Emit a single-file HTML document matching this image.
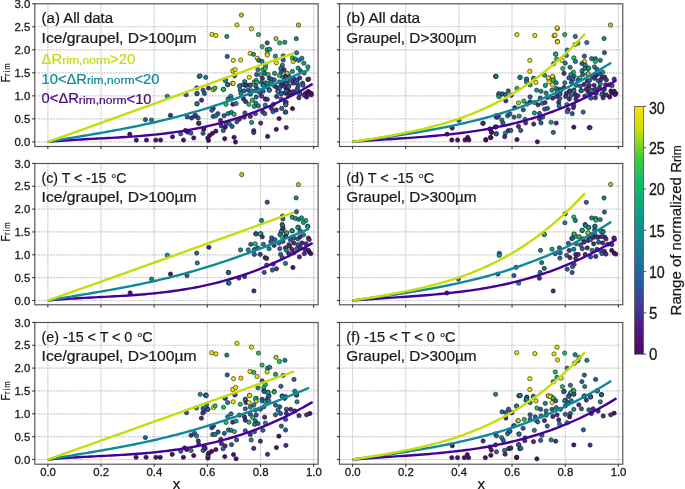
<!DOCTYPE html>
<html><head><meta charset="utf-8"><style>
html,body{margin:0;padding:0;background:#fff;overflow:hidden;width:685px;height:489px;}
svg{display:block;font-family:"Liberation Sans", sans-serif;will-change:transform;}
</style></head><body>
<svg width="685" height="489" viewBox="0 0 685 489">
<rect width="685" height="489" fill="#fff"/>
<line x1="47.85" y1="3.80" x2="47.85" y2="146.50" stroke="#cacaca" stroke-width="1.2" stroke-dasharray="2,1"/>
<line x1="101.01" y1="3.80" x2="101.01" y2="146.50" stroke="#cacaca" stroke-width="1.2" stroke-dasharray="2,1"/>
<line x1="154.17" y1="3.80" x2="154.17" y2="146.50" stroke="#cacaca" stroke-width="1.2" stroke-dasharray="2,1"/>
<line x1="207.33" y1="3.80" x2="207.33" y2="146.50" stroke="#cacaca" stroke-width="1.2" stroke-dasharray="2,1"/>
<line x1="260.49" y1="3.80" x2="260.49" y2="146.50" stroke="#cacaca" stroke-width="1.2" stroke-dasharray="2,1"/>
<line x1="313.65" y1="3.80" x2="313.65" y2="146.50" stroke="#cacaca" stroke-width="1.2" stroke-dasharray="2,1"/>
<line x1="34.80" y1="141.90" x2="318.10" y2="141.90" stroke="#cacaca" stroke-width="1.2" stroke-dasharray="2,1"/>
<line x1="34.80" y1="118.88" x2="318.10" y2="118.88" stroke="#cacaca" stroke-width="1.2" stroke-dasharray="2,1"/>
<line x1="34.80" y1="95.85" x2="318.10" y2="95.85" stroke="#cacaca" stroke-width="1.2" stroke-dasharray="2,1"/>
<line x1="34.80" y1="72.83" x2="318.10" y2="72.83" stroke="#cacaca" stroke-width="1.2" stroke-dasharray="2,1"/>
<line x1="34.80" y1="49.80" x2="318.10" y2="49.80" stroke="#cacaca" stroke-width="1.2" stroke-dasharray="2,1"/>
<line x1="34.80" y1="26.77" x2="318.10" y2="26.77" stroke="#cacaca" stroke-width="1.2" stroke-dasharray="2,1"/>
<circle cx="167.3" cy="96.3" r="2.15" fill="#0ca085" stroke="#151515" stroke-width="0.6"/>
<circle cx="145.4" cy="119.7" r="2.15" fill="#285fa0" stroke="#151515" stroke-width="0.6"/>
<circle cx="151.5" cy="120.1" r="2.15" fill="#168496" stroke="#151515" stroke-width="0.6"/>
<circle cx="170.5" cy="115.4" r="2.15" fill="#4a2a8a" stroke="#151515" stroke-width="0.6"/>
<circle cx="129.8" cy="134.2" r="2.15" fill="#510c6d" stroke="#151515" stroke-width="0.6"/>
<circle cx="136.3" cy="140.1" r="2.15" fill="#510c6d" stroke="#151515" stroke-width="0.6"/>
<circle cx="146.5" cy="140.1" r="2.15" fill="#510c6d" stroke="#151515" stroke-width="0.6"/>
<circle cx="155.8" cy="140.1" r="2.15" fill="#510c6d" stroke="#151515" stroke-width="0.6"/>
<circle cx="160.6" cy="140.1" r="2.15" fill="#510c6d" stroke="#151515" stroke-width="0.6"/>
<circle cx="172.5" cy="136.8" r="2.15" fill="#510c6d" stroke="#151515" stroke-width="0.6"/>
<circle cx="186.1" cy="94.8" r="2.15" fill="#285fa0" stroke="#151515" stroke-width="0.6"/>
<circle cx="197.0" cy="93.7" r="2.15" fill="#285fa0" stroke="#151515" stroke-width="0.6"/>
<circle cx="199.1" cy="76.4" r="2.15" fill="#168496" stroke="#151515" stroke-width="0.6"/>
<circle cx="197.0" cy="103.9" r="2.15" fill="#168496" stroke="#151515" stroke-width="0.6"/>
<circle cx="187.2" cy="116.9" r="2.15" fill="#285fa0" stroke="#151515" stroke-width="0.6"/>
<circle cx="191.6" cy="118.0" r="2.15" fill="#4a2a8a" stroke="#151515" stroke-width="0.6"/>
<circle cx="194.8" cy="115.8" r="2.15" fill="#285fa0" stroke="#151515" stroke-width="0.6"/>
<circle cx="198.1" cy="118.0" r="2.15" fill="#285fa0" stroke="#151515" stroke-width="0.6"/>
<circle cx="180.7" cy="133.8" r="2.15" fill="#285fa0" stroke="#151515" stroke-width="0.6"/>
<circle cx="185.5" cy="130.5" r="2.15" fill="#4a2a8a" stroke="#151515" stroke-width="0.6"/>
<circle cx="187.7" cy="132.1" r="2.15" fill="#510c6d" stroke="#151515" stroke-width="0.6"/>
<circle cx="190.9" cy="133.1" r="2.15" fill="#285fa0" stroke="#151515" stroke-width="0.6"/>
<circle cx="183.5" cy="140.1" r="2.15" fill="#510c6d" stroke="#151515" stroke-width="0.6"/>
<circle cx="193.7" cy="137.9" r="2.15" fill="#510c6d" stroke="#151515" stroke-width="0.6"/>
<circle cx="198.7" cy="123.4" r="2.15" fill="#510c6d" stroke="#151515" stroke-width="0.6"/>
<circle cx="241.4" cy="15.1" r="2.15" fill="#9dd918" stroke="#151515" stroke-width="0.6"/>
<circle cx="237.0" cy="24.9" r="2.15" fill="#f3e102" stroke="#151515" stroke-width="0.6"/>
<circle cx="211.9" cy="34.4" r="2.15" fill="#f3e102" stroke="#151515" stroke-width="0.6"/>
<circle cx="215.8" cy="35.5" r="2.15" fill="#f3e102" stroke="#151515" stroke-width="0.6"/>
<circle cx="226.8" cy="36.5" r="2.15" fill="#0ca085" stroke="#151515" stroke-width="0.6"/>
<circle cx="251.5" cy="28.7" r="2.15" fill="#f3e102" stroke="#151515" stroke-width="0.6"/>
<circle cx="258.5" cy="34.6" r="2.15" fill="#1ec15b" stroke="#151515" stroke-width="0.6"/>
<circle cx="298.5" cy="25.0" r="2.15" fill="#9dd918" stroke="#151515" stroke-width="0.6"/>
<circle cx="276.0" cy="38.7" r="2.15" fill="#9dd918" stroke="#151515" stroke-width="0.6"/>
<circle cx="279.7" cy="42.9" r="2.15" fill="#1ec15b" stroke="#151515" stroke-width="0.6"/>
<circle cx="284.8" cy="42.3" r="2.15" fill="#0ca085" stroke="#151515" stroke-width="0.6"/>
<circle cx="296.3" cy="38.7" r="2.15" fill="#168496" stroke="#151515" stroke-width="0.6"/>
<circle cx="267.2" cy="42.9" r="2.15" fill="#285fa0" stroke="#151515" stroke-width="0.6"/>
<circle cx="262.2" cy="46.6" r="2.15" fill="#1ec15b" stroke="#151515" stroke-width="0.6"/>
<circle cx="267.2" cy="49.7" r="2.15" fill="#0ca085" stroke="#151515" stroke-width="0.6"/>
<circle cx="269.6" cy="49.3" r="2.15" fill="#0ca085" stroke="#151515" stroke-width="0.6"/>
<circle cx="267.3" cy="53.8" r="2.15" fill="#f3e102" stroke="#151515" stroke-width="0.6"/>
<circle cx="250.2" cy="53.4" r="2.15" fill="#f3e102" stroke="#151515" stroke-width="0.6"/>
<circle cx="253.5" cy="54.3" r="2.15" fill="#0ca085" stroke="#151515" stroke-width="0.6"/>
<circle cx="227.2" cy="56.5" r="2.15" fill="#285fa0" stroke="#151515" stroke-width="0.6"/>
<circle cx="233.3" cy="60.4" r="2.15" fill="#f3e102" stroke="#151515" stroke-width="0.6"/>
<circle cx="240.7" cy="60.0" r="2.15" fill="#f3e102" stroke="#151515" stroke-width="0.6"/>
<circle cx="296.6" cy="52.8" r="2.15" fill="#168496" stroke="#151515" stroke-width="0.6"/>
<circle cx="232.7" cy="70.9" r="2.15" fill="#f3e102" stroke="#151515" stroke-width="0.6"/>
<circle cx="235.1" cy="69.6" r="2.15" fill="#f3e102" stroke="#151515" stroke-width="0.6"/>
<circle cx="234.6" cy="75.8" r="2.15" fill="#285fa0" stroke="#151515" stroke-width="0.6"/>
<circle cx="249.3" cy="77.3" r="2.15" fill="#f3e102" stroke="#151515" stroke-width="0.6"/>
<circle cx="200.2" cy="75.8" r="2.15" fill="#168496" stroke="#151515" stroke-width="0.6"/>
<circle cx="205.7" cy="77.3" r="2.15" fill="#168496" stroke="#151515" stroke-width="0.6"/>
<circle cx="225.4" cy="79.5" r="2.15" fill="#285fa0" stroke="#151515" stroke-width="0.6"/>
<circle cx="227.8" cy="84.7" r="2.15" fill="#168496" stroke="#151515" stroke-width="0.6"/>
<circle cx="232.7" cy="83.4" r="2.15" fill="#f3e102" stroke="#151515" stroke-width="0.6"/>
<circle cx="240.1" cy="85.6" r="2.15" fill="#1ec15b" stroke="#151515" stroke-width="0.6"/>
<circle cx="244.7" cy="81.6" r="2.15" fill="#168496" stroke="#151515" stroke-width="0.6"/>
<circle cx="246.5" cy="85.1" r="2.15" fill="#285fa0" stroke="#151515" stroke-width="0.6"/>
<circle cx="250.2" cy="85.1" r="2.15" fill="#4a2a8a" stroke="#151515" stroke-width="0.6"/>
<circle cx="213.4" cy="89.3" r="2.15" fill="#f3e102" stroke="#151515" stroke-width="0.6"/>
<circle cx="223.5" cy="89.3" r="2.15" fill="#9dd918" stroke="#151515" stroke-width="0.6"/>
<circle cx="196.8" cy="87.8" r="2.15" fill="#285fa0" stroke="#151515" stroke-width="0.6"/>
<circle cx="225.3" cy="80.7" r="2.15" fill="#168496" stroke="#151515" stroke-width="0.6"/>
<circle cx="233.2" cy="83.4" r="2.15" fill="#f3e102" stroke="#151515" stroke-width="0.6"/>
<circle cx="227.6" cy="84.7" r="2.15" fill="#168496" stroke="#151515" stroke-width="0.6"/>
<circle cx="223.3" cy="89.4" r="2.15" fill="#1ec15b" stroke="#151515" stroke-width="0.6"/>
<circle cx="213.2" cy="89.7" r="2.15" fill="#9dd918" stroke="#151515" stroke-width="0.6"/>
<circle cx="215.0" cy="88.1" r="2.15" fill="#1ec15b" stroke="#151515" stroke-width="0.6"/>
<circle cx="208.5" cy="88.1" r="2.15" fill="#4a2a8a" stroke="#151515" stroke-width="0.6"/>
<circle cx="203.1" cy="90.1" r="2.15" fill="#285fa0" stroke="#151515" stroke-width="0.6"/>
<circle cx="204.4" cy="93.5" r="2.15" fill="#285fa0" stroke="#151515" stroke-width="0.6"/>
<circle cx="197.0" cy="93.5" r="2.15" fill="#285fa0" stroke="#151515" stroke-width="0.6"/>
<circle cx="239.5" cy="86.1" r="2.15" fill="#168496" stroke="#151515" stroke-width="0.6"/>
<circle cx="243.5" cy="84.7" r="2.15" fill="#168496" stroke="#151515" stroke-width="0.6"/>
<circle cx="245.6" cy="85.4" r="2.15" fill="#4a2a8a" stroke="#151515" stroke-width="0.6"/>
<circle cx="250.3" cy="85.4" r="2.15" fill="#285fa0" stroke="#151515" stroke-width="0.6"/>
<circle cx="254.3" cy="82.0" r="2.15" fill="#1ec15b" stroke="#151515" stroke-width="0.6"/>
<circle cx="240.2" cy="90.1" r="2.15" fill="#168496" stroke="#151515" stroke-width="0.6"/>
<circle cx="244.2" cy="90.8" r="2.15" fill="#285fa0" stroke="#151515" stroke-width="0.6"/>
<circle cx="248.3" cy="90.1" r="2.15" fill="#285fa0" stroke="#151515" stroke-width="0.6"/>
<circle cx="251.6" cy="90.8" r="2.15" fill="#168496" stroke="#151515" stroke-width="0.6"/>
<circle cx="240.9" cy="93.5" r="2.15" fill="#168496" stroke="#151515" stroke-width="0.6"/>
<circle cx="250.3" cy="94.2" r="2.15" fill="#4a2a8a" stroke="#151515" stroke-width="0.6"/>
<circle cx="230.7" cy="96.2" r="2.15" fill="#0ca085" stroke="#151515" stroke-width="0.6"/>
<circle cx="228.0" cy="98.9" r="2.15" fill="#168496" stroke="#151515" stroke-width="0.6"/>
<circle cx="231.4" cy="98.9" r="2.15" fill="#168496" stroke="#151515" stroke-width="0.6"/>
<circle cx="226.0" cy="104.3" r="2.15" fill="#1ec15b" stroke="#151515" stroke-width="0.6"/>
<circle cx="232.8" cy="104.3" r="2.15" fill="#4a2a8a" stroke="#151515" stroke-width="0.6"/>
<circle cx="236.1" cy="103.6" r="2.15" fill="#168496" stroke="#151515" stroke-width="0.6"/>
<circle cx="243.5" cy="98.9" r="2.15" fill="#4a2a8a" stroke="#151515" stroke-width="0.6"/>
<circle cx="245.6" cy="101.6" r="2.15" fill="#4a2a8a" stroke="#151515" stroke-width="0.6"/>
<circle cx="248.9" cy="104.3" r="2.15" fill="#1ec15b" stroke="#151515" stroke-width="0.6"/>
<circle cx="252.3" cy="100.2" r="2.15" fill="#1ec15b" stroke="#151515" stroke-width="0.6"/>
<circle cx="254.3" cy="106.3" r="2.15" fill="#0ca085" stroke="#151515" stroke-width="0.6"/>
<circle cx="201.5" cy="100.2" r="2.15" fill="#4a2a8a" stroke="#151515" stroke-width="0.6"/>
<circle cx="197.0" cy="103.6" r="2.15" fill="#168496" stroke="#151515" stroke-width="0.6"/>
<circle cx="213.2" cy="108.3" r="2.15" fill="#4a2a8a" stroke="#151515" stroke-width="0.6"/>
<circle cx="211.9" cy="110.3" r="2.15" fill="#285fa0" stroke="#151515" stroke-width="0.6"/>
<circle cx="217.9" cy="113.7" r="2.15" fill="#285fa0" stroke="#151515" stroke-width="0.6"/>
<circle cx="213.2" cy="116.4" r="2.15" fill="#285fa0" stroke="#151515" stroke-width="0.6"/>
<circle cx="215.9" cy="115.7" r="2.15" fill="#168496" stroke="#151515" stroke-width="0.6"/>
<circle cx="224.0" cy="115.7" r="2.15" fill="#285fa0" stroke="#151515" stroke-width="0.6"/>
<circle cx="228.0" cy="113.7" r="2.15" fill="#168496" stroke="#151515" stroke-width="0.6"/>
<circle cx="231.4" cy="112.4" r="2.15" fill="#168496" stroke="#151515" stroke-width="0.6"/>
<circle cx="234.1" cy="114.4" r="2.15" fill="#1ec15b" stroke="#151515" stroke-width="0.6"/>
<circle cx="244.9" cy="113.0" r="2.15" fill="#285fa0" stroke="#151515" stroke-width="0.6"/>
<circle cx="250.3" cy="116.4" r="2.15" fill="#4a2a8a" stroke="#151515" stroke-width="0.6"/>
<circle cx="195.7" cy="115.7" r="2.15" fill="#4a2a8a" stroke="#151515" stroke-width="0.6"/>
<circle cx="198.8" cy="123.2" r="2.15" fill="#4a2a8a" stroke="#151515" stroke-width="0.6"/>
<circle cx="203.8" cy="129.2" r="2.15" fill="#510c6d" stroke="#151515" stroke-width="0.6"/>
<circle cx="203.1" cy="133.3" r="2.15" fill="#285fa0" stroke="#151515" stroke-width="0.6"/>
<circle cx="220.6" cy="120.5" r="2.15" fill="#4a2a8a" stroke="#151515" stroke-width="0.6"/>
<circle cx="221.3" cy="125.9" r="2.15" fill="#4a2a8a" stroke="#151515" stroke-width="0.6"/>
<circle cx="225.3" cy="127.2" r="2.15" fill="#510c6d" stroke="#151515" stroke-width="0.6"/>
<circle cx="226.0" cy="123.2" r="2.15" fill="#285fa0" stroke="#151515" stroke-width="0.6"/>
<circle cx="229.4" cy="123.8" r="2.15" fill="#168496" stroke="#151515" stroke-width="0.6"/>
<circle cx="232.1" cy="126.5" r="2.15" fill="#285fa0" stroke="#151515" stroke-width="0.6"/>
<circle cx="236.8" cy="121.8" r="2.15" fill="#285fa0" stroke="#151515" stroke-width="0.6"/>
<circle cx="239.5" cy="119.1" r="2.15" fill="#4a2a8a" stroke="#151515" stroke-width="0.6"/>
<circle cx="244.2" cy="117.1" r="2.15" fill="#4a2a8a" stroke="#151515" stroke-width="0.6"/>
<circle cx="251.6" cy="122.5" r="2.15" fill="#0ca085" stroke="#151515" stroke-width="0.6"/>
<circle cx="223.3" cy="130.6" r="2.15" fill="#285fa0" stroke="#151515" stroke-width="0.6"/>
<circle cx="215.9" cy="131.2" r="2.15" fill="#510c6d" stroke="#151515" stroke-width="0.6"/>
<circle cx="212.5" cy="133.3" r="2.15" fill="#510c6d" stroke="#151515" stroke-width="0.6"/>
<circle cx="209.8" cy="135.3" r="2.15" fill="#510c6d" stroke="#151515" stroke-width="0.6"/>
<circle cx="207.8" cy="138.0" r="2.15" fill="#510c6d" stroke="#151515" stroke-width="0.6"/>
<circle cx="208.5" cy="140.4" r="2.15" fill="#510c6d" stroke="#151515" stroke-width="0.6"/>
<circle cx="224.7" cy="138.7" r="2.15" fill="#510c6d" stroke="#151515" stroke-width="0.6"/>
<circle cx="234.1" cy="137.3" r="2.15" fill="#510c6d" stroke="#151515" stroke-width="0.6"/>
<circle cx="235.5" cy="142.0" r="2.15" fill="#510c6d" stroke="#151515" stroke-width="0.6"/>
<circle cx="253.7" cy="130.6" r="2.15" fill="#4a2a8a" stroke="#151515" stroke-width="0.6"/>
<circle cx="253.7" cy="132.6" r="2.15" fill="#4a2a8a" stroke="#151515" stroke-width="0.6"/>
<circle cx="257.3" cy="58.3" r="2.15" fill="#f3e102" stroke="#151515" stroke-width="0.6"/>
<circle cx="258.7" cy="60.3" r="2.15" fill="#168496" stroke="#151515" stroke-width="0.6"/>
<circle cx="262.0" cy="61.5" r="2.15" fill="#168496" stroke="#151515" stroke-width="0.6"/>
<circle cx="267.3" cy="55.0" r="2.15" fill="#f3e102" stroke="#151515" stroke-width="0.6"/>
<circle cx="275.4" cy="56.2" r="2.15" fill="#0ca085" stroke="#151515" stroke-width="0.6"/>
<circle cx="283.2" cy="55.8" r="2.15" fill="#168496" stroke="#151515" stroke-width="0.6"/>
<circle cx="283.2" cy="59.9" r="2.15" fill="#285fa0" stroke="#151515" stroke-width="0.6"/>
<circle cx="276.3" cy="62.8" r="2.15" fill="#f3e102" stroke="#151515" stroke-width="0.6"/>
<circle cx="265.6" cy="66.0" r="2.15" fill="#1ec15b" stroke="#151515" stroke-width="0.6"/>
<circle cx="263.2" cy="69.7" r="2.15" fill="#1ec15b" stroke="#151515" stroke-width="0.6"/>
<circle cx="265.2" cy="68.5" r="2.15" fill="#1ec15b" stroke="#151515" stroke-width="0.6"/>
<circle cx="257.9" cy="69.7" r="2.15" fill="#168496" stroke="#151515" stroke-width="0.6"/>
<circle cx="282.4" cy="65.2" r="2.15" fill="#168496" stroke="#151515" stroke-width="0.6"/>
<circle cx="280.8" cy="68.5" r="2.15" fill="#168496" stroke="#151515" stroke-width="0.6"/>
<circle cx="284.0" cy="69.7" r="2.15" fill="#4a2a8a" stroke="#151515" stroke-width="0.6"/>
<circle cx="281.2" cy="72.2" r="2.15" fill="#285fa0" stroke="#151515" stroke-width="0.6"/>
<circle cx="286.9" cy="73.4" r="2.15" fill="#9dd918" stroke="#151515" stroke-width="0.6"/>
<circle cx="274.6" cy="73.4" r="2.15" fill="#0ca085" stroke="#151515" stroke-width="0.6"/>
<circle cx="260.7" cy="74.6" r="2.15" fill="#1ec15b" stroke="#151515" stroke-width="0.6"/>
<circle cx="264.8" cy="73.4" r="2.15" fill="#285fa0" stroke="#151515" stroke-width="0.6"/>
<circle cx="268.1" cy="74.6" r="2.15" fill="#1ec15b" stroke="#151515" stroke-width="0.6"/>
<circle cx="256.6" cy="74.6" r="2.15" fill="#285fa0" stroke="#151515" stroke-width="0.6"/>
<circle cx="279.5" cy="75.4" r="2.15" fill="#1ec15b" stroke="#151515" stroke-width="0.6"/>
<circle cx="282.8" cy="77.1" r="2.15" fill="#168496" stroke="#151515" stroke-width="0.6"/>
<circle cx="285.7" cy="76.3" r="2.15" fill="#4a2a8a" stroke="#151515" stroke-width="0.6"/>
<circle cx="288.5" cy="75.4" r="2.15" fill="#285fa0" stroke="#151515" stroke-width="0.6"/>
<circle cx="262.4" cy="78.3" r="2.15" fill="#4a2a8a" stroke="#151515" stroke-width="0.6"/>
<circle cx="269.3" cy="78.3" r="2.15" fill="#285fa0" stroke="#151515" stroke-width="0.6"/>
<circle cx="271.4" cy="79.1" r="2.15" fill="#285fa0" stroke="#151515" stroke-width="0.6"/>
<circle cx="274.2" cy="79.9" r="2.15" fill="#285fa0" stroke="#151515" stroke-width="0.6"/>
<circle cx="256.2" cy="80.4" r="2.15" fill="#1ec15b" stroke="#151515" stroke-width="0.6"/>
<circle cx="256.6" cy="82.4" r="2.15" fill="#1ec15b" stroke="#151515" stroke-width="0.6"/>
<circle cx="261.5" cy="82.4" r="2.15" fill="#285fa0" stroke="#151515" stroke-width="0.6"/>
<circle cx="265.6" cy="82.8" r="2.15" fill="#168496" stroke="#151515" stroke-width="0.6"/>
<circle cx="267.7" cy="83.6" r="2.15" fill="#0ca085" stroke="#151515" stroke-width="0.6"/>
<circle cx="270.9" cy="82.4" r="2.15" fill="#168496" stroke="#151515" stroke-width="0.6"/>
<circle cx="279.5" cy="82.0" r="2.15" fill="#285fa0" stroke="#151515" stroke-width="0.6"/>
<circle cx="282.8" cy="83.6" r="2.15" fill="#4a2a8a" stroke="#151515" stroke-width="0.6"/>
<circle cx="286.1" cy="82.8" r="2.15" fill="#285fa0" stroke="#151515" stroke-width="0.6"/>
<circle cx="255.8" cy="86.1" r="2.15" fill="#285fa0" stroke="#151515" stroke-width="0.6"/>
<circle cx="263.2" cy="85.3" r="2.15" fill="#168496" stroke="#151515" stroke-width="0.6"/>
<circle cx="267.3" cy="86.9" r="2.15" fill="#168496" stroke="#151515" stroke-width="0.6"/>
<circle cx="274.6" cy="86.1" r="2.15" fill="#4a2a8a" stroke="#151515" stroke-width="0.6"/>
<circle cx="276.7" cy="87.3" r="2.15" fill="#4a2a8a" stroke="#151515" stroke-width="0.6"/>
<circle cx="281.2" cy="86.1" r="2.15" fill="#4a2a8a" stroke="#151515" stroke-width="0.6"/>
<circle cx="285.3" cy="86.9" r="2.15" fill="#4a2a8a" stroke="#151515" stroke-width="0.6"/>
<circle cx="288.5" cy="85.7" r="2.15" fill="#4a2a8a" stroke="#151515" stroke-width="0.6"/>
<circle cx="257.5" cy="89.3" r="2.15" fill="#285fa0" stroke="#151515" stroke-width="0.6"/>
<circle cx="269.3" cy="89.8" r="2.15" fill="#168496" stroke="#151515" stroke-width="0.6"/>
<circle cx="277.9" cy="91.0" r="2.15" fill="#168496" stroke="#151515" stroke-width="0.6"/>
<circle cx="279.5" cy="88.5" r="2.15" fill="#285fa0" stroke="#151515" stroke-width="0.6"/>
<circle cx="286.9" cy="89.3" r="2.15" fill="#4a2a8a" stroke="#151515" stroke-width="0.6"/>
<circle cx="288.5" cy="91.0" r="2.15" fill="#4a2a8a" stroke="#151515" stroke-width="0.6"/>
<circle cx="259.9" cy="92.6" r="2.15" fill="#285fa0" stroke="#151515" stroke-width="0.6"/>
<circle cx="281.2" cy="93.4" r="2.15" fill="#285fa0" stroke="#151515" stroke-width="0.6"/>
<circle cx="285.3" cy="93.0" r="2.15" fill="#4a2a8a" stroke="#151515" stroke-width="0.6"/>
<circle cx="292.4" cy="57.9" r="2.15" fill="#1ec15b" stroke="#151515" stroke-width="0.6"/>
<circle cx="293.2" cy="61.5" r="2.15" fill="#f3e102" stroke="#151515" stroke-width="0.6"/>
<circle cx="295.2" cy="59.1" r="2.15" fill="#168496" stroke="#151515" stroke-width="0.6"/>
<circle cx="298.9" cy="60.3" r="2.15" fill="#168496" stroke="#151515" stroke-width="0.6"/>
<circle cx="301.8" cy="58.3" r="2.15" fill="#168496" stroke="#151515" stroke-width="0.6"/>
<circle cx="303.8" cy="63.2" r="2.15" fill="#0ca085" stroke="#151515" stroke-width="0.6"/>
<circle cx="307.9" cy="66.9" r="2.15" fill="#0ca085" stroke="#151515" stroke-width="0.6"/>
<circle cx="298.1" cy="68.1" r="2.15" fill="#0ca085" stroke="#151515" stroke-width="0.6"/>
<circle cx="292.4" cy="71.4" r="2.15" fill="#0ca085" stroke="#151515" stroke-width="0.6"/>
<circle cx="300.5" cy="70.9" r="2.15" fill="#285fa0" stroke="#151515" stroke-width="0.6"/>
<circle cx="304.2" cy="73.0" r="2.15" fill="#168496" stroke="#151515" stroke-width="0.6"/>
<circle cx="287.0" cy="73.4" r="2.15" fill="#9dd918" stroke="#151515" stroke-width="0.6"/>
<circle cx="285.8" cy="76.7" r="2.15" fill="#4a2a8a" stroke="#151515" stroke-width="0.6"/>
<circle cx="289.9" cy="80.4" r="2.15" fill="#285fa0" stroke="#151515" stroke-width="0.6"/>
<circle cx="294.0" cy="79.1" r="2.15" fill="#4a2a8a" stroke="#151515" stroke-width="0.6"/>
<circle cx="297.3" cy="79.9" r="2.15" fill="#285fa0" stroke="#151515" stroke-width="0.6"/>
<circle cx="299.7" cy="77.9" r="2.15" fill="#4a2a8a" stroke="#151515" stroke-width="0.6"/>
<circle cx="307.9" cy="79.5" r="2.15" fill="#4a2a8a" stroke="#151515" stroke-width="0.6"/>
<circle cx="308.7" cy="79.1" r="2.15" fill="#4a2a8a" stroke="#151515" stroke-width="0.6"/>
<circle cx="293.2" cy="83.2" r="2.15" fill="#4a2a8a" stroke="#151515" stroke-width="0.6"/>
<circle cx="297.3" cy="83.6" r="2.15" fill="#285fa0" stroke="#151515" stroke-width="0.6"/>
<circle cx="302.6" cy="83.2" r="2.15" fill="#285fa0" stroke="#151515" stroke-width="0.6"/>
<circle cx="286.2" cy="83.6" r="2.15" fill="#285fa0" stroke="#151515" stroke-width="0.6"/>
<circle cx="288.7" cy="86.5" r="2.15" fill="#285fa0" stroke="#151515" stroke-width="0.6"/>
<circle cx="298.1" cy="86.1" r="2.15" fill="#285fa0" stroke="#151515" stroke-width="0.6"/>
<circle cx="303.0" cy="85.3" r="2.15" fill="#285fa0" stroke="#151515" stroke-width="0.6"/>
<circle cx="286.6" cy="91.0" r="2.15" fill="#168496" stroke="#151515" stroke-width="0.6"/>
<circle cx="297.3" cy="88.9" r="2.15" fill="#285fa0" stroke="#151515" stroke-width="0.6"/>
<circle cx="289.1" cy="92.2" r="2.15" fill="#4a2a8a" stroke="#151515" stroke-width="0.6"/>
<circle cx="292.4" cy="93.4" r="2.15" fill="#4a2a8a" stroke="#151515" stroke-width="0.6"/>
<circle cx="299.7" cy="93.0" r="2.15" fill="#4a2a8a" stroke="#151515" stroke-width="0.6"/>
<circle cx="305.4" cy="93.4" r="2.15" fill="#510c6d" stroke="#151515" stroke-width="0.6"/>
<circle cx="308.7" cy="91.8" r="2.15" fill="#510c6d" stroke="#151515" stroke-width="0.6"/>
<circle cx="311.2" cy="93.4" r="2.15" fill="#510c6d" stroke="#151515" stroke-width="0.6"/>
<circle cx="255.8" cy="90.8" r="2.15" fill="#168496" stroke="#151515" stroke-width="0.6"/>
<circle cx="259.1" cy="91.2" r="2.15" fill="#168496" stroke="#151515" stroke-width="0.6"/>
<circle cx="263.2" cy="91.2" r="2.15" fill="#285fa0" stroke="#151515" stroke-width="0.6"/>
<circle cx="269.3" cy="90.4" r="2.15" fill="#168496" stroke="#151515" stroke-width="0.6"/>
<circle cx="277.9" cy="91.6" r="2.15" fill="#168496" stroke="#151515" stroke-width="0.6"/>
<circle cx="281.2" cy="93.7" r="2.15" fill="#285fa0" stroke="#151515" stroke-width="0.6"/>
<circle cx="286.1" cy="91.2" r="2.15" fill="#285fa0" stroke="#151515" stroke-width="0.6"/>
<circle cx="256.2" cy="97.0" r="2.15" fill="#285fa0" stroke="#151515" stroke-width="0.6"/>
<circle cx="261.5" cy="96.1" r="2.15" fill="#4a2a8a" stroke="#151515" stroke-width="0.6"/>
<circle cx="265.2" cy="99.0" r="2.15" fill="#4a2a8a" stroke="#151515" stroke-width="0.6"/>
<circle cx="267.3" cy="99.4" r="2.15" fill="#4a2a8a" stroke="#151515" stroke-width="0.6"/>
<circle cx="276.7" cy="96.5" r="2.15" fill="#4a2a8a" stroke="#151515" stroke-width="0.6"/>
<circle cx="281.2" cy="99.0" r="2.15" fill="#285fa0" stroke="#151515" stroke-width="0.6"/>
<circle cx="288.5" cy="95.7" r="2.15" fill="#4a2a8a" stroke="#151515" stroke-width="0.6"/>
<circle cx="255.8" cy="103.1" r="2.15" fill="#168496" stroke="#151515" stroke-width="0.6"/>
<circle cx="258.3" cy="105.9" r="2.15" fill="#168496" stroke="#151515" stroke-width="0.6"/>
<circle cx="265.2" cy="105.1" r="2.15" fill="#168496" stroke="#151515" stroke-width="0.6"/>
<circle cx="273.4" cy="104.3" r="2.15" fill="#285fa0" stroke="#151515" stroke-width="0.6"/>
<circle cx="271.4" cy="108.4" r="2.15" fill="#4a2a8a" stroke="#151515" stroke-width="0.6"/>
<circle cx="285.3" cy="102.7" r="2.15" fill="#4a2a8a" stroke="#151515" stroke-width="0.6"/>
<circle cx="285.7" cy="104.7" r="2.15" fill="#168496" stroke="#151515" stroke-width="0.6"/>
<circle cx="262.8" cy="112.1" r="2.15" fill="#4a2a8a" stroke="#151515" stroke-width="0.6"/>
<circle cx="264.8" cy="113.7" r="2.15" fill="#285fa0" stroke="#151515" stroke-width="0.6"/>
<circle cx="273.0" cy="111.7" r="2.15" fill="#285fa0" stroke="#151515" stroke-width="0.6"/>
<circle cx="276.3" cy="110.0" r="2.15" fill="#4a2a8a" stroke="#151515" stroke-width="0.6"/>
<circle cx="281.6" cy="108.4" r="2.15" fill="#285fa0" stroke="#151515" stroke-width="0.6"/>
<circle cx="285.3" cy="112.1" r="2.15" fill="#285fa0" stroke="#151515" stroke-width="0.6"/>
<circle cx="255.4" cy="113.7" r="2.15" fill="#285fa0" stroke="#151515" stroke-width="0.6"/>
<circle cx="279.1" cy="118.6" r="2.15" fill="#510c6d" stroke="#151515" stroke-width="0.6"/>
<circle cx="260.7" cy="123.1" r="2.15" fill="#4a2a8a" stroke="#151515" stroke-width="0.6"/>
<circle cx="276.3" cy="129.3" r="2.15" fill="#510c6d" stroke="#151515" stroke-width="0.6"/>
<circle cx="286.2" cy="91.2" r="2.15" fill="#285fa0" stroke="#151515" stroke-width="0.6"/>
<circle cx="289.9" cy="92.5" r="2.15" fill="#4a2a8a" stroke="#151515" stroke-width="0.6"/>
<circle cx="293.2" cy="91.6" r="2.15" fill="#4a2a8a" stroke="#151515" stroke-width="0.6"/>
<circle cx="297.3" cy="90.8" r="2.15" fill="#285fa0" stroke="#151515" stroke-width="0.6"/>
<circle cx="299.7" cy="94.1" r="2.15" fill="#285fa0" stroke="#151515" stroke-width="0.6"/>
<circle cx="298.9" cy="97.8" r="2.15" fill="#4a2a8a" stroke="#151515" stroke-width="0.6"/>
<circle cx="304.2" cy="95.3" r="2.15" fill="#4a2a8a" stroke="#151515" stroke-width="0.6"/>
<circle cx="306.7" cy="97.0" r="2.15" fill="#510c6d" stroke="#151515" stroke-width="0.6"/>
<circle cx="307.9" cy="91.6" r="2.15" fill="#510c6d" stroke="#151515" stroke-width="0.6"/>
<circle cx="309.5" cy="93.3" r="2.15" fill="#510c6d" stroke="#151515" stroke-width="0.6"/>
<circle cx="311.2" cy="94.9" r="2.15" fill="#510c6d" stroke="#151515" stroke-width="0.6"/>
<circle cx="286.2" cy="102.3" r="2.15" fill="#4a2a8a" stroke="#151515" stroke-width="0.6"/>
<circle cx="285.8" cy="104.7" r="2.15" fill="#168496" stroke="#151515" stroke-width="0.6"/>
<circle cx="292.5" cy="108.6" r="2.15" fill="#510c6d" stroke="#151515" stroke-width="0.6"/>
<circle cx="285.8" cy="112.1" r="2.15" fill="#285fa0" stroke="#151515" stroke-width="0.6"/>
<circle cx="286.2" cy="127.6" r="2.15" fill="#4a2a8a" stroke="#151515" stroke-width="0.6"/>
<circle cx="267.6" cy="136.4" r="2.15" fill="#510c6d" stroke="#151515" stroke-width="0.6"/>
<path d="M47.85,141.90 L51.20,141.58 L54.55,141.29 L57.90,141.01 L61.25,140.75 L64.61,140.50 L67.96,140.27 L71.31,140.05 L74.66,139.84 L78.01,139.63 L81.36,139.44 L84.71,139.26 L88.06,139.07 L91.41,138.90 L94.77,138.72 L98.12,138.55 L101.47,138.38 L104.82,138.20 L108.17,138.02 L111.52,137.84 L114.87,137.65 L118.22,137.46 L121.57,137.26 L124.93,137.05 L128.28,136.83 L131.63,136.60 L134.98,136.36 L138.33,136.10 L141.68,135.83 L145.03,135.55 L148.38,135.25 L151.73,134.93 L155.09,134.59 L158.44,134.24 L161.79,133.86 L165.14,133.46 L168.49,133.04 L171.84,132.60 L175.19,132.13 L178.54,131.64 L181.89,131.12 L185.25,130.58 L188.60,130.00 L191.95,129.40 L195.30,128.77 L198.65,128.12 L202.00,127.43 L205.35,126.71 L208.70,125.95 L212.05,125.17 L215.40,124.35 L218.76,123.50 L222.11,122.62 L225.46,121.69 L228.81,120.74 L232.16,119.74 L235.51,118.72 L238.86,117.65 L242.21,116.54 L245.56,115.40 L248.92,114.22 L252.27,113.00 L255.62,111.74 L258.97,110.44 L262.32,109.09 L265.67,107.71 L269.02,106.29 L272.37,104.82 L275.72,103.32 L279.08,101.77 L282.43,100.18 L285.78,98.54 L289.13,96.86 L292.48,95.14 L295.83,93.38 L299.18,91.57 L302.53,89.72 L305.88,87.82 L309.24,85.88 L312.59,83.90" fill="none" stroke="#47009a" stroke-width="2.4" stroke-linecap="butt" stroke-linejoin="round"/>
<path d="M47.85,141.90 L51.16,141.31 L54.46,140.73 L57.77,140.16 L61.08,139.60 L64.39,139.04 L67.69,138.48 L71.00,137.92 L74.31,137.37 L77.62,136.82 L80.92,136.27 L84.23,135.72 L87.54,135.16 L90.85,134.60 L94.15,134.04 L97.46,133.48 L100.77,132.91 L104.08,132.33 L107.38,131.74 L110.69,131.15 L114.00,130.55 L117.30,129.94 L120.61,129.32 L123.92,128.69 L127.23,128.05 L130.53,127.40 L133.84,126.74 L137.15,126.06 L140.46,125.37 L143.76,124.67 L147.07,123.95 L150.38,123.22 L153.69,122.47 L156.99,121.71 L160.30,120.93 L163.61,120.14 L166.91,119.33 L170.22,118.51 L173.53,117.67 L176.84,116.81 L180.14,115.93 L183.45,115.04 L186.76,114.13 L190.07,113.20 L193.37,112.26 L196.68,111.30 L199.99,110.32 L203.30,109.32 L206.60,108.31 L209.91,107.28 L213.22,106.23 L216.53,105.16 L219.83,104.08 L223.14,102.98 L226.45,101.86 L229.75,100.73 L233.06,99.58 L236.37,98.41 L239.68,97.23 L242.98,96.04 L246.29,94.83 L249.60,93.60 L252.91,92.36 L256.21,91.11 L259.52,89.84 L262.83,88.56 L266.14,87.27 L269.44,85.96 L272.75,84.65 L276.06,83.32 L279.37,81.98 L282.67,80.64 L285.98,79.28 L289.29,77.92 L292.59,76.55 L295.90,75.17 L299.21,73.79 L302.52,72.40 L305.82,71.01 L309.13,69.61" fill="none" stroke="#0e8a98" stroke-width="2.4" stroke-linecap="butt" stroke-linejoin="round"/>
<path d="M47.85,141.90 L50.97,140.79 L54.09,139.68 L57.21,138.56 L60.33,137.45 L63.44,136.34 L66.56,135.22 L69.68,134.11 L72.80,132.99 L75.92,131.88 L79.04,130.76 L82.16,129.64 L85.28,128.53 L88.40,127.41 L91.52,126.29 L94.63,125.17 L97.75,124.05 L100.87,122.93 L103.99,121.81 L107.11,120.69 L110.23,119.57 L113.35,118.45 L116.47,117.33 L119.59,116.21 L122.70,115.09 L125.82,113.97 L128.94,112.84 L132.06,111.72 L135.18,110.60 L138.30,109.47 L141.42,108.35 L144.54,107.22 L147.66,106.10 L150.78,104.97 L153.89,103.85 L157.01,102.72 L160.13,101.60 L163.25,100.47 L166.37,99.35 L169.49,98.22 L172.61,97.09 L175.73,95.97 L178.85,94.84 L181.96,93.71 L185.08,92.58 L188.20,91.46 L191.32,90.33 L194.44,89.20 L197.56,88.07 L200.68,86.94 L203.80,85.81 L206.92,84.69 L210.04,83.56 L213.15,82.43 L216.27,81.30 L219.39,80.17 L222.51,79.04 L225.63,77.91 L228.75,76.78 L231.87,75.65 L234.99,74.52 L238.11,73.39 L241.22,72.26 L244.34,71.13 L247.46,70.00 L250.58,68.87 L253.70,67.74 L256.82,66.61 L259.94,65.48 L263.06,64.35 L266.18,63.22 L269.30,62.09 L272.41,60.96 L275.53,59.83 L278.65,58.70 L281.77,57.58 L284.89,56.45 L288.01,55.32 L291.13,54.19 L294.25,53.06" fill="none" stroke="#c8dc0a" stroke-width="2.4" stroke-linecap="butt" stroke-linejoin="round"/>
<rect x="34.80" y="3.80" width="283.30" height="142.70" fill="none" stroke="#505050" stroke-width="1.15"/>
<line x1="47.85" y1="146.50" x2="47.85" y2="149.10" stroke="#333" stroke-width="1.1"/>
<line x1="101.01" y1="146.50" x2="101.01" y2="149.10" stroke="#333" stroke-width="1.1"/>
<line x1="154.17" y1="146.50" x2="154.17" y2="149.10" stroke="#333" stroke-width="1.1"/>
<line x1="207.33" y1="146.50" x2="207.33" y2="149.10" stroke="#333" stroke-width="1.1"/>
<line x1="260.49" y1="146.50" x2="260.49" y2="149.10" stroke="#333" stroke-width="1.1"/>
<line x1="313.65" y1="146.50" x2="313.65" y2="149.10" stroke="#333" stroke-width="1.1"/>
<line x1="32.20" y1="141.90" x2="34.80" y2="141.90" stroke="#333" stroke-width="1.1"/>
<line x1="32.20" y1="118.88" x2="34.80" y2="118.88" stroke="#333" stroke-width="1.1"/>
<line x1="32.20" y1="95.85" x2="34.80" y2="95.85" stroke="#333" stroke-width="1.1"/>
<line x1="32.20" y1="72.83" x2="34.80" y2="72.83" stroke="#333" stroke-width="1.1"/>
<line x1="32.20" y1="49.80" x2="34.80" y2="49.80" stroke="#333" stroke-width="1.1"/>
<line x1="32.20" y1="26.77" x2="34.80" y2="26.77" stroke="#333" stroke-width="1.1"/>
<line x1="32.20" y1="3.75" x2="34.80" y2="3.75" stroke="#333" stroke-width="1.1"/>
<text x="30.30" y="146.00" text-anchor="end" font-size="11.4" fill="#1a1a1a" stroke="#1a1a1a" stroke-width="0.3">0.0</text>
<text x="30.30" y="122.97" text-anchor="end" font-size="11.4" fill="#1a1a1a" stroke="#1a1a1a" stroke-width="0.3">0.5</text>
<text x="30.30" y="99.95" text-anchor="end" font-size="11.4" fill="#1a1a1a" stroke="#1a1a1a" stroke-width="0.3">1.0</text>
<text x="30.30" y="76.92" text-anchor="end" font-size="11.4" fill="#1a1a1a" stroke="#1a1a1a" stroke-width="0.3">1.5</text>
<text x="30.30" y="53.90" text-anchor="end" font-size="11.4" fill="#1a1a1a" stroke="#1a1a1a" stroke-width="0.3">2.0</text>
<text x="30.30" y="30.87" text-anchor="end" font-size="11.4" fill="#1a1a1a" stroke="#1a1a1a" stroke-width="0.3">2.5</text>
<text x="30.30" y="7.85" text-anchor="end" font-size="11.4" fill="#1a1a1a" stroke="#1a1a1a" stroke-width="0.3">3.0</text>
<line x1="352.55" y1="3.80" x2="352.55" y2="146.50" stroke="#cacaca" stroke-width="1.2" stroke-dasharray="2,1"/>
<line x1="405.71" y1="3.80" x2="405.71" y2="146.50" stroke="#cacaca" stroke-width="1.2" stroke-dasharray="2,1"/>
<line x1="458.87" y1="3.80" x2="458.87" y2="146.50" stroke="#cacaca" stroke-width="1.2" stroke-dasharray="2,1"/>
<line x1="512.03" y1="3.80" x2="512.03" y2="146.50" stroke="#cacaca" stroke-width="1.2" stroke-dasharray="2,1"/>
<line x1="565.19" y1="3.80" x2="565.19" y2="146.50" stroke="#cacaca" stroke-width="1.2" stroke-dasharray="2,1"/>
<line x1="618.35" y1="3.80" x2="618.35" y2="146.50" stroke="#cacaca" stroke-width="1.2" stroke-dasharray="2,1"/>
<line x1="339.50" y1="141.90" x2="622.80" y2="141.90" stroke="#cacaca" stroke-width="1.2" stroke-dasharray="2,1"/>
<line x1="339.50" y1="118.88" x2="622.80" y2="118.88" stroke="#cacaca" stroke-width="1.2" stroke-dasharray="2,1"/>
<line x1="339.50" y1="95.85" x2="622.80" y2="95.85" stroke="#cacaca" stroke-width="1.2" stroke-dasharray="2,1"/>
<line x1="339.50" y1="72.83" x2="622.80" y2="72.83" stroke="#cacaca" stroke-width="1.2" stroke-dasharray="2,1"/>
<line x1="339.50" y1="49.80" x2="622.80" y2="49.80" stroke="#cacaca" stroke-width="1.2" stroke-dasharray="2,1"/>
<line x1="339.50" y1="26.77" x2="622.80" y2="26.77" stroke="#cacaca" stroke-width="1.2" stroke-dasharray="2,1"/>
<circle cx="495.8" cy="76.3" r="2.15" fill="#168496" stroke="#151515" stroke-width="0.6"/>
<circle cx="498.8" cy="94.3" r="2.15" fill="#285fa0" stroke="#151515" stroke-width="0.6"/>
<circle cx="499.3" cy="96.0" r="2.15" fill="#0ca085" stroke="#151515" stroke-width="0.6"/>
<circle cx="458.9" cy="120.3" r="2.15" fill="#285fa0" stroke="#151515" stroke-width="0.6"/>
<circle cx="452.2" cy="128.0" r="2.15" fill="#510c6d" stroke="#151515" stroke-width="0.6"/>
<circle cx="447.1" cy="134.2" r="2.15" fill="#510c6d" stroke="#151515" stroke-width="0.6"/>
<circle cx="451.8" cy="140.0" r="2.15" fill="#510c6d" stroke="#151515" stroke-width="0.6"/>
<circle cx="457.6" cy="140.0" r="2.15" fill="#510c6d" stroke="#151515" stroke-width="0.6"/>
<circle cx="465.0" cy="140.0" r="2.15" fill="#510c6d" stroke="#151515" stroke-width="0.6"/>
<circle cx="467.7" cy="137.3" r="2.15" fill="#510c6d" stroke="#151515" stroke-width="0.6"/>
<circle cx="468.9" cy="140.0" r="2.15" fill="#510c6d" stroke="#151515" stroke-width="0.6"/>
<circle cx="483.1" cy="123.3" r="2.15" fill="#510c6d" stroke="#151515" stroke-width="0.6"/>
<circle cx="485.8" cy="140.0" r="2.15" fill="#510c6d" stroke="#151515" stroke-width="0.6"/>
<circle cx="490.0" cy="128.9" r="2.15" fill="#510c6d" stroke="#151515" stroke-width="0.6"/>
<circle cx="491.4" cy="132.1" r="2.15" fill="#510c6d" stroke="#151515" stroke-width="0.6"/>
<circle cx="490.5" cy="137.3" r="2.15" fill="#510c6d" stroke="#151515" stroke-width="0.6"/>
<circle cx="496.3" cy="133.8" r="2.15" fill="#285fa0" stroke="#151515" stroke-width="0.6"/>
<circle cx="496.3" cy="126.8" r="2.15" fill="#285fa0" stroke="#151515" stroke-width="0.6"/>
<circle cx="496.3" cy="117.1" r="2.15" fill="#285fa0" stroke="#151515" stroke-width="0.6"/>
<circle cx="498.4" cy="115.9" r="2.15" fill="#4a2a8a" stroke="#151515" stroke-width="0.6"/>
<circle cx="516.9" cy="34.6" r="2.15" fill="#f3e102" stroke="#151515" stroke-width="0.6"/>
<circle cx="534.8" cy="35.5" r="2.15" fill="#f3e102" stroke="#151515" stroke-width="0.6"/>
<circle cx="554.1" cy="35.8" r="2.15" fill="#f3e102" stroke="#151515" stroke-width="0.6"/>
<circle cx="557.3" cy="28.6" r="2.15" fill="#f3e102" stroke="#151515" stroke-width="0.6"/>
<circle cx="557.3" cy="41.5" r="2.15" fill="#f3e102" stroke="#151515" stroke-width="0.6"/>
<circle cx="555.6" cy="54.1" r="2.15" fill="#0ca085" stroke="#151515" stroke-width="0.6"/>
<circle cx="553.7" cy="63.7" r="2.15" fill="#168496" stroke="#151515" stroke-width="0.6"/>
<circle cx="529.8" cy="60.4" r="2.15" fill="#f3e102" stroke="#151515" stroke-width="0.6"/>
<circle cx="529.8" cy="71.3" r="2.15" fill="#f3e102" stroke="#151515" stroke-width="0.6"/>
<circle cx="495.7" cy="76.3" r="2.15" fill="#168496" stroke="#151515" stroke-width="0.6"/>
<circle cx="520.1" cy="77.3" r="2.15" fill="#168496" stroke="#151515" stroke-width="0.6"/>
<circle cx="526.5" cy="79.4" r="2.15" fill="#285fa0" stroke="#151515" stroke-width="0.6"/>
<circle cx="533.7" cy="78.7" r="2.15" fill="#168496" stroke="#151515" stroke-width="0.6"/>
<circle cx="544.4" cy="75.1" r="2.15" fill="#0ca085" stroke="#151515" stroke-width="0.6"/>
<circle cx="548.4" cy="78.0" r="2.15" fill="#f3e102" stroke="#151515" stroke-width="0.6"/>
<circle cx="553.0" cy="77.0" r="2.15" fill="#f3e102" stroke="#151515" stroke-width="0.6"/>
<circle cx="553.3" cy="79.8" r="2.15" fill="#1ec15b" stroke="#151515" stroke-width="0.6"/>
<circle cx="610.5" cy="25.0" r="2.15" fill="#9dd918" stroke="#151515" stroke-width="0.6"/>
<circle cx="564.7" cy="34.6" r="2.15" fill="#1ec15b" stroke="#151515" stroke-width="0.6"/>
<circle cx="575.3" cy="36.5" r="2.15" fill="#168496" stroke="#151515" stroke-width="0.6"/>
<circle cx="604.1" cy="38.6" r="2.15" fill="#168496" stroke="#151515" stroke-width="0.6"/>
<circle cx="586.8" cy="42.6" r="2.15" fill="#168496" stroke="#151515" stroke-width="0.6"/>
<circle cx="577.9" cy="43.2" r="2.15" fill="#1ec15b" stroke="#151515" stroke-width="0.6"/>
<circle cx="575.0" cy="44.6" r="2.15" fill="#f3e102" stroke="#151515" stroke-width="0.6"/>
<circle cx="567.2" cy="50.1" r="2.15" fill="#168496" stroke="#151515" stroke-width="0.6"/>
<circle cx="555.7" cy="54.1" r="2.15" fill="#1ec15b" stroke="#151515" stroke-width="0.6"/>
<circle cx="604.4" cy="52.7" r="2.15" fill="#285fa0" stroke="#151515" stroke-width="0.6"/>
<circle cx="557.1" cy="27.9" r="2.15" fill="#f3e102" stroke="#151515" stroke-width="0.6"/>
<circle cx="555.0" cy="35.1" r="2.15" fill="#f3e102" stroke="#151515" stroke-width="0.6"/>
<circle cx="557.6" cy="41.8" r="2.15" fill="#f3e102" stroke="#151515" stroke-width="0.6"/>
<circle cx="496.0" cy="76.5" r="2.15" fill="#168496" stroke="#151515" stroke-width="0.6"/>
<circle cx="519.9" cy="77.6" r="2.15" fill="#168496" stroke="#151515" stroke-width="0.6"/>
<circle cx="526.5" cy="79.1" r="2.15" fill="#168496" stroke="#151515" stroke-width="0.6"/>
<circle cx="526.5" cy="82.0" r="2.15" fill="#168496" stroke="#151515" stroke-width="0.6"/>
<circle cx="530.1" cy="84.9" r="2.15" fill="#0ca085" stroke="#151515" stroke-width="0.6"/>
<circle cx="533.7" cy="78.2" r="2.15" fill="#168496" stroke="#151515" stroke-width="0.6"/>
<circle cx="535.9" cy="82.5" r="2.15" fill="#f3e102" stroke="#151515" stroke-width="0.6"/>
<circle cx="548.2" cy="77.9" r="2.15" fill="#f3e102" stroke="#151515" stroke-width="0.6"/>
<circle cx="552.6" cy="76.5" r="2.15" fill="#f3e102" stroke="#151515" stroke-width="0.6"/>
<circle cx="553.3" cy="80.1" r="2.15" fill="#1ec15b" stroke="#151515" stroke-width="0.6"/>
<circle cx="549.0" cy="82.0" r="2.15" fill="#f3e102" stroke="#151515" stroke-width="0.6"/>
<circle cx="552.6" cy="84.9" r="2.15" fill="#f3e102" stroke="#151515" stroke-width="0.6"/>
<circle cx="545.3" cy="85.5" r="2.15" fill="#0ca085" stroke="#151515" stroke-width="0.6"/>
<circle cx="517.0" cy="88.4" r="2.15" fill="#1ec15b" stroke="#151515" stroke-width="0.6"/>
<circle cx="508.3" cy="91.0" r="2.15" fill="#285fa0" stroke="#151515" stroke-width="0.6"/>
<circle cx="498.9" cy="93.6" r="2.15" fill="#285fa0" stroke="#151515" stroke-width="0.6"/>
<circle cx="502.5" cy="93.9" r="2.15" fill="#285fa0" stroke="#151515" stroke-width="0.6"/>
<circle cx="498.9" cy="96.5" r="2.15" fill="#0ca085" stroke="#151515" stroke-width="0.6"/>
<circle cx="505.4" cy="94.6" r="2.15" fill="#285fa0" stroke="#151515" stroke-width="0.6"/>
<circle cx="511.2" cy="95.3" r="2.15" fill="#285fa0" stroke="#151515" stroke-width="0.6"/>
<circle cx="536.6" cy="90.2" r="2.15" fill="#0ca085" stroke="#151515" stroke-width="0.6"/>
<circle cx="541.0" cy="91.3" r="2.15" fill="#168496" stroke="#151515" stroke-width="0.6"/>
<circle cx="546.1" cy="93.1" r="2.15" fill="#168496" stroke="#151515" stroke-width="0.6"/>
<circle cx="551.9" cy="90.2" r="2.15" fill="#0ca085" stroke="#151515" stroke-width="0.6"/>
<circle cx="505.8" cy="100.8" r="2.15" fill="#4a2a8a" stroke="#151515" stroke-width="0.6"/>
<circle cx="518.5" cy="102.9" r="2.15" fill="#9dd918" stroke="#151515" stroke-width="0.6"/>
<circle cx="523.8" cy="101.1" r="2.15" fill="#1ec15b" stroke="#151515" stroke-width="0.6"/>
<circle cx="527.2" cy="104.0" r="2.15" fill="#168496" stroke="#151515" stroke-width="0.6"/>
<circle cx="530.1" cy="96.8" r="2.15" fill="#285fa0" stroke="#151515" stroke-width="0.6"/>
<circle cx="530.1" cy="101.9" r="2.15" fill="#4a2a8a" stroke="#151515" stroke-width="0.6"/>
<circle cx="534.4" cy="102.6" r="2.15" fill="#1ec15b" stroke="#151515" stroke-width="0.6"/>
<circle cx="538.1" cy="104.8" r="2.15" fill="#4a2a8a" stroke="#151515" stroke-width="0.6"/>
<circle cx="540.3" cy="98.2" r="2.15" fill="#285fa0" stroke="#151515" stroke-width="0.6"/>
<circle cx="542.4" cy="103.3" r="2.15" fill="#168496" stroke="#151515" stroke-width="0.6"/>
<circle cx="545.0" cy="102.6" r="2.15" fill="#4a2a8a" stroke="#151515" stroke-width="0.6"/>
<circle cx="547.5" cy="97.5" r="2.15" fill="#285fa0" stroke="#151515" stroke-width="0.6"/>
<circle cx="552.6" cy="98.2" r="2.15" fill="#4a2a8a" stroke="#151515" stroke-width="0.6"/>
<circle cx="514.8" cy="107.7" r="2.15" fill="#4a2a8a" stroke="#151515" stroke-width="0.6"/>
<circle cx="523.3" cy="109.8" r="2.15" fill="#285fa0" stroke="#151515" stroke-width="0.6"/>
<circle cx="544.6" cy="109.1" r="2.15" fill="#285fa0" stroke="#151515" stroke-width="0.6"/>
<circle cx="547.5" cy="108.4" r="2.15" fill="#285fa0" stroke="#151515" stroke-width="0.6"/>
<circle cx="534.4" cy="113.0" r="2.15" fill="#0ca085" stroke="#151515" stroke-width="0.6"/>
<circle cx="539.5" cy="113.5" r="2.15" fill="#285fa0" stroke="#151515" stroke-width="0.6"/>
<circle cx="542.7" cy="117.1" r="2.15" fill="#285fa0" stroke="#151515" stroke-width="0.6"/>
<circle cx="496.0" cy="115.7" r="2.15" fill="#285fa0" stroke="#151515" stroke-width="0.6"/>
<circle cx="497.4" cy="117.1" r="2.15" fill="#4a2a8a" stroke="#151515" stroke-width="0.6"/>
<circle cx="507.6" cy="115.7" r="2.15" fill="#285fa0" stroke="#151515" stroke-width="0.6"/>
<circle cx="509.8" cy="113.9" r="2.15" fill="#285fa0" stroke="#151515" stroke-width="0.6"/>
<circle cx="514.1" cy="117.1" r="2.15" fill="#285fa0" stroke="#151515" stroke-width="0.6"/>
<circle cx="519.2" cy="116.1" r="2.15" fill="#0ca085" stroke="#151515" stroke-width="0.6"/>
<circle cx="501.8" cy="120.0" r="2.15" fill="#168496" stroke="#151515" stroke-width="0.6"/>
<circle cx="502.9" cy="122.9" r="2.15" fill="#285fa0" stroke="#151515" stroke-width="0.6"/>
<circle cx="525.0" cy="119.3" r="2.15" fill="#168496" stroke="#151515" stroke-width="0.6"/>
<circle cx="525.7" cy="122.9" r="2.15" fill="#4a2a8a" stroke="#151515" stroke-width="0.6"/>
<circle cx="533.7" cy="124.1" r="2.15" fill="#4a2a8a" stroke="#151515" stroke-width="0.6"/>
<circle cx="541.0" cy="122.9" r="2.15" fill="#285fa0" stroke="#151515" stroke-width="0.6"/>
<circle cx="539.5" cy="118.8" r="2.15" fill="#4a2a8a" stroke="#151515" stroke-width="0.6"/>
<circle cx="551.1" cy="122.3" r="2.15" fill="#0ca085" stroke="#151515" stroke-width="0.6"/>
<circle cx="482.9" cy="123.3" r="2.15" fill="#4a2a8a" stroke="#151515" stroke-width="0.6"/>
<circle cx="495.2" cy="127.0" r="2.15" fill="#4a2a8a" stroke="#151515" stroke-width="0.6"/>
<circle cx="490.2" cy="129.4" r="2.15" fill="#510c6d" stroke="#151515" stroke-width="0.6"/>
<circle cx="491.6" cy="132.4" r="2.15" fill="#510c6d" stroke="#151515" stroke-width="0.6"/>
<circle cx="496.3" cy="133.8" r="2.15" fill="#285fa0" stroke="#151515" stroke-width="0.6"/>
<circle cx="508.3" cy="130.6" r="2.15" fill="#4a2a8a" stroke="#151515" stroke-width="0.6"/>
<circle cx="510.8" cy="130.5" r="2.15" fill="#285fa0" stroke="#151515" stroke-width="0.6"/>
<circle cx="505.4" cy="133.1" r="2.15" fill="#168496" stroke="#151515" stroke-width="0.6"/>
<circle cx="504.7" cy="136.7" r="2.15" fill="#4a2a8a" stroke="#151515" stroke-width="0.6"/>
<circle cx="518.5" cy="126.5" r="2.15" fill="#4a2a8a" stroke="#151515" stroke-width="0.6"/>
<circle cx="520.7" cy="130.5" r="2.15" fill="#285fa0" stroke="#151515" stroke-width="0.6"/>
<circle cx="490.9" cy="137.7" r="2.15" fill="#510c6d" stroke="#151515" stroke-width="0.6"/>
<circle cx="485.8" cy="139.6" r="2.15" fill="#510c6d" stroke="#151515" stroke-width="0.6"/>
<circle cx="517.0" cy="139.6" r="2.15" fill="#510c6d" stroke="#151515" stroke-width="0.6"/>
<circle cx="537.4" cy="141.8" r="2.15" fill="#510c6d" stroke="#151515" stroke-width="0.6"/>
<circle cx="553.3" cy="132.4" r="2.15" fill="#285fa0" stroke="#151515" stroke-width="0.6"/>
<circle cx="556.6" cy="59.1" r="2.15" fill="#1ec15b" stroke="#151515" stroke-width="0.6"/>
<circle cx="562.0" cy="60.3" r="2.15" fill="#f3e102" stroke="#151515" stroke-width="0.6"/>
<circle cx="566.4" cy="55.4" r="2.15" fill="#168496" stroke="#151515" stroke-width="0.6"/>
<circle cx="573.8" cy="57.9" r="2.15" fill="#1ec15b" stroke="#151515" stroke-width="0.6"/>
<circle cx="575.4" cy="61.5" r="2.15" fill="#168496" stroke="#151515" stroke-width="0.6"/>
<circle cx="584.4" cy="56.2" r="2.15" fill="#285fa0" stroke="#151515" stroke-width="0.6"/>
<circle cx="584.4" cy="61.5" r="2.15" fill="#f3e102" stroke="#151515" stroke-width="0.6"/>
<circle cx="582.0" cy="63.6" r="2.15" fill="#285fa0" stroke="#151515" stroke-width="0.6"/>
<circle cx="585.3" cy="65.2" r="2.15" fill="#168496" stroke="#151515" stroke-width="0.6"/>
<circle cx="565.2" cy="63.2" r="2.15" fill="#168496" stroke="#151515" stroke-width="0.6"/>
<circle cx="562.8" cy="68.5" r="2.15" fill="#1ec15b" stroke="#151515" stroke-width="0.6"/>
<circle cx="570.1" cy="67.3" r="2.15" fill="#168496" stroke="#151515" stroke-width="0.6"/>
<circle cx="564.0" cy="73.4" r="2.15" fill="#4a2a8a" stroke="#151515" stroke-width="0.6"/>
<circle cx="573.4" cy="72.2" r="2.15" fill="#1ec15b" stroke="#151515" stroke-width="0.6"/>
<circle cx="570.9" cy="74.6" r="2.15" fill="#0ca085" stroke="#151515" stroke-width="0.6"/>
<circle cx="574.2" cy="76.3" r="2.15" fill="#285fa0" stroke="#151515" stroke-width="0.6"/>
<circle cx="582.0" cy="70.9" r="2.15" fill="#168496" stroke="#151515" stroke-width="0.6"/>
<circle cx="582.8" cy="74.6" r="2.15" fill="#285fa0" stroke="#151515" stroke-width="0.6"/>
<circle cx="584.8" cy="68.5" r="2.15" fill="#168496" stroke="#151515" stroke-width="0.6"/>
<circle cx="588.1" cy="68.5" r="2.15" fill="#0ca085" stroke="#151515" stroke-width="0.6"/>
<circle cx="587.7" cy="73.8" r="2.15" fill="#9dd918" stroke="#151515" stroke-width="0.6"/>
<circle cx="579.5" cy="77.9" r="2.15" fill="#1ec15b" stroke="#151515" stroke-width="0.6"/>
<circle cx="568.9" cy="77.9" r="2.15" fill="#285fa0" stroke="#151515" stroke-width="0.6"/>
<circle cx="572.6" cy="79.5" r="2.15" fill="#285fa0" stroke="#151515" stroke-width="0.6"/>
<circle cx="556.2" cy="82.8" r="2.15" fill="#168496" stroke="#151515" stroke-width="0.6"/>
<circle cx="564.8" cy="82.8" r="2.15" fill="#168496" stroke="#151515" stroke-width="0.6"/>
<circle cx="571.4" cy="82.4" r="2.15" fill="#285fa0" stroke="#151515" stroke-width="0.6"/>
<circle cx="576.3" cy="85.3" r="2.15" fill="#168496" stroke="#151515" stroke-width="0.6"/>
<circle cx="580.4" cy="86.1" r="2.15" fill="#285fa0" stroke="#151515" stroke-width="0.6"/>
<circle cx="584.0" cy="84.4" r="2.15" fill="#4a2a8a" stroke="#151515" stroke-width="0.6"/>
<circle cx="587.3" cy="81.2" r="2.15" fill="#4a2a8a" stroke="#151515" stroke-width="0.6"/>
<circle cx="588.5" cy="86.5" r="2.15" fill="#4a2a8a" stroke="#151515" stroke-width="0.6"/>
<circle cx="577.9" cy="80.4" r="2.15" fill="#285fa0" stroke="#151515" stroke-width="0.6"/>
<circle cx="556.2" cy="88.5" r="2.15" fill="#168496" stroke="#151515" stroke-width="0.6"/>
<circle cx="559.9" cy="89.3" r="2.15" fill="#285fa0" stroke="#151515" stroke-width="0.6"/>
<circle cx="564.0" cy="87.7" r="2.15" fill="#4a2a8a" stroke="#151515" stroke-width="0.6"/>
<circle cx="569.7" cy="91.0" r="2.15" fill="#4a2a8a" stroke="#151515" stroke-width="0.6"/>
<circle cx="573.8" cy="89.8" r="2.15" fill="#168496" stroke="#151515" stroke-width="0.6"/>
<circle cx="581.2" cy="90.6" r="2.15" fill="#285fa0" stroke="#151515" stroke-width="0.6"/>
<circle cx="586.1" cy="89.3" r="2.15" fill="#4a2a8a" stroke="#151515" stroke-width="0.6"/>
<circle cx="589.3" cy="91.8" r="2.15" fill="#4a2a8a" stroke="#151515" stroke-width="0.6"/>
<circle cx="566.4" cy="93.4" r="2.15" fill="#4a2a8a" stroke="#151515" stroke-width="0.6"/>
<circle cx="559.9" cy="93.4" r="2.15" fill="#285fa0" stroke="#151515" stroke-width="0.6"/>
<circle cx="591.7" cy="58.7" r="2.15" fill="#168496" stroke="#151515" stroke-width="0.6"/>
<circle cx="595.4" cy="58.7" r="2.15" fill="#168496" stroke="#151515" stroke-width="0.6"/>
<circle cx="595.4" cy="61.5" r="2.15" fill="#1ec15b" stroke="#151515" stroke-width="0.6"/>
<circle cx="600.3" cy="60.3" r="2.15" fill="#168496" stroke="#151515" stroke-width="0.6"/>
<circle cx="588.8" cy="68.1" r="2.15" fill="#0ca085" stroke="#151515" stroke-width="0.6"/>
<circle cx="594.5" cy="66.9" r="2.15" fill="#168496" stroke="#151515" stroke-width="0.6"/>
<circle cx="588.4" cy="73.8" r="2.15" fill="#9dd918" stroke="#151515" stroke-width="0.6"/>
<circle cx="597.0" cy="69.3" r="2.15" fill="#285fa0" stroke="#151515" stroke-width="0.6"/>
<circle cx="602.7" cy="72.2" r="2.15" fill="#0ca085" stroke="#151515" stroke-width="0.6"/>
<circle cx="592.1" cy="76.3" r="2.15" fill="#285fa0" stroke="#151515" stroke-width="0.6"/>
<circle cx="596.2" cy="75.4" r="2.15" fill="#4a2a8a" stroke="#151515" stroke-width="0.6"/>
<circle cx="599.4" cy="73.8" r="2.15" fill="#285fa0" stroke="#151515" stroke-width="0.6"/>
<circle cx="602.3" cy="77.1" r="2.15" fill="#4a2a8a" stroke="#151515" stroke-width="0.6"/>
<circle cx="604.8" cy="77.1" r="2.15" fill="#4a2a8a" stroke="#151515" stroke-width="0.6"/>
<circle cx="606.4" cy="79.9" r="2.15" fill="#4a2a8a" stroke="#151515" stroke-width="0.6"/>
<circle cx="614.2" cy="79.1" r="2.15" fill="#4a2a8a" stroke="#151515" stroke-width="0.6"/>
<circle cx="589.6" cy="80.4" r="2.15" fill="#285fa0" stroke="#151515" stroke-width="0.6"/>
<circle cx="594.5" cy="78.3" r="2.15" fill="#4a2a8a" stroke="#151515" stroke-width="0.6"/>
<circle cx="598.2" cy="80.8" r="2.15" fill="#285fa0" stroke="#151515" stroke-width="0.6"/>
<circle cx="601.1" cy="79.5" r="2.15" fill="#4a2a8a" stroke="#151515" stroke-width="0.6"/>
<circle cx="589.2" cy="85.3" r="2.15" fill="#4a2a8a" stroke="#151515" stroke-width="0.6"/>
<circle cx="594.1" cy="85.3" r="2.15" fill="#4a2a8a" stroke="#151515" stroke-width="0.6"/>
<circle cx="600.3" cy="84.0" r="2.15" fill="#168496" stroke="#151515" stroke-width="0.6"/>
<circle cx="605.6" cy="84.8" r="2.15" fill="#4a2a8a" stroke="#151515" stroke-width="0.6"/>
<circle cx="609.3" cy="84.8" r="2.15" fill="#4a2a8a" stroke="#151515" stroke-width="0.6"/>
<circle cx="612.1" cy="85.7" r="2.15" fill="#285fa0" stroke="#151515" stroke-width="0.6"/>
<circle cx="591.3" cy="90.2" r="2.15" fill="#168496" stroke="#151515" stroke-width="0.6"/>
<circle cx="595.4" cy="89.3" r="2.15" fill="#4a2a8a" stroke="#151515" stroke-width="0.6"/>
<circle cx="599.4" cy="87.7" r="2.15" fill="#4a2a8a" stroke="#151515" stroke-width="0.6"/>
<circle cx="604.4" cy="89.3" r="2.15" fill="#4a2a8a" stroke="#151515" stroke-width="0.6"/>
<circle cx="610.9" cy="91.0" r="2.15" fill="#510c6d" stroke="#151515" stroke-width="0.6"/>
<circle cx="613.4" cy="92.6" r="2.15" fill="#510c6d" stroke="#151515" stroke-width="0.6"/>
<circle cx="615.8" cy="93.4" r="2.15" fill="#510c6d" stroke="#151515" stroke-width="0.6"/>
<circle cx="602.7" cy="93.4" r="2.15" fill="#4a2a8a" stroke="#151515" stroke-width="0.6"/>
<circle cx="596.2" cy="93.4" r="2.15" fill="#4a2a8a" stroke="#151515" stroke-width="0.6"/>
<circle cx="557.5" cy="90.8" r="2.15" fill="#168496" stroke="#151515" stroke-width="0.6"/>
<circle cx="560.7" cy="90.4" r="2.15" fill="#168496" stroke="#151515" stroke-width="0.6"/>
<circle cx="569.7" cy="91.2" r="2.15" fill="#4a2a8a" stroke="#151515" stroke-width="0.6"/>
<circle cx="573.8" cy="90.8" r="2.15" fill="#168496" stroke="#151515" stroke-width="0.6"/>
<circle cx="581.2" cy="90.8" r="2.15" fill="#285fa0" stroke="#151515" stroke-width="0.6"/>
<circle cx="556.6" cy="96.5" r="2.15" fill="#4a2a8a" stroke="#151515" stroke-width="0.6"/>
<circle cx="559.9" cy="94.1" r="2.15" fill="#285fa0" stroke="#151515" stroke-width="0.6"/>
<circle cx="559.9" cy="98.6" r="2.15" fill="#285fa0" stroke="#151515" stroke-width="0.6"/>
<circle cx="565.6" cy="96.5" r="2.15" fill="#4a2a8a" stroke="#151515" stroke-width="0.6"/>
<circle cx="569.3" cy="99.0" r="2.15" fill="#4a2a8a" stroke="#151515" stroke-width="0.6"/>
<circle cx="570.9" cy="95.7" r="2.15" fill="#285fa0" stroke="#151515" stroke-width="0.6"/>
<circle cx="575.0" cy="94.5" r="2.15" fill="#4a2a8a" stroke="#151515" stroke-width="0.6"/>
<circle cx="575.9" cy="99.0" r="2.15" fill="#4a2a8a" stroke="#151515" stroke-width="0.6"/>
<circle cx="577.9" cy="95.7" r="2.15" fill="#4a2a8a" stroke="#151515" stroke-width="0.6"/>
<circle cx="584.8" cy="96.1" r="2.15" fill="#4a2a8a" stroke="#151515" stroke-width="0.6"/>
<circle cx="588.5" cy="92.5" r="2.15" fill="#4a2a8a" stroke="#151515" stroke-width="0.6"/>
<circle cx="558.7" cy="102.3" r="2.15" fill="#4a2a8a" stroke="#151515" stroke-width="0.6"/>
<circle cx="559.1" cy="105.9" r="2.15" fill="#168496" stroke="#151515" stroke-width="0.6"/>
<circle cx="566.9" cy="104.7" r="2.15" fill="#168496" stroke="#151515" stroke-width="0.6"/>
<circle cx="573.8" cy="105.1" r="2.15" fill="#285fa0" stroke="#151515" stroke-width="0.6"/>
<circle cx="573.4" cy="107.6" r="2.15" fill="#4a2a8a" stroke="#151515" stroke-width="0.6"/>
<circle cx="568.1" cy="109.6" r="2.15" fill="#4a2a8a" stroke="#151515" stroke-width="0.6"/>
<circle cx="567.3" cy="111.7" r="2.15" fill="#285fa0" stroke="#151515" stroke-width="0.6"/>
<circle cx="572.2" cy="113.7" r="2.15" fill="#285fa0" stroke="#151515" stroke-width="0.6"/>
<circle cx="583.2" cy="112.1" r="2.15" fill="#285fa0" stroke="#151515" stroke-width="0.6"/>
<circle cx="556.2" cy="123.1" r="2.15" fill="#4a2a8a" stroke="#151515" stroke-width="0.6"/>
<circle cx="573.8" cy="127.2" r="2.15" fill="#510c6d" stroke="#151515" stroke-width="0.6"/>
<circle cx="589.3" cy="127.6" r="2.15" fill="#4a2a8a" stroke="#151515" stroke-width="0.6"/>
<circle cx="591.3" cy="90.8" r="2.15" fill="#168496" stroke="#151515" stroke-width="0.6"/>
<circle cx="590.9" cy="98.2" r="2.15" fill="#285fa0" stroke="#151515" stroke-width="0.6"/>
<circle cx="595.4" cy="97.8" r="2.15" fill="#4a2a8a" stroke="#151515" stroke-width="0.6"/>
<circle cx="601.9" cy="94.5" r="2.15" fill="#285fa0" stroke="#151515" stroke-width="0.6"/>
<circle cx="603.1" cy="97.8" r="2.15" fill="#4a2a8a" stroke="#151515" stroke-width="0.6"/>
<circle cx="606.4" cy="94.9" r="2.15" fill="#4a2a8a" stroke="#151515" stroke-width="0.6"/>
<circle cx="609.7" cy="97.0" r="2.15" fill="#510c6d" stroke="#151515" stroke-width="0.6"/>
<circle cx="611.7" cy="92.9" r="2.15" fill="#510c6d" stroke="#151515" stroke-width="0.6"/>
<circle cx="614.2" cy="91.2" r="2.15" fill="#510c6d" stroke="#151515" stroke-width="0.6"/>
<circle cx="615.0" cy="94.5" r="2.15" fill="#510c6d" stroke="#151515" stroke-width="0.6"/>
<circle cx="590.0" cy="127.6" r="2.15" fill="#4a2a8a" stroke="#151515" stroke-width="0.6"/>
<path d="M352.55,141.90 L355.89,141.62 L359.23,141.34 L362.57,141.08 L365.91,140.83 L369.26,140.58 L372.60,140.34 L375.94,140.10 L379.28,139.87 L382.62,139.65 L385.96,139.42 L389.30,139.20 L392.64,138.98 L395.98,138.76 L399.32,138.54 L402.67,138.31 L406.01,138.08 L409.35,137.85 L412.69,137.61 L416.03,137.37 L419.37,137.12 L422.71,136.86 L426.05,136.59 L429.39,136.31 L432.73,136.02 L436.08,135.73 L439.42,135.41 L442.76,135.09 L446.10,134.75 L449.44,134.39 L452.78,134.02 L456.12,133.63 L459.46,133.23 L462.80,132.81 L466.14,132.36 L469.49,131.90 L472.83,131.42 L476.17,130.91 L479.51,130.38 L482.85,129.83 L486.19,129.25 L489.53,128.65 L492.87,128.03 L496.21,127.37 L499.55,126.69 L502.90,125.98 L506.24,125.25 L509.58,124.48 L512.92,123.68 L516.26,122.86 L519.60,122.00 L522.94,121.10 L526.28,120.18 L529.62,119.22 L532.96,118.23 L536.31,117.20 L539.65,116.13 L542.99,115.03 L546.33,113.89 L549.67,112.72 L553.01,111.50 L556.35,110.25 L559.69,108.95 L563.03,107.62 L566.37,106.24 L569.72,104.83 L573.06,103.37 L576.40,101.86 L579.74,100.32 L583.08,98.73 L586.42,97.09 L589.76,95.41 L593.10,93.69 L596.44,91.92 L599.78,90.10 L603.13,88.23 L606.47,86.31 L609.81,84.35 L613.15,82.34 L616.49,80.28" fill="none" stroke="#47009a" stroke-width="2.4" stroke-linecap="butt" stroke-linejoin="round"/>
<path d="M352.55,141.90 L355.82,141.44 L359.10,140.99 L362.37,140.53 L365.64,140.08 L368.92,139.62 L372.19,139.16 L375.47,138.70 L378.74,138.23 L382.01,137.76 L385.29,137.29 L388.56,136.81 L391.83,136.32 L395.11,135.84 L398.38,135.34 L401.66,134.84 L404.93,134.33 L408.20,133.81 L411.48,133.28 L414.75,132.74 L418.02,132.20 L421.30,131.64 L424.57,131.07 L427.85,130.49 L431.12,129.90 L434.39,129.30 L437.67,128.68 L440.94,128.05 L444.21,127.41 L447.49,126.75 L450.76,126.07 L454.04,125.38 L457.31,124.67 L460.58,123.95 L463.86,123.21 L467.13,122.45 L470.40,121.67 L473.68,120.87 L476.95,120.06 L480.22,119.22 L483.50,118.36 L486.77,117.48 L490.05,116.58 L493.32,115.65 L496.59,114.70 L499.87,113.73 L503.14,112.74 L506.41,111.72 L509.69,110.67 L512.96,109.60 L516.24,108.50 L519.51,107.38 L522.78,106.23 L526.06,105.05 L529.33,103.84 L532.60,102.60 L535.88,101.33 L539.15,100.03 L542.43,98.70 L545.70,97.34 L548.97,95.95 L552.25,94.52 L555.52,93.07 L558.79,91.57 L562.07,90.05 L565.34,88.49 L568.62,86.89 L571.89,85.26 L575.16,83.59 L578.44,81.88 L581.71,80.14 L584.98,78.36 L588.26,76.54 L591.53,74.68 L594.80,72.78 L598.08,70.84 L601.35,68.87 L604.63,66.84 L607.90,64.78 L611.17,62.68" fill="none" stroke="#0e8a98" stroke-width="2.4" stroke-linecap="butt" stroke-linejoin="round"/>
<path d="M352.55,141.90 L355.49,141.43 L358.43,140.95 L361.38,140.48 L364.32,140.01 L367.26,139.53 L370.20,139.06 L373.15,138.57 L376.09,138.09 L379.03,137.60 L381.97,137.10 L384.92,136.59 L387.86,136.08 L390.80,135.56 L393.74,135.02 L396.68,134.48 L399.63,133.92 L402.57,133.35 L405.51,132.77 L408.45,132.17 L411.40,131.55 L414.34,130.92 L417.28,130.27 L420.22,129.61 L423.17,128.92 L426.11,128.21 L429.05,127.48 L431.99,126.73 L434.93,125.96 L437.88,125.16 L440.82,124.33 L443.76,123.48 L446.70,122.61 L449.65,121.70 L452.59,120.77 L455.53,119.80 L458.47,118.81 L461.42,117.78 L464.36,116.72 L467.30,115.63 L470.24,114.50 L473.18,113.34 L476.13,112.14 L479.07,110.91 L482.01,109.63 L484.95,108.32 L487.90,106.96 L490.84,105.57 L493.78,104.13 L496.72,102.65 L499.67,101.13 L502.61,99.56 L505.55,97.95 L508.49,96.29 L511.43,94.58 L514.38,92.82 L517.32,91.02 L520.26,89.16 L523.20,87.25 L526.15,85.29 L529.09,83.28 L532.03,81.22 L534.97,79.09 L537.92,76.92 L540.86,74.68 L543.80,72.39 L546.74,70.04 L549.68,67.63 L552.63,65.15 L555.57,62.62 L558.51,60.03 L561.45,57.37 L564.40,54.64 L567.34,51.85 L570.28,49.00 L573.22,46.08 L576.17,43.09 L579.11,40.03 L582.05,36.90 L584.99,33.70" fill="none" stroke="#c8dc0a" stroke-width="2.4" stroke-linecap="butt" stroke-linejoin="round"/>
<rect x="339.50" y="3.80" width="283.30" height="142.70" fill="none" stroke="#505050" stroke-width="1.15"/>
<line x1="352.55" y1="146.50" x2="352.55" y2="149.10" stroke="#333" stroke-width="1.1"/>
<line x1="405.71" y1="146.50" x2="405.71" y2="149.10" stroke="#333" stroke-width="1.1"/>
<line x1="458.87" y1="146.50" x2="458.87" y2="149.10" stroke="#333" stroke-width="1.1"/>
<line x1="512.03" y1="146.50" x2="512.03" y2="149.10" stroke="#333" stroke-width="1.1"/>
<line x1="565.19" y1="146.50" x2="565.19" y2="149.10" stroke="#333" stroke-width="1.1"/>
<line x1="618.35" y1="146.50" x2="618.35" y2="149.10" stroke="#333" stroke-width="1.1"/>
<line x1="336.90" y1="141.90" x2="339.50" y2="141.90" stroke="#333" stroke-width="1.1"/>
<line x1="336.90" y1="118.88" x2="339.50" y2="118.88" stroke="#333" stroke-width="1.1"/>
<line x1="336.90" y1="95.85" x2="339.50" y2="95.85" stroke="#333" stroke-width="1.1"/>
<line x1="336.90" y1="72.83" x2="339.50" y2="72.83" stroke="#333" stroke-width="1.1"/>
<line x1="336.90" y1="49.80" x2="339.50" y2="49.80" stroke="#333" stroke-width="1.1"/>
<line x1="336.90" y1="26.77" x2="339.50" y2="26.77" stroke="#333" stroke-width="1.1"/>
<line x1="336.90" y1="3.75" x2="339.50" y2="3.75" stroke="#333" stroke-width="1.1"/>
<line x1="47.85" y1="163.50" x2="47.85" y2="304.80" stroke="#cacaca" stroke-width="1.2" stroke-dasharray="2,1"/>
<line x1="101.01" y1="163.50" x2="101.01" y2="304.80" stroke="#cacaca" stroke-width="1.2" stroke-dasharray="2,1"/>
<line x1="154.17" y1="163.50" x2="154.17" y2="304.80" stroke="#cacaca" stroke-width="1.2" stroke-dasharray="2,1"/>
<line x1="207.33" y1="163.50" x2="207.33" y2="304.80" stroke="#cacaca" stroke-width="1.2" stroke-dasharray="2,1"/>
<line x1="260.49" y1="163.50" x2="260.49" y2="304.80" stroke="#cacaca" stroke-width="1.2" stroke-dasharray="2,1"/>
<line x1="313.65" y1="163.50" x2="313.65" y2="304.80" stroke="#cacaca" stroke-width="1.2" stroke-dasharray="2,1"/>
<line x1="34.80" y1="300.50" x2="318.10" y2="300.50" stroke="#cacaca" stroke-width="1.2" stroke-dasharray="2,1"/>
<line x1="34.80" y1="277.65" x2="318.10" y2="277.65" stroke="#cacaca" stroke-width="1.2" stroke-dasharray="2,1"/>
<line x1="34.80" y1="254.80" x2="318.10" y2="254.80" stroke="#cacaca" stroke-width="1.2" stroke-dasharray="2,1"/>
<line x1="34.80" y1="231.95" x2="318.10" y2="231.95" stroke="#cacaca" stroke-width="1.2" stroke-dasharray="2,1"/>
<line x1="34.80" y1="209.10" x2="318.10" y2="209.10" stroke="#cacaca" stroke-width="1.2" stroke-dasharray="2,1"/>
<line x1="34.80" y1="186.25" x2="318.10" y2="186.25" stroke="#cacaca" stroke-width="1.2" stroke-dasharray="2,1"/>
<circle cx="167.3" cy="255.2" r="2.15" fill="#0ca085" stroke="#151515" stroke-width="0.6"/>
<circle cx="196.7" cy="253.1" r="2.15" fill="#285fa0" stroke="#151515" stroke-width="0.6"/>
<circle cx="208.9" cy="247.3" r="2.15" fill="#4a2a8a" stroke="#151515" stroke-width="0.6"/>
<circle cx="197.3" cy="263.0" r="2.15" fill="#168496" stroke="#151515" stroke-width="0.6"/>
<circle cx="170.5" cy="274.1" r="2.15" fill="#510c6d" stroke="#151515" stroke-width="0.6"/>
<circle cx="151.6" cy="279.1" r="2.15" fill="#168496" stroke="#151515" stroke-width="0.6"/>
<circle cx="187.0" cy="275.6" r="2.15" fill="#285fa0" stroke="#151515" stroke-width="0.6"/>
<circle cx="130.1" cy="293.0" r="2.15" fill="#510c6d" stroke="#151515" stroke-width="0.6"/>
<circle cx="228.3" cy="272.6" r="2.15" fill="#168496" stroke="#151515" stroke-width="0.6"/>
<circle cx="228.5" cy="283.2" r="2.15" fill="#168496" stroke="#151515" stroke-width="0.6"/>
<circle cx="241.7" cy="174.6" r="2.15" fill="#9dd918" stroke="#151515" stroke-width="0.6"/>
<circle cx="298.4" cy="184.6" r="2.15" fill="#9dd918" stroke="#151515" stroke-width="0.6"/>
<circle cx="296.1" cy="197.9" r="2.15" fill="#168496" stroke="#151515" stroke-width="0.6"/>
<circle cx="267.2" cy="202.2" r="2.15" fill="#285fa0" stroke="#151515" stroke-width="0.6"/>
<circle cx="296.5" cy="211.8" r="2.15" fill="#285fa0" stroke="#151515" stroke-width="0.6"/>
<circle cx="282.5" cy="216.1" r="2.15" fill="#168496" stroke="#151515" stroke-width="0.6"/>
<circle cx="282.9" cy="218.9" r="2.15" fill="#285fa0" stroke="#151515" stroke-width="0.6"/>
<circle cx="261.5" cy="220.5" r="2.15" fill="#168496" stroke="#151515" stroke-width="0.6"/>
<circle cx="292.2" cy="217.2" r="2.15" fill="#0ca085" stroke="#151515" stroke-width="0.6"/>
<circle cx="295.4" cy="218.4" r="2.15" fill="#0ca085" stroke="#151515" stroke-width="0.6"/>
<circle cx="298.7" cy="219.4" r="2.15" fill="#168496" stroke="#151515" stroke-width="0.6"/>
<circle cx="301.5" cy="217.9" r="2.15" fill="#0ca085" stroke="#151515" stroke-width="0.6"/>
<circle cx="305.8" cy="220.5" r="2.15" fill="#1ec15b" stroke="#151515" stroke-width="0.6"/>
<circle cx="303.4" cy="222.5" r="2.15" fill="#0ca085" stroke="#151515" stroke-width="0.6"/>
<circle cx="307.7" cy="226.2" r="2.15" fill="#0ca085" stroke="#151515" stroke-width="0.6"/>
<circle cx="298.3" cy="227.2" r="2.15" fill="#0ca085" stroke="#151515" stroke-width="0.6"/>
<circle cx="282.2" cy="224.4" r="2.15" fill="#168496" stroke="#151515" stroke-width="0.6"/>
<circle cx="282.9" cy="228.7" r="2.15" fill="#4a2a8a" stroke="#151515" stroke-width="0.6"/>
<circle cx="281.9" cy="231.1" r="2.15" fill="#285fa0" stroke="#151515" stroke-width="0.6"/>
<circle cx="292.2" cy="230.8" r="2.15" fill="#168496" stroke="#151515" stroke-width="0.6"/>
<circle cx="300.1" cy="230.8" r="2.15" fill="#285fa0" stroke="#151515" stroke-width="0.6"/>
<circle cx="255.8" cy="233.7" r="2.15" fill="#285fa0" stroke="#151515" stroke-width="0.6"/>
<circle cx="260.8" cy="233.7" r="2.15" fill="#1ec15b" stroke="#151515" stroke-width="0.6"/>
<circle cx="286.5" cy="233.0" r="2.15" fill="#9dd918" stroke="#151515" stroke-width="0.6"/>
<circle cx="280.1" cy="234.4" r="2.15" fill="#1ec15b" stroke="#151515" stroke-width="0.6"/>
<circle cx="282.6" cy="225.8" r="2.15" fill="#168496" stroke="#151515" stroke-width="0.6"/>
<circle cx="281.4" cy="231.5" r="2.15" fill="#168496" stroke="#151515" stroke-width="0.6"/>
<circle cx="283.0" cy="228.3" r="2.15" fill="#4a2a8a" stroke="#151515" stroke-width="0.6"/>
<circle cx="292.0" cy="230.7" r="2.15" fill="#0ca085" stroke="#151515" stroke-width="0.6"/>
<circle cx="297.8" cy="227.5" r="2.15" fill="#0ca085" stroke="#151515" stroke-width="0.6"/>
<circle cx="307.6" cy="226.6" r="2.15" fill="#0ca085" stroke="#151515" stroke-width="0.6"/>
<circle cx="256.1" cy="234.0" r="2.15" fill="#285fa0" stroke="#151515" stroke-width="0.6"/>
<circle cx="260.2" cy="234.0" r="2.15" fill="#1ec15b" stroke="#151515" stroke-width="0.6"/>
<circle cx="262.3" cy="236.8" r="2.15" fill="#4a2a8a" stroke="#151515" stroke-width="0.6"/>
<circle cx="271.6" cy="237.8" r="2.15" fill="#285fa0" stroke="#151515" stroke-width="0.6"/>
<circle cx="274.9" cy="239.7" r="2.15" fill="#285fa0" stroke="#151515" stroke-width="0.6"/>
<circle cx="280.3" cy="234.8" r="2.15" fill="#0ca085" stroke="#151515" stroke-width="0.6"/>
<circle cx="282.2" cy="236.8" r="2.15" fill="#1ec15b" stroke="#151515" stroke-width="0.6"/>
<circle cx="286.8" cy="232.8" r="2.15" fill="#1ec15b" stroke="#151515" stroke-width="0.6"/>
<circle cx="285.8" cy="236.4" r="2.15" fill="#4a2a8a" stroke="#151515" stroke-width="0.6"/>
<circle cx="290.4" cy="239.7" r="2.15" fill="#285fa0" stroke="#151515" stroke-width="0.6"/>
<circle cx="293.7" cy="238.1" r="2.15" fill="#285fa0" stroke="#151515" stroke-width="0.6"/>
<circle cx="297.8" cy="238.9" r="2.15" fill="#285fa0" stroke="#151515" stroke-width="0.6"/>
<circle cx="300.2" cy="236.8" r="2.15" fill="#4a2a8a" stroke="#151515" stroke-width="0.6"/>
<circle cx="303.5" cy="234.8" r="2.15" fill="#168496" stroke="#151515" stroke-width="0.6"/>
<circle cx="308.4" cy="238.1" r="2.15" fill="#4a2a8a" stroke="#151515" stroke-width="0.6"/>
<circle cx="309.2" cy="239.7" r="2.15" fill="#4a2a8a" stroke="#151515" stroke-width="0.6"/>
<circle cx="250.8" cy="244.3" r="2.15" fill="#285fa0" stroke="#151515" stroke-width="0.6"/>
<circle cx="255.2" cy="243.8" r="2.15" fill="#1ec15b" stroke="#151515" stroke-width="0.6"/>
<circle cx="263.4" cy="244.3" r="2.15" fill="#168496" stroke="#151515" stroke-width="0.6"/>
<circle cx="270.8" cy="241.7" r="2.15" fill="#285fa0" stroke="#151515" stroke-width="0.6"/>
<circle cx="274.1" cy="245.4" r="2.15" fill="#4a2a8a" stroke="#151515" stroke-width="0.6"/>
<circle cx="279.0" cy="243.0" r="2.15" fill="#285fa0" stroke="#151515" stroke-width="0.6"/>
<circle cx="283.0" cy="241.4" r="2.15" fill="#285fa0" stroke="#151515" stroke-width="0.6"/>
<circle cx="288.8" cy="244.6" r="2.15" fill="#285fa0" stroke="#151515" stroke-width="0.6"/>
<circle cx="293.7" cy="243.0" r="2.15" fill="#4a2a8a" stroke="#151515" stroke-width="0.6"/>
<circle cx="297.8" cy="244.6" r="2.15" fill="#285fa0" stroke="#151515" stroke-width="0.6"/>
<circle cx="301.9" cy="243.0" r="2.15" fill="#4a2a8a" stroke="#151515" stroke-width="0.6"/>
<circle cx="305.9" cy="243.8" r="2.15" fill="#4a2a8a" stroke="#151515" stroke-width="0.6"/>
<circle cx="240.5" cy="249.9" r="2.15" fill="#168496" stroke="#151515" stroke-width="0.6"/>
<circle cx="248.2" cy="249.9" r="2.15" fill="#168496" stroke="#151515" stroke-width="0.6"/>
<circle cx="254.4" cy="249.5" r="2.15" fill="#285fa0" stroke="#151515" stroke-width="0.6"/>
<circle cx="257.7" cy="247.9" r="2.15" fill="#285fa0" stroke="#151515" stroke-width="0.6"/>
<circle cx="269.1" cy="248.7" r="2.15" fill="#168496" stroke="#151515" stroke-width="0.6"/>
<circle cx="279.8" cy="248.7" r="2.15" fill="#285fa0" stroke="#151515" stroke-width="0.6"/>
<circle cx="285.5" cy="247.9" r="2.15" fill="#4a2a8a" stroke="#151515" stroke-width="0.6"/>
<circle cx="286.3" cy="250.3" r="2.15" fill="#168496" stroke="#151515" stroke-width="0.6"/>
<circle cx="289.6" cy="246.3" r="2.15" fill="#4a2a8a" stroke="#151515" stroke-width="0.6"/>
<circle cx="292.0" cy="249.5" r="2.15" fill="#4a2a8a" stroke="#151515" stroke-width="0.6"/>
<circle cx="296.9" cy="248.7" r="2.15" fill="#285fa0" stroke="#151515" stroke-width="0.6"/>
<circle cx="300.2" cy="247.1" r="2.15" fill="#4a2a8a" stroke="#151515" stroke-width="0.6"/>
<circle cx="305.1" cy="249.5" r="2.15" fill="#4a2a8a" stroke="#151515" stroke-width="0.6"/>
<circle cx="308.4" cy="250.3" r="2.15" fill="#510c6d" stroke="#151515" stroke-width="0.6"/>
<circle cx="309.2" cy="252.0" r="2.15" fill="#510c6d" stroke="#151515" stroke-width="0.6"/>
<circle cx="310.8" cy="253.6" r="2.15" fill="#510c6d" stroke="#151515" stroke-width="0.6"/>
<circle cx="254.4" cy="254.4" r="2.15" fill="#285fa0" stroke="#151515" stroke-width="0.6"/>
<circle cx="260.2" cy="254.4" r="2.15" fill="#4a2a8a" stroke="#151515" stroke-width="0.6"/>
<circle cx="265.1" cy="257.7" r="2.15" fill="#4a2a8a" stroke="#151515" stroke-width="0.6"/>
<circle cx="266.7" cy="258.5" r="2.15" fill="#4a2a8a" stroke="#151515" stroke-width="0.6"/>
<circle cx="280.6" cy="254.4" r="2.15" fill="#285fa0" stroke="#151515" stroke-width="0.6"/>
<circle cx="282.2" cy="257.7" r="2.15" fill="#285fa0" stroke="#151515" stroke-width="0.6"/>
<circle cx="288.8" cy="253.6" r="2.15" fill="#4a2a8a" stroke="#151515" stroke-width="0.6"/>
<circle cx="293.7" cy="252.8" r="2.15" fill="#4a2a8a" stroke="#151515" stroke-width="0.6"/>
<circle cx="299.4" cy="256.9" r="2.15" fill="#4a2a8a" stroke="#151515" stroke-width="0.6"/>
<circle cx="304.3" cy="253.6" r="2.15" fill="#4a2a8a" stroke="#151515" stroke-width="0.6"/>
<circle cx="285.5" cy="263.4" r="2.15" fill="#168496" stroke="#151515" stroke-width="0.6"/>
<circle cx="266.7" cy="265.1" r="2.15" fill="#285fa0" stroke="#151515" stroke-width="0.6"/>
<circle cx="273.2" cy="264.2" r="2.15" fill="#285fa0" stroke="#151515" stroke-width="0.6"/>
<circle cx="272.4" cy="270.0" r="2.15" fill="#285fa0" stroke="#151515" stroke-width="0.6"/>
<circle cx="276.5" cy="268.8" r="2.15" fill="#4a2a8a" stroke="#151515" stroke-width="0.6"/>
<circle cx="264.2" cy="272.4" r="2.15" fill="#285fa0" stroke="#151515" stroke-width="0.6"/>
<circle cx="292.9" cy="267.5" r="2.15" fill="#510c6d" stroke="#151515" stroke-width="0.6"/>
<circle cx="228.6" cy="272.4" r="2.15" fill="#285fa0" stroke="#151515" stroke-width="0.6"/>
<circle cx="244.6" cy="276.5" r="2.15" fill="#4a2a8a" stroke="#151515" stroke-width="0.6"/>
<circle cx="238.9" cy="278.1" r="2.15" fill="#4a2a8a" stroke="#151515" stroke-width="0.6"/>
<circle cx="229.1" cy="283.0" r="2.15" fill="#168496" stroke="#151515" stroke-width="0.6"/>
<circle cx="253.9" cy="290.9" r="2.15" fill="#4a2a8a" stroke="#151515" stroke-width="0.6"/>
<path d="M47.85,300.50 L51.20,300.19 L54.55,299.89 L57.90,299.61 L61.25,299.35 L64.61,299.11 L67.96,298.88 L71.31,298.66 L74.66,298.45 L78.01,298.25 L81.36,298.06 L84.71,297.88 L88.06,297.70 L91.41,297.52 L94.77,297.35 L98.12,297.17 L101.47,297.00 L104.82,296.83 L108.17,296.65 L111.52,296.47 L114.87,296.29 L118.22,296.10 L121.57,295.90 L124.93,295.69 L128.28,295.47 L131.63,295.24 L134.98,295.00 L138.33,294.75 L141.68,294.48 L145.03,294.20 L148.38,293.90 L151.73,293.58 L155.09,293.25 L158.44,292.89 L161.79,292.52 L165.14,292.13 L168.49,291.71 L171.84,291.27 L175.19,290.80 L178.54,290.32 L181.89,289.80 L185.25,289.26 L188.60,288.69 L191.95,288.10 L195.30,287.47 L198.65,286.82 L202.00,286.14 L205.35,285.42 L208.70,284.68 L212.05,283.90 L215.40,283.09 L218.76,282.24 L222.11,281.36 L225.46,280.45 L228.81,279.50 L232.16,278.51 L235.51,277.49 L238.86,276.43 L242.21,275.34 L245.56,274.20 L248.92,273.03 L252.27,271.82 L255.62,270.57 L258.97,269.28 L262.32,267.94 L265.67,266.57 L269.02,265.16 L272.37,263.71 L275.72,262.21 L279.08,260.67 L282.43,259.09 L285.78,257.47 L289.13,255.81 L292.48,254.10 L295.83,252.35 L299.18,250.55 L302.53,248.72 L305.88,246.84 L309.24,244.91 L312.59,242.94" fill="none" stroke="#47009a" stroke-width="2.4" stroke-linecap="butt" stroke-linejoin="round"/>
<path d="M47.85,300.50 L51.16,299.92 L54.46,299.34 L57.77,298.78 L61.08,298.21 L64.39,297.66 L67.69,297.10 L71.00,296.56 L74.31,296.01 L77.62,295.46 L80.92,294.91 L84.23,294.36 L87.54,293.81 L90.85,293.26 L94.15,292.70 L97.46,292.14 L100.77,291.57 L104.08,291.00 L107.38,290.42 L110.69,289.83 L114.00,289.24 L117.30,288.63 L120.61,288.02 L123.92,287.39 L127.23,286.76 L130.53,286.11 L133.84,285.45 L137.15,284.78 L140.46,284.10 L143.76,283.40 L147.07,282.69 L150.38,281.96 L153.69,281.22 L156.99,280.46 L160.30,279.69 L163.61,278.91 L166.91,278.10 L170.22,277.29 L173.53,276.45 L176.84,275.60 L180.14,274.73 L183.45,273.84 L186.76,272.94 L190.07,272.02 L193.37,271.08 L196.68,270.13 L199.99,269.16 L203.30,268.17 L206.60,267.16 L209.91,266.14 L213.22,265.10 L216.53,264.04 L219.83,262.97 L223.14,261.87 L226.45,260.77 L229.75,259.64 L233.06,258.50 L236.37,257.35 L239.68,256.17 L242.98,254.99 L246.29,253.78 L249.60,252.57 L252.91,251.34 L256.21,250.09 L259.52,248.84 L262.83,247.57 L266.14,246.28 L269.44,244.99 L272.75,243.68 L276.06,242.37 L279.37,241.04 L282.67,239.70 L285.98,238.36 L289.29,237.01 L292.59,235.65 L295.90,234.28 L299.21,232.91 L302.52,231.53 L305.82,230.15 L309.13,228.76" fill="none" stroke="#0e8a98" stroke-width="2.4" stroke-linecap="butt" stroke-linejoin="round"/>
<path d="M47.85,300.50 L50.97,299.40 L54.09,298.29 L57.21,297.19 L60.33,296.08 L63.44,294.98 L66.56,293.87 L69.68,292.77 L72.80,291.66 L75.92,290.55 L79.04,289.44 L82.16,288.34 L85.28,287.23 L88.40,286.12 L91.52,285.01 L94.63,283.90 L97.75,282.79 L100.87,281.68 L103.99,280.57 L107.11,279.46 L110.23,278.34 L113.35,277.23 L116.47,276.12 L119.59,275.00 L122.70,273.89 L125.82,272.78 L128.94,271.66 L132.06,270.55 L135.18,269.43 L138.30,268.32 L141.42,267.20 L144.54,266.09 L147.66,264.97 L150.78,263.85 L153.89,262.74 L157.01,261.62 L160.13,260.50 L163.25,259.39 L166.37,258.27 L169.49,257.15 L172.61,256.03 L175.73,254.91 L178.85,253.80 L181.96,252.68 L185.08,251.56 L188.20,250.44 L191.32,249.32 L194.44,248.20 L197.56,247.08 L200.68,245.96 L203.80,244.84 L206.92,243.72 L210.04,242.60 L213.15,241.48 L216.27,240.36 L219.39,239.24 L222.51,238.12 L225.63,237.00 L228.75,235.88 L231.87,234.76 L234.99,233.63 L238.11,232.51 L241.22,231.39 L244.34,230.27 L247.46,229.15 L250.58,228.03 L253.70,226.91 L256.82,225.79 L259.94,224.66 L263.06,223.54 L266.18,222.42 L269.30,221.30 L272.41,220.18 L275.53,219.06 L278.65,217.94 L281.77,216.82 L284.89,215.69 L288.01,214.57 L291.13,213.45 L294.25,212.33" fill="none" stroke="#c8dc0a" stroke-width="2.4" stroke-linecap="butt" stroke-linejoin="round"/>
<rect x="34.80" y="163.50" width="283.30" height="141.30" fill="none" stroke="#505050" stroke-width="1.15"/>
<line x1="47.85" y1="304.80" x2="47.85" y2="307.40" stroke="#333" stroke-width="1.1"/>
<line x1="101.01" y1="304.80" x2="101.01" y2="307.40" stroke="#333" stroke-width="1.1"/>
<line x1="154.17" y1="304.80" x2="154.17" y2="307.40" stroke="#333" stroke-width="1.1"/>
<line x1="207.33" y1="304.80" x2="207.33" y2="307.40" stroke="#333" stroke-width="1.1"/>
<line x1="260.49" y1="304.80" x2="260.49" y2="307.40" stroke="#333" stroke-width="1.1"/>
<line x1="313.65" y1="304.80" x2="313.65" y2="307.40" stroke="#333" stroke-width="1.1"/>
<line x1="32.20" y1="300.50" x2="34.80" y2="300.50" stroke="#333" stroke-width="1.1"/>
<line x1="32.20" y1="277.65" x2="34.80" y2="277.65" stroke="#333" stroke-width="1.1"/>
<line x1="32.20" y1="254.80" x2="34.80" y2="254.80" stroke="#333" stroke-width="1.1"/>
<line x1="32.20" y1="231.95" x2="34.80" y2="231.95" stroke="#333" stroke-width="1.1"/>
<line x1="32.20" y1="209.10" x2="34.80" y2="209.10" stroke="#333" stroke-width="1.1"/>
<line x1="32.20" y1="186.25" x2="34.80" y2="186.25" stroke="#333" stroke-width="1.1"/>
<line x1="32.20" y1="163.40" x2="34.80" y2="163.40" stroke="#333" stroke-width="1.1"/>
<text x="30.30" y="304.60" text-anchor="end" font-size="11.4" fill="#1a1a1a" stroke="#1a1a1a" stroke-width="0.3">0.0</text>
<text x="30.30" y="281.75" text-anchor="end" font-size="11.4" fill="#1a1a1a" stroke="#1a1a1a" stroke-width="0.3">0.5</text>
<text x="30.30" y="258.90" text-anchor="end" font-size="11.4" fill="#1a1a1a" stroke="#1a1a1a" stroke-width="0.3">1.0</text>
<text x="30.30" y="236.05" text-anchor="end" font-size="11.4" fill="#1a1a1a" stroke="#1a1a1a" stroke-width="0.3">1.5</text>
<text x="30.30" y="213.20" text-anchor="end" font-size="11.4" fill="#1a1a1a" stroke="#1a1a1a" stroke-width="0.3">2.0</text>
<text x="30.30" y="190.35" text-anchor="end" font-size="11.4" fill="#1a1a1a" stroke="#1a1a1a" stroke-width="0.3">2.5</text>
<text x="30.30" y="167.50" text-anchor="end" font-size="11.4" fill="#1a1a1a" stroke="#1a1a1a" stroke-width="0.3">3.0</text>
<line x1="352.55" y1="163.50" x2="352.55" y2="304.80" stroke="#cacaca" stroke-width="1.2" stroke-dasharray="2,1"/>
<line x1="405.71" y1="163.50" x2="405.71" y2="304.80" stroke="#cacaca" stroke-width="1.2" stroke-dasharray="2,1"/>
<line x1="458.87" y1="163.50" x2="458.87" y2="304.80" stroke="#cacaca" stroke-width="1.2" stroke-dasharray="2,1"/>
<line x1="512.03" y1="163.50" x2="512.03" y2="304.80" stroke="#cacaca" stroke-width="1.2" stroke-dasharray="2,1"/>
<line x1="565.19" y1="163.50" x2="565.19" y2="304.80" stroke="#cacaca" stroke-width="1.2" stroke-dasharray="2,1"/>
<line x1="618.35" y1="163.50" x2="618.35" y2="304.80" stroke="#cacaca" stroke-width="1.2" stroke-dasharray="2,1"/>
<line x1="339.50" y1="300.50" x2="622.80" y2="300.50" stroke="#cacaca" stroke-width="1.2" stroke-dasharray="2,1"/>
<line x1="339.50" y1="277.65" x2="622.80" y2="277.65" stroke="#cacaca" stroke-width="1.2" stroke-dasharray="2,1"/>
<line x1="339.50" y1="254.80" x2="622.80" y2="254.80" stroke="#cacaca" stroke-width="1.2" stroke-dasharray="2,1"/>
<line x1="339.50" y1="231.95" x2="622.80" y2="231.95" stroke="#cacaca" stroke-width="1.2" stroke-dasharray="2,1"/>
<line x1="339.50" y1="209.10" x2="622.80" y2="209.10" stroke="#cacaca" stroke-width="1.2" stroke-dasharray="2,1"/>
<line x1="339.50" y1="186.25" x2="622.80" y2="186.25" stroke="#cacaca" stroke-width="1.2" stroke-dasharray="2,1"/>
<circle cx="499.3" cy="253.3" r="2.15" fill="#285fa0" stroke="#151515" stroke-width="0.6"/>
<circle cx="499.3" cy="255.4" r="2.15" fill="#0ca085" stroke="#151515" stroke-width="0.6"/>
<circle cx="458.4" cy="279.1" r="2.15" fill="#285fa0" stroke="#151515" stroke-width="0.6"/>
<circle cx="497.8" cy="274.1" r="2.15" fill="#4a2a8a" stroke="#151515" stroke-width="0.6"/>
<circle cx="516.0" cy="267.3" r="2.15" fill="#285fa0" stroke="#151515" stroke-width="0.6"/>
<circle cx="513.9" cy="275.6" r="2.15" fill="#285fa0" stroke="#151515" stroke-width="0.6"/>
<circle cx="518.6" cy="283.2" r="2.15" fill="#168496" stroke="#151515" stroke-width="0.6"/>
<circle cx="446.8" cy="293.0" r="2.15" fill="#4a2a8a" stroke="#151515" stroke-width="0.6"/>
<circle cx="610.6" cy="184.5" r="2.15" fill="#9dd918" stroke="#151515" stroke-width="0.6"/>
<circle cx="604.0" cy="198.0" r="2.15" fill="#168496" stroke="#151515" stroke-width="0.6"/>
<circle cx="586.3" cy="202.3" r="2.15" fill="#285fa0" stroke="#151515" stroke-width="0.6"/>
<circle cx="604.4" cy="212.1" r="2.15" fill="#285fa0" stroke="#151515" stroke-width="0.6"/>
<circle cx="565.2" cy="213.8" r="2.15" fill="#168496" stroke="#151515" stroke-width="0.6"/>
<circle cx="573.8" cy="217.1" r="2.15" fill="#1ec15b" stroke="#151515" stroke-width="0.6"/>
<circle cx="575.3" cy="220.5" r="2.15" fill="#168496" stroke="#151515" stroke-width="0.6"/>
<circle cx="564.9" cy="222.8" r="2.15" fill="#168496" stroke="#151515" stroke-width="0.6"/>
<circle cx="591.7" cy="217.9" r="2.15" fill="#168496" stroke="#151515" stroke-width="0.6"/>
<circle cx="595.6" cy="218.4" r="2.15" fill="#0ca085" stroke="#151515" stroke-width="0.6"/>
<circle cx="595.9" cy="220.2" r="2.15" fill="#1ec15b" stroke="#151515" stroke-width="0.6"/>
<circle cx="600.2" cy="219.6" r="2.15" fill="#168496" stroke="#151515" stroke-width="0.6"/>
<circle cx="585.1" cy="224.5" r="2.15" fill="#285fa0" stroke="#151515" stroke-width="0.6"/>
<circle cx="588.7" cy="227.4" r="2.15" fill="#168496" stroke="#151515" stroke-width="0.6"/>
<circle cx="594.8" cy="226.3" r="2.15" fill="#168496" stroke="#151515" stroke-width="0.6"/>
<circle cx="582.1" cy="230.6" r="2.15" fill="#168496" stroke="#151515" stroke-width="0.6"/>
<circle cx="587.9" cy="232.8" r="2.15" fill="#9dd918" stroke="#151515" stroke-width="0.6"/>
<circle cx="602.5" cy="231.3" r="2.15" fill="#168496" stroke="#151515" stroke-width="0.6"/>
<circle cx="594.8" cy="234.0" r="2.15" fill="#285fa0" stroke="#151515" stroke-width="0.6"/>
<circle cx="544.2" cy="234.5" r="2.15" fill="#1ec15b" stroke="#151515" stroke-width="0.6"/>
<circle cx="574.1" cy="234.3" r="2.15" fill="#285fa0" stroke="#151515" stroke-width="0.6"/>
<circle cx="579.4" cy="237.1" r="2.15" fill="#1ec15b" stroke="#151515" stroke-width="0.6"/>
<circle cx="575.6" cy="236.3" r="2.15" fill="#1ec15b" stroke="#151515" stroke-width="0.6"/>
<circle cx="571.8" cy="238.6" r="2.15" fill="#285fa0" stroke="#151515" stroke-width="0.6"/>
<circle cx="589.4" cy="238.6" r="2.15" fill="#4a2a8a" stroke="#151515" stroke-width="0.6"/>
<circle cx="593.3" cy="237.4" r="2.15" fill="#4a2a8a" stroke="#151515" stroke-width="0.6"/>
<circle cx="598.6" cy="237.1" r="2.15" fill="#4a2a8a" stroke="#151515" stroke-width="0.6"/>
<circle cx="604.8" cy="237.1" r="2.15" fill="#4a2a8a" stroke="#151515" stroke-width="0.6"/>
<circle cx="614.0" cy="238.3" r="2.15" fill="#4a2a8a" stroke="#151515" stroke-width="0.6"/>
<circle cx="544.3" cy="234.3" r="2.15" fill="#1ec15b" stroke="#151515" stroke-width="0.6"/>
<circle cx="585.6" cy="225.8" r="2.15" fill="#168496" stroke="#151515" stroke-width="0.6"/>
<circle cx="588.5" cy="227.5" r="2.15" fill="#0ca085" stroke="#151515" stroke-width="0.6"/>
<circle cx="595.0" cy="226.3" r="2.15" fill="#168496" stroke="#151515" stroke-width="0.6"/>
<circle cx="582.3" cy="230.2" r="2.15" fill="#0ca085" stroke="#151515" stroke-width="0.6"/>
<circle cx="588.0" cy="232.9" r="2.15" fill="#9dd918" stroke="#151515" stroke-width="0.6"/>
<circle cx="574.1" cy="234.0" r="2.15" fill="#1ec15b" stroke="#151515" stroke-width="0.6"/>
<circle cx="579.0" cy="236.8" r="2.15" fill="#1ec15b" stroke="#151515" stroke-width="0.6"/>
<circle cx="572.5" cy="238.1" r="2.15" fill="#285fa0" stroke="#151515" stroke-width="0.6"/>
<circle cx="583.1" cy="238.9" r="2.15" fill="#168496" stroke="#151515" stroke-width="0.6"/>
<circle cx="594.6" cy="229.9" r="2.15" fill="#285fa0" stroke="#151515" stroke-width="0.6"/>
<circle cx="601.1" cy="231.5" r="2.15" fill="#0ca085" stroke="#151515" stroke-width="0.6"/>
<circle cx="603.2" cy="231.9" r="2.15" fill="#168496" stroke="#151515" stroke-width="0.6"/>
<circle cx="591.3" cy="234.8" r="2.15" fill="#285fa0" stroke="#151515" stroke-width="0.6"/>
<circle cx="597.0" cy="237.3" r="2.15" fill="#4a2a8a" stroke="#151515" stroke-width="0.6"/>
<circle cx="601.9" cy="236.5" r="2.15" fill="#4a2a8a" stroke="#151515" stroke-width="0.6"/>
<circle cx="606.0" cy="238.9" r="2.15" fill="#4a2a8a" stroke="#151515" stroke-width="0.6"/>
<circle cx="614.2" cy="238.1" r="2.15" fill="#4a2a8a" stroke="#151515" stroke-width="0.6"/>
<circle cx="568.4" cy="243.3" r="2.15" fill="#285fa0" stroke="#151515" stroke-width="0.6"/>
<circle cx="576.1" cy="243.8" r="2.15" fill="#168496" stroke="#151515" stroke-width="0.6"/>
<circle cx="580.6" cy="245.0" r="2.15" fill="#285fa0" stroke="#151515" stroke-width="0.6"/>
<circle cx="583.9" cy="242.2" r="2.15" fill="#4a2a8a" stroke="#151515" stroke-width="0.6"/>
<circle cx="588.0" cy="240.5" r="2.15" fill="#4a2a8a" stroke="#151515" stroke-width="0.6"/>
<circle cx="590.5" cy="239.7" r="2.15" fill="#285fa0" stroke="#151515" stroke-width="0.6"/>
<circle cx="593.7" cy="243.8" r="2.15" fill="#4a2a8a" stroke="#151515" stroke-width="0.6"/>
<circle cx="598.6" cy="242.2" r="2.15" fill="#285fa0" stroke="#151515" stroke-width="0.6"/>
<circle cx="602.7" cy="243.0" r="2.15" fill="#4a2a8a" stroke="#151515" stroke-width="0.6"/>
<circle cx="607.7" cy="244.3" r="2.15" fill="#4a2a8a" stroke="#151515" stroke-width="0.6"/>
<circle cx="611.7" cy="244.6" r="2.15" fill="#4a2a8a" stroke="#151515" stroke-width="0.6"/>
<circle cx="552.0" cy="249.2" r="2.15" fill="#0ca085" stroke="#151515" stroke-width="0.6"/>
<circle cx="559.4" cy="247.9" r="2.15" fill="#285fa0" stroke="#151515" stroke-width="0.6"/>
<circle cx="540.5" cy="250.4" r="2.15" fill="#168496" stroke="#151515" stroke-width="0.6"/>
<circle cx="555.3" cy="253.6" r="2.15" fill="#285fa0" stroke="#151515" stroke-width="0.6"/>
<circle cx="560.2" cy="252.8" r="2.15" fill="#285fa0" stroke="#151515" stroke-width="0.6"/>
<circle cx="569.2" cy="250.4" r="2.15" fill="#4a2a8a" stroke="#151515" stroke-width="0.6"/>
<circle cx="573.8" cy="249.2" r="2.15" fill="#168496" stroke="#151515" stroke-width="0.6"/>
<circle cx="582.3" cy="248.7" r="2.15" fill="#285fa0" stroke="#151515" stroke-width="0.6"/>
<circle cx="587.2" cy="247.9" r="2.15" fill="#4a2a8a" stroke="#151515" stroke-width="0.6"/>
<circle cx="592.1" cy="250.4" r="2.15" fill="#168496" stroke="#151515" stroke-width="0.6"/>
<circle cx="597.0" cy="249.5" r="2.15" fill="#4a2a8a" stroke="#151515" stroke-width="0.6"/>
<circle cx="600.3" cy="250.4" r="2.15" fill="#285fa0" stroke="#151515" stroke-width="0.6"/>
<circle cx="604.4" cy="251.2" r="2.15" fill="#4a2a8a" stroke="#151515" stroke-width="0.6"/>
<circle cx="566.7" cy="255.3" r="2.15" fill="#285fa0" stroke="#151515" stroke-width="0.6"/>
<circle cx="570.0" cy="257.7" r="2.15" fill="#4a2a8a" stroke="#151515" stroke-width="0.6"/>
<circle cx="575.7" cy="254.5" r="2.15" fill="#4a2a8a" stroke="#151515" stroke-width="0.6"/>
<circle cx="578.2" cy="254.5" r="2.15" fill="#4a2a8a" stroke="#151515" stroke-width="0.6"/>
<circle cx="585.2" cy="254.5" r="2.15" fill="#4a2a8a" stroke="#151515" stroke-width="0.6"/>
<circle cx="590.5" cy="256.9" r="2.15" fill="#285fa0" stroke="#151515" stroke-width="0.6"/>
<circle cx="595.7" cy="256.4" r="2.15" fill="#4a2a8a" stroke="#151515" stroke-width="0.6"/>
<circle cx="601.9" cy="253.6" r="2.15" fill="#285fa0" stroke="#151515" stroke-width="0.6"/>
<circle cx="606.0" cy="254.1" r="2.15" fill="#4a2a8a" stroke="#151515" stroke-width="0.6"/>
<circle cx="611.7" cy="250.4" r="2.15" fill="#510c6d" stroke="#151515" stroke-width="0.6"/>
<circle cx="614.2" cy="253.2" r="2.15" fill="#510c6d" stroke="#151515" stroke-width="0.6"/>
<circle cx="615.8" cy="254.1" r="2.15" fill="#510c6d" stroke="#151515" stroke-width="0.6"/>
<circle cx="559.9" cy="258.1" r="2.15" fill="#285fa0" stroke="#151515" stroke-width="0.6"/>
<circle cx="575.7" cy="258.6" r="2.15" fill="#4a2a8a" stroke="#151515" stroke-width="0.6"/>
<circle cx="574.1" cy="264.3" r="2.15" fill="#285fa0" stroke="#151515" stroke-width="0.6"/>
<circle cx="541.7" cy="262.6" r="2.15" fill="#168496" stroke="#151515" stroke-width="0.6"/>
<circle cx="544.3" cy="268.4" r="2.15" fill="#285fa0" stroke="#151515" stroke-width="0.6"/>
<circle cx="540.1" cy="272.5" r="2.15" fill="#168496" stroke="#151515" stroke-width="0.6"/>
<circle cx="539.4" cy="278.2" r="2.15" fill="#4a2a8a" stroke="#151515" stroke-width="0.6"/>
<circle cx="567.2" cy="269.2" r="2.15" fill="#285fa0" stroke="#151515" stroke-width="0.6"/>
<circle cx="572.5" cy="266.7" r="2.15" fill="#285fa0" stroke="#151515" stroke-width="0.6"/>
<circle cx="572.1" cy="272.5" r="2.15" fill="#285fa0" stroke="#151515" stroke-width="0.6"/>
<circle cx="553.2" cy="291.0" r="2.15" fill="#4a2a8a" stroke="#151515" stroke-width="0.6"/>
<path d="M352.55,300.50 L355.89,300.22 L359.23,299.95 L362.57,299.69 L365.91,299.43 L369.26,299.19 L372.60,298.95 L375.94,298.72 L379.28,298.49 L382.62,298.26 L385.96,298.04 L389.30,297.82 L392.64,297.60 L395.98,297.38 L399.32,297.16 L402.67,296.94 L406.01,296.71 L409.35,296.48 L412.69,296.24 L416.03,296.00 L419.37,295.75 L422.71,295.50 L426.05,295.23 L429.39,294.96 L432.73,294.67 L436.08,294.37 L439.42,294.06 L442.76,293.74 L446.10,293.40 L449.44,293.05 L452.78,292.68 L456.12,292.30 L459.46,291.90 L462.80,291.48 L466.14,291.04 L469.49,290.58 L472.83,290.10 L476.17,289.59 L479.51,289.07 L482.85,288.52 L486.19,287.95 L489.53,287.35 L492.87,286.73 L496.21,286.08 L499.55,285.41 L502.90,284.71 L506.24,283.97 L509.58,283.21 L512.92,282.42 L516.26,281.60 L519.60,280.75 L522.94,279.86 L526.28,278.94 L529.62,277.99 L532.96,277.01 L536.31,275.98 L539.65,274.93 L542.99,273.84 L546.33,272.71 L549.67,271.54 L553.01,270.33 L556.35,269.09 L559.69,267.80 L563.03,266.48 L566.37,265.11 L569.72,263.71 L573.06,262.26 L576.40,260.77 L579.74,259.23 L583.08,257.66 L586.42,256.03 L589.76,254.37 L593.10,252.65 L596.44,250.90 L599.78,249.09 L603.13,247.24 L606.47,245.34 L609.81,243.39 L613.15,241.39 L616.49,239.35" fill="none" stroke="#47009a" stroke-width="2.4" stroke-linecap="butt" stroke-linejoin="round"/>
<path d="M352.55,300.50 L355.82,300.05 L359.10,299.60 L362.37,299.14 L365.64,298.69 L368.92,298.24 L372.19,297.78 L375.47,297.32 L378.74,296.86 L382.01,296.39 L385.29,295.92 L388.56,295.45 L391.83,294.97 L395.11,294.48 L398.38,293.99 L401.66,293.49 L404.93,292.98 L408.20,292.47 L411.48,291.94 L414.75,291.41 L418.02,290.87 L421.30,290.32 L424.57,289.75 L427.85,289.18 L431.12,288.59 L434.39,287.99 L437.67,287.38 L440.94,286.76 L444.21,286.12 L447.49,285.46 L450.76,284.79 L454.04,284.11 L457.31,283.40 L460.58,282.69 L463.86,281.95 L467.13,281.20 L470.40,280.42 L473.68,279.63 L476.95,278.82 L480.22,277.99 L483.50,277.14 L486.77,276.26 L490.05,275.37 L493.32,274.45 L496.59,273.51 L499.87,272.55 L503.14,271.56 L506.41,270.55 L509.69,269.51 L512.96,268.45 L516.24,267.36 L519.51,266.24 L522.78,265.10 L526.06,263.93 L529.33,262.73 L532.60,261.50 L535.88,260.24 L539.15,258.95 L542.43,257.63 L545.70,256.28 L548.97,254.90 L552.25,253.48 L555.52,252.04 L558.79,250.56 L562.07,249.04 L565.34,247.49 L568.62,245.91 L571.89,244.29 L575.16,242.63 L578.44,240.94 L581.71,239.21 L584.98,237.44 L588.26,235.64 L591.53,233.79 L594.80,231.91 L598.08,229.98 L601.35,228.02 L604.63,226.01 L607.90,223.97 L611.17,221.88" fill="none" stroke="#0e8a98" stroke-width="2.4" stroke-linecap="butt" stroke-linejoin="round"/>
<path d="M352.55,300.50 L355.49,300.03 L358.43,299.56 L361.38,299.09 L364.32,298.62 L367.26,298.15 L370.20,297.68 L373.15,297.20 L376.09,296.72 L379.03,296.23 L381.97,295.73 L384.92,295.23 L387.86,294.72 L390.80,294.20 L393.74,293.67 L396.68,293.13 L399.63,292.58 L402.57,292.02 L405.51,291.44 L408.45,290.84 L411.40,290.23 L414.34,289.61 L417.28,288.96 L420.22,288.30 L423.17,287.62 L426.11,286.91 L429.05,286.19 L431.99,285.45 L434.93,284.68 L437.88,283.88 L440.82,283.07 L443.76,282.22 L446.70,281.35 L449.65,280.45 L452.59,279.53 L455.53,278.57 L458.47,277.58 L461.42,276.56 L464.36,275.51 L467.30,274.43 L470.24,273.31 L473.18,272.16 L476.13,270.97 L479.07,269.74 L482.01,268.48 L484.95,267.17 L487.90,265.83 L490.84,264.45 L493.78,263.02 L496.72,261.55 L499.67,260.04 L502.61,258.48 L505.55,256.88 L508.49,255.23 L511.43,253.54 L514.38,251.80 L517.32,250.00 L520.26,248.16 L523.20,246.27 L526.15,244.33 L529.09,242.33 L532.03,240.28 L534.97,238.17 L537.92,236.01 L540.86,233.79 L543.80,231.52 L546.74,229.18 L549.68,226.79 L552.63,224.34 L555.57,221.82 L558.51,219.25 L561.45,216.61 L564.40,213.91 L567.34,211.14 L570.28,208.31 L573.22,205.41 L576.17,202.44 L579.11,199.40 L582.05,196.30 L584.99,193.12" fill="none" stroke="#c8dc0a" stroke-width="2.4" stroke-linecap="butt" stroke-linejoin="round"/>
<rect x="339.50" y="163.50" width="283.30" height="141.30" fill="none" stroke="#505050" stroke-width="1.15"/>
<line x1="352.55" y1="304.80" x2="352.55" y2="307.40" stroke="#333" stroke-width="1.1"/>
<line x1="405.71" y1="304.80" x2="405.71" y2="307.40" stroke="#333" stroke-width="1.1"/>
<line x1="458.87" y1="304.80" x2="458.87" y2="307.40" stroke="#333" stroke-width="1.1"/>
<line x1="512.03" y1="304.80" x2="512.03" y2="307.40" stroke="#333" stroke-width="1.1"/>
<line x1="565.19" y1="304.80" x2="565.19" y2="307.40" stroke="#333" stroke-width="1.1"/>
<line x1="618.35" y1="304.80" x2="618.35" y2="307.40" stroke="#333" stroke-width="1.1"/>
<line x1="336.90" y1="300.50" x2="339.50" y2="300.50" stroke="#333" stroke-width="1.1"/>
<line x1="336.90" y1="277.65" x2="339.50" y2="277.65" stroke="#333" stroke-width="1.1"/>
<line x1="336.90" y1="254.80" x2="339.50" y2="254.80" stroke="#333" stroke-width="1.1"/>
<line x1="336.90" y1="231.95" x2="339.50" y2="231.95" stroke="#333" stroke-width="1.1"/>
<line x1="336.90" y1="209.10" x2="339.50" y2="209.10" stroke="#333" stroke-width="1.1"/>
<line x1="336.90" y1="186.25" x2="339.50" y2="186.25" stroke="#333" stroke-width="1.1"/>
<line x1="336.90" y1="163.40" x2="339.50" y2="163.40" stroke="#333" stroke-width="1.1"/>
<line x1="47.85" y1="322.50" x2="47.85" y2="464.20" stroke="#cacaca" stroke-width="1.2" stroke-dasharray="2,1"/>
<line x1="101.01" y1="322.50" x2="101.01" y2="464.20" stroke="#cacaca" stroke-width="1.2" stroke-dasharray="2,1"/>
<line x1="154.17" y1="322.50" x2="154.17" y2="464.20" stroke="#cacaca" stroke-width="1.2" stroke-dasharray="2,1"/>
<line x1="207.33" y1="322.50" x2="207.33" y2="464.20" stroke="#cacaca" stroke-width="1.2" stroke-dasharray="2,1"/>
<line x1="260.49" y1="322.50" x2="260.49" y2="464.20" stroke="#cacaca" stroke-width="1.2" stroke-dasharray="2,1"/>
<line x1="313.65" y1="322.50" x2="313.65" y2="464.20" stroke="#cacaca" stroke-width="1.2" stroke-dasharray="2,1"/>
<line x1="34.80" y1="459.50" x2="318.10" y2="459.50" stroke="#cacaca" stroke-width="1.2" stroke-dasharray="2,1"/>
<line x1="34.80" y1="436.65" x2="318.10" y2="436.65" stroke="#cacaca" stroke-width="1.2" stroke-dasharray="2,1"/>
<line x1="34.80" y1="413.80" x2="318.10" y2="413.80" stroke="#cacaca" stroke-width="1.2" stroke-dasharray="2,1"/>
<line x1="34.80" y1="390.95" x2="318.10" y2="390.95" stroke="#cacaca" stroke-width="1.2" stroke-dasharray="2,1"/>
<line x1="34.80" y1="368.10" x2="318.10" y2="368.10" stroke="#cacaca" stroke-width="1.2" stroke-dasharray="2,1"/>
<line x1="34.80" y1="345.25" x2="318.10" y2="345.25" stroke="#cacaca" stroke-width="1.2" stroke-dasharray="2,1"/>
<circle cx="200.2" cy="394.3" r="2.15" fill="#168496" stroke="#151515" stroke-width="0.6"/>
<circle cx="205.7" cy="395.5" r="2.15" fill="#168496" stroke="#151515" stroke-width="0.6"/>
<circle cx="206.6" cy="404.9" r="2.15" fill="#168496" stroke="#151515" stroke-width="0.6"/>
<circle cx="196.6" cy="408.0" r="2.15" fill="#0ca085" stroke="#151515" stroke-width="0.6"/>
<circle cx="203.1" cy="408.4" r="2.15" fill="#285fa0" stroke="#151515" stroke-width="0.6"/>
<circle cx="204.0" cy="411.8" r="2.15" fill="#168496" stroke="#151515" stroke-width="0.6"/>
<circle cx="207.4" cy="409.2" r="2.15" fill="#285fa0" stroke="#151515" stroke-width="0.6"/>
<circle cx="186.5" cy="412.7" r="2.15" fill="#285fa0" stroke="#151515" stroke-width="0.6"/>
<circle cx="202.8" cy="413.0" r="2.15" fill="#4a2a8a" stroke="#151515" stroke-width="0.6"/>
<circle cx="201.4" cy="418.2" r="2.15" fill="#4a2a8a" stroke="#151515" stroke-width="0.6"/>
<circle cx="145.4" cy="437.6" r="2.15" fill="#285fa0" stroke="#151515" stroke-width="0.6"/>
<circle cx="191.1" cy="435.3" r="2.15" fill="#4a2a8a" stroke="#151515" stroke-width="0.6"/>
<circle cx="194.5" cy="433.3" r="2.15" fill="#285fa0" stroke="#151515" stroke-width="0.6"/>
<circle cx="196.6" cy="435.9" r="2.15" fill="#168496" stroke="#151515" stroke-width="0.6"/>
<circle cx="198.3" cy="441.0" r="2.15" fill="#4a2a8a" stroke="#151515" stroke-width="0.6"/>
<circle cx="198.8" cy="444.5" r="2.15" fill="#4a2a8a" stroke="#151515" stroke-width="0.6"/>
<circle cx="204.0" cy="446.2" r="2.15" fill="#4a2a8a" stroke="#151515" stroke-width="0.6"/>
<circle cx="204.8" cy="448.8" r="2.15" fill="#510c6d" stroke="#151515" stroke-width="0.6"/>
<circle cx="203.1" cy="450.5" r="2.15" fill="#285fa0" stroke="#151515" stroke-width="0.6"/>
<circle cx="184.6" cy="447.9" r="2.15" fill="#4a2a8a" stroke="#151515" stroke-width="0.6"/>
<circle cx="186.8" cy="449.6" r="2.15" fill="#510c6d" stroke="#151515" stroke-width="0.6"/>
<circle cx="191.1" cy="450.5" r="2.15" fill="#168496" stroke="#151515" stroke-width="0.6"/>
<circle cx="180.8" cy="451.3" r="2.15" fill="#285fa0" stroke="#151515" stroke-width="0.6"/>
<circle cx="193.7" cy="455.6" r="2.15" fill="#510c6d" stroke="#151515" stroke-width="0.6"/>
<circle cx="172.2" cy="454.4" r="2.15" fill="#510c6d" stroke="#151515" stroke-width="0.6"/>
<circle cx="183.4" cy="457.3" r="2.15" fill="#510c6d" stroke="#151515" stroke-width="0.6"/>
<circle cx="136.1" cy="457.3" r="2.15" fill="#510c6d" stroke="#151515" stroke-width="0.6"/>
<circle cx="146.1" cy="457.3" r="2.15" fill="#510c6d" stroke="#151515" stroke-width="0.6"/>
<circle cx="155.9" cy="457.3" r="2.15" fill="#510c6d" stroke="#151515" stroke-width="0.6"/>
<circle cx="160.2" cy="457.3" r="2.15" fill="#510c6d" stroke="#151515" stroke-width="0.6"/>
<circle cx="208.3" cy="453.9" r="2.15" fill="#510c6d" stroke="#151515" stroke-width="0.6"/>
<circle cx="207.9" cy="458.2" r="2.15" fill="#510c6d" stroke="#151515" stroke-width="0.6"/>
<circle cx="236.9" cy="343.3" r="2.15" fill="#f3e102" stroke="#151515" stroke-width="0.6"/>
<circle cx="251.5" cy="347.2" r="2.15" fill="#f3e102" stroke="#151515" stroke-width="0.6"/>
<circle cx="211.7" cy="352.7" r="2.15" fill="#f3e102" stroke="#151515" stroke-width="0.6"/>
<circle cx="215.9" cy="353.9" r="2.15" fill="#f3e102" stroke="#151515" stroke-width="0.6"/>
<circle cx="226.8" cy="355.1" r="2.15" fill="#168496" stroke="#151515" stroke-width="0.6"/>
<circle cx="258.4" cy="353.1" r="2.15" fill="#1ec15b" stroke="#151515" stroke-width="0.6"/>
<circle cx="276.0" cy="357.3" r="2.15" fill="#9dd918" stroke="#151515" stroke-width="0.6"/>
<circle cx="279.4" cy="361.5" r="2.15" fill="#1ec15b" stroke="#151515" stroke-width="0.6"/>
<circle cx="284.9" cy="360.3" r="2.15" fill="#168496" stroke="#151515" stroke-width="0.6"/>
<circle cx="262.1" cy="365.1" r="2.15" fill="#1ec15b" stroke="#151515" stroke-width="0.6"/>
<circle cx="267.5" cy="368.2" r="2.15" fill="#0ca085" stroke="#151515" stroke-width="0.6"/>
<circle cx="269.6" cy="367.3" r="2.15" fill="#168496" stroke="#151515" stroke-width="0.6"/>
<circle cx="267.1" cy="372.0" r="2.15" fill="#f3e102" stroke="#151515" stroke-width="0.6"/>
<circle cx="250.0" cy="371.5" r="2.15" fill="#f3e102" stroke="#151515" stroke-width="0.6"/>
<circle cx="253.7" cy="372.4" r="2.15" fill="#1ec15b" stroke="#151515" stroke-width="0.6"/>
<circle cx="257.0" cy="376.6" r="2.15" fill="#f3e102" stroke="#151515" stroke-width="0.6"/>
<circle cx="227.2" cy="374.9" r="2.15" fill="#285fa0" stroke="#151515" stroke-width="0.6"/>
<circle cx="233.5" cy="378.7" r="2.15" fill="#f3e102" stroke="#151515" stroke-width="0.6"/>
<circle cx="240.8" cy="378.2" r="2.15" fill="#f3e102" stroke="#151515" stroke-width="0.6"/>
<circle cx="275.5" cy="374.4" r="2.15" fill="#0ca085" stroke="#151515" stroke-width="0.6"/>
<circle cx="283.1" cy="375.4" r="2.15" fill="#168496" stroke="#151515" stroke-width="0.6"/>
<circle cx="294.0" cy="379.4" r="2.15" fill="#285fa0" stroke="#151515" stroke-width="0.6"/>
<circle cx="262.1" cy="380.8" r="2.15" fill="#285fa0" stroke="#151515" stroke-width="0.6"/>
<circle cx="265.4" cy="384.5" r="2.15" fill="#1ec15b" stroke="#151515" stroke-width="0.6"/>
<circle cx="263.8" cy="387.5" r="2.15" fill="#1ec15b" stroke="#151515" stroke-width="0.6"/>
<circle cx="257.9" cy="387.8" r="2.15" fill="#168496" stroke="#151515" stroke-width="0.6"/>
<circle cx="280.9" cy="386.3" r="2.15" fill="#285fa0" stroke="#151515" stroke-width="0.6"/>
<circle cx="232.7" cy="389.5" r="2.15" fill="#f3e102" stroke="#151515" stroke-width="0.6"/>
<circle cx="235.6" cy="387.5" r="2.15" fill="#f3e102" stroke="#151515" stroke-width="0.6"/>
<circle cx="263.8" cy="390.8" r="2.15" fill="#4a2a8a" stroke="#151515" stroke-width="0.6"/>
<circle cx="268.0" cy="392.2" r="2.15" fill="#0ca085" stroke="#151515" stroke-width="0.6"/>
<circle cx="274.2" cy="391.5" r="2.15" fill="#0ca085" stroke="#151515" stroke-width="0.6"/>
<circle cx="294.8" cy="391.2" r="2.15" fill="#168496" stroke="#151515" stroke-width="0.6"/>
<circle cx="296.5" cy="395.0" r="2.15" fill="#285fa0" stroke="#151515" stroke-width="0.6"/>
<circle cx="282.2" cy="395.9" r="2.15" fill="#168496" stroke="#151515" stroke-width="0.6"/>
<circle cx="268.8" cy="395.9" r="2.15" fill="#285fa0" stroke="#151515" stroke-width="0.6"/>
<circle cx="249.5" cy="395.4" r="2.15" fill="#f3e102" stroke="#151515" stroke-width="0.6"/>
<circle cx="234.9" cy="394.7" r="2.15" fill="#285fa0" stroke="#151515" stroke-width="0.6"/>
<circle cx="205.8" cy="395.0" r="2.15" fill="#168496" stroke="#151515" stroke-width="0.6"/>
<circle cx="225.1" cy="398.4" r="2.15" fill="#285fa0" stroke="#151515" stroke-width="0.6"/>
<circle cx="245.3" cy="399.2" r="2.15" fill="#168496" stroke="#151515" stroke-width="0.6"/>
<circle cx="256.2" cy="398.4" r="2.15" fill="#1ec15b" stroke="#151515" stroke-width="0.6"/>
<circle cx="262.1" cy="399.2" r="2.15" fill="#168496" stroke="#151515" stroke-width="0.6"/>
<circle cx="267.1" cy="399.2" r="2.15" fill="#285fa0" stroke="#151515" stroke-width="0.6"/>
<circle cx="284.7" cy="398.4" r="2.15" fill="#4a2a8a" stroke="#151515" stroke-width="0.6"/>
<circle cx="206.3" cy="395.5" r="2.15" fill="#168496" stroke="#151515" stroke-width="0.6"/>
<circle cx="225.1" cy="397.6" r="2.15" fill="#285fa0" stroke="#151515" stroke-width="0.6"/>
<circle cx="234.9" cy="394.7" r="2.15" fill="#285fa0" stroke="#151515" stroke-width="0.6"/>
<circle cx="249.5" cy="395.5" r="2.15" fill="#f3e102" stroke="#151515" stroke-width="0.6"/>
<circle cx="233.2" cy="401.8" r="2.15" fill="#f3e102" stroke="#151515" stroke-width="0.6"/>
<circle cx="227.7" cy="402.6" r="2.15" fill="#168496" stroke="#151515" stroke-width="0.6"/>
<circle cx="240.3" cy="404.3" r="2.15" fill="#1ec15b" stroke="#151515" stroke-width="0.6"/>
<circle cx="245.3" cy="400.4" r="2.15" fill="#0ca085" stroke="#151515" stroke-width="0.6"/>
<circle cx="246.1" cy="402.6" r="2.15" fill="#4a2a8a" stroke="#151515" stroke-width="0.6"/>
<circle cx="249.0" cy="402.6" r="2.15" fill="#f3e102" stroke="#151515" stroke-width="0.6"/>
<circle cx="255.4" cy="398.7" r="2.15" fill="#1ec15b" stroke="#151515" stroke-width="0.6"/>
<circle cx="256.2" cy="401.4" r="2.15" fill="#9dd918" stroke="#151515" stroke-width="0.6"/>
<circle cx="253.7" cy="405.1" r="2.15" fill="#168496" stroke="#151515" stroke-width="0.6"/>
<circle cx="262.1" cy="400.9" r="2.15" fill="#285fa0" stroke="#151515" stroke-width="0.6"/>
<circle cx="265.4" cy="401.8" r="2.15" fill="#0ca085" stroke="#151515" stroke-width="0.6"/>
<circle cx="268.8" cy="400.9" r="2.15" fill="#168496" stroke="#151515" stroke-width="0.6"/>
<circle cx="268.8" cy="395.9" r="2.15" fill="#285fa0" stroke="#151515" stroke-width="0.6"/>
<circle cx="264.6" cy="391.7" r="2.15" fill="#285fa0" stroke="#151515" stroke-width="0.6"/>
<circle cx="268.0" cy="392.5" r="2.15" fill="#0ca085" stroke="#151515" stroke-width="0.6"/>
<circle cx="274.2" cy="392.0" r="2.15" fill="#1ec15b" stroke="#151515" stroke-width="0.6"/>
<circle cx="282.2" cy="396.4" r="2.15" fill="#168496" stroke="#151515" stroke-width="0.6"/>
<circle cx="285.6" cy="396.7" r="2.15" fill="#285fa0" stroke="#151515" stroke-width="0.6"/>
<circle cx="296.5" cy="395.0" r="2.15" fill="#285fa0" stroke="#151515" stroke-width="0.6"/>
<circle cx="297.0" cy="401.8" r="2.15" fill="#168496" stroke="#151515" stroke-width="0.6"/>
<circle cx="213.4" cy="407.6" r="2.15" fill="#f3e102" stroke="#151515" stroke-width="0.6"/>
<circle cx="215.1" cy="405.9" r="2.15" fill="#1ec15b" stroke="#151515" stroke-width="0.6"/>
<circle cx="223.5" cy="407.3" r="2.15" fill="#1ec15b" stroke="#151515" stroke-width="0.6"/>
<circle cx="208.0" cy="409.3" r="2.15" fill="#285fa0" stroke="#151515" stroke-width="0.6"/>
<circle cx="245.3" cy="408.8" r="2.15" fill="#285fa0" stroke="#151515" stroke-width="0.6"/>
<circle cx="250.3" cy="407.1" r="2.15" fill="#168496" stroke="#151515" stroke-width="0.6"/>
<circle cx="255.4" cy="410.1" r="2.15" fill="#285fa0" stroke="#151515" stroke-width="0.6"/>
<circle cx="260.4" cy="409.3" r="2.15" fill="#285fa0" stroke="#151515" stroke-width="0.6"/>
<circle cx="263.8" cy="406.8" r="2.15" fill="#285fa0" stroke="#151515" stroke-width="0.6"/>
<circle cx="275.5" cy="405.1" r="2.15" fill="#285fa0" stroke="#151515" stroke-width="0.6"/>
<circle cx="279.7" cy="406.8" r="2.15" fill="#285fa0" stroke="#151515" stroke-width="0.6"/>
<circle cx="278.0" cy="410.1" r="2.15" fill="#168496" stroke="#151515" stroke-width="0.6"/>
<circle cx="286.4" cy="409.3" r="2.15" fill="#285fa0" stroke="#151515" stroke-width="0.6"/>
<circle cx="290.6" cy="409.3" r="2.15" fill="#4a2a8a" stroke="#151515" stroke-width="0.6"/>
<circle cx="294.8" cy="411.0" r="2.15" fill="#4a2a8a" stroke="#151515" stroke-width="0.6"/>
<circle cx="231.0" cy="413.8" r="2.15" fill="#168496" stroke="#151515" stroke-width="0.6"/>
<circle cx="227.7" cy="416.9" r="2.15" fill="#168496" stroke="#151515" stroke-width="0.6"/>
<circle cx="239.4" cy="415.2" r="2.15" fill="#285fa0" stroke="#151515" stroke-width="0.6"/>
<circle cx="244.5" cy="416.9" r="2.15" fill="#4a2a8a" stroke="#151515" stroke-width="0.6"/>
<circle cx="250.3" cy="414.3" r="2.15" fill="#285fa0" stroke="#151515" stroke-width="0.6"/>
<circle cx="256.2" cy="415.2" r="2.15" fill="#285fa0" stroke="#151515" stroke-width="0.6"/>
<circle cx="264.6" cy="417.2" r="2.15" fill="#4a2a8a" stroke="#151515" stroke-width="0.6"/>
<circle cx="275.5" cy="414.8" r="2.15" fill="#285fa0" stroke="#151515" stroke-width="0.6"/>
<circle cx="280.5" cy="413.5" r="2.15" fill="#285fa0" stroke="#151515" stroke-width="0.6"/>
<circle cx="286.4" cy="413.5" r="2.15" fill="#4a2a8a" stroke="#151515" stroke-width="0.6"/>
<circle cx="299.0" cy="415.7" r="2.15" fill="#4a2a8a" stroke="#151515" stroke-width="0.6"/>
<circle cx="306.6" cy="414.8" r="2.15" fill="#4a2a8a" stroke="#151515" stroke-width="0.6"/>
<circle cx="309.9" cy="413.5" r="2.15" fill="#510c6d" stroke="#151515" stroke-width="0.6"/>
<circle cx="226.0" cy="422.4" r="2.15" fill="#1ec15b" stroke="#151515" stroke-width="0.6"/>
<circle cx="232.7" cy="422.2" r="2.15" fill="#4a2a8a" stroke="#151515" stroke-width="0.6"/>
<circle cx="236.1" cy="421.1" r="2.15" fill="#0ca085" stroke="#151515" stroke-width="0.6"/>
<circle cx="245.3" cy="420.2" r="2.15" fill="#4a2a8a" stroke="#151515" stroke-width="0.6"/>
<circle cx="249.0" cy="422.2" r="2.15" fill="#1ec15b" stroke="#151515" stroke-width="0.6"/>
<circle cx="252.8" cy="417.7" r="2.15" fill="#1ec15b" stroke="#151515" stroke-width="0.6"/>
<circle cx="255.4" cy="421.1" r="2.15" fill="#285fa0" stroke="#151515" stroke-width="0.6"/>
<circle cx="254.5" cy="424.4" r="2.15" fill="#168496" stroke="#151515" stroke-width="0.6"/>
<circle cx="257.9" cy="423.6" r="2.15" fill="#285fa0" stroke="#151515" stroke-width="0.6"/>
<circle cx="265.4" cy="423.1" r="2.15" fill="#168496" stroke="#151515" stroke-width="0.6"/>
<circle cx="285.6" cy="419.4" r="2.15" fill="#285fa0" stroke="#151515" stroke-width="0.6"/>
<circle cx="211.7" cy="427.8" r="2.15" fill="#285fa0" stroke="#151515" stroke-width="0.6"/>
<circle cx="213.4" cy="426.1" r="2.15" fill="#4a2a8a" stroke="#151515" stroke-width="0.6"/>
<circle cx="228.5" cy="430.0" r="2.15" fill="#168496" stroke="#151515" stroke-width="0.6"/>
<circle cx="231.0" cy="430.3" r="2.15" fill="#168496" stroke="#151515" stroke-width="0.6"/>
<circle cx="234.4" cy="431.6" r="2.15" fill="#1ec15b" stroke="#151515" stroke-width="0.6"/>
<circle cx="245.3" cy="430.8" r="2.15" fill="#285fa0" stroke="#151515" stroke-width="0.6"/>
<circle cx="254.5" cy="431.6" r="2.15" fill="#285fa0" stroke="#151515" stroke-width="0.6"/>
<circle cx="262.9" cy="430.3" r="2.15" fill="#285fa0" stroke="#151515" stroke-width="0.6"/>
<circle cx="281.4" cy="426.1" r="2.15" fill="#285fa0" stroke="#151515" stroke-width="0.6"/>
<circle cx="285.6" cy="430.0" r="2.15" fill="#285fa0" stroke="#151515" stroke-width="0.6"/>
<circle cx="212.6" cy="434.5" r="2.15" fill="#168496" stroke="#151515" stroke-width="0.6"/>
<circle cx="215.1" cy="434.5" r="2.15" fill="#168496" stroke="#151515" stroke-width="0.6"/>
<circle cx="218.1" cy="432.0" r="2.15" fill="#285fa0" stroke="#151515" stroke-width="0.6"/>
<circle cx="224.3" cy="433.3" r="2.15" fill="#285fa0" stroke="#151515" stroke-width="0.6"/>
<circle cx="250.3" cy="434.5" r="2.15" fill="#4a2a8a" stroke="#151515" stroke-width="0.6"/>
<circle cx="278.9" cy="436.2" r="2.15" fill="#510c6d" stroke="#151515" stroke-width="0.6"/>
<circle cx="220.9" cy="439.5" r="2.15" fill="#4a2a8a" stroke="#151515" stroke-width="0.6"/>
<circle cx="236.6" cy="439.9" r="2.15" fill="#285fa0" stroke="#151515" stroke-width="0.6"/>
<circle cx="251.2" cy="440.0" r="2.15" fill="#168496" stroke="#151515" stroke-width="0.6"/>
<circle cx="260.4" cy="441.2" r="2.15" fill="#4a2a8a" stroke="#151515" stroke-width="0.6"/>
<circle cx="221.5" cy="443.7" r="2.15" fill="#4a2a8a" stroke="#151515" stroke-width="0.6"/>
<circle cx="225.1" cy="445.9" r="2.15" fill="#4a2a8a" stroke="#151515" stroke-width="0.6"/>
<circle cx="231.5" cy="444.6" r="2.15" fill="#285fa0" stroke="#151515" stroke-width="0.6"/>
<circle cx="285.9" cy="445.4" r="2.15" fill="#4a2a8a" stroke="#151515" stroke-width="0.6"/>
<circle cx="205.0" cy="447.9" r="2.15" fill="#4a2a8a" stroke="#151515" stroke-width="0.6"/>
<circle cx="215.9" cy="449.6" r="2.15" fill="#510c6d" stroke="#151515" stroke-width="0.6"/>
<circle cx="211.7" cy="451.3" r="2.15" fill="#510c6d" stroke="#151515" stroke-width="0.6"/>
<circle cx="209.2" cy="453.0" r="2.15" fill="#510c6d" stroke="#151515" stroke-width="0.6"/>
<circle cx="223.1" cy="448.8" r="2.15" fill="#285fa0" stroke="#151515" stroke-width="0.6"/>
<circle cx="253.7" cy="448.4" r="2.15" fill="#4a2a8a" stroke="#151515" stroke-width="0.6"/>
<circle cx="276.4" cy="447.6" r="2.15" fill="#510c6d" stroke="#151515" stroke-width="0.6"/>
<circle cx="208.0" cy="456.3" r="2.15" fill="#4a2a8a" stroke="#151515" stroke-width="0.6"/>
<circle cx="224.8" cy="456.6" r="2.15" fill="#510c6d" stroke="#151515" stroke-width="0.6"/>
<circle cx="233.5" cy="454.6" r="2.15" fill="#510c6d" stroke="#151515" stroke-width="0.6"/>
<circle cx="236.1" cy="458.8" r="2.15" fill="#510c6d" stroke="#151515" stroke-width="0.6"/>
<circle cx="267.5" cy="454.3" r="2.15" fill="#4a2a8a" stroke="#151515" stroke-width="0.6"/>
<path d="M47.85,459.50 L51.20,459.19 L54.55,458.89 L57.90,458.61 L61.25,458.35 L64.61,458.11 L67.96,457.88 L71.31,457.66 L74.66,457.45 L78.01,457.25 L81.36,457.06 L84.71,456.88 L88.06,456.70 L91.41,456.52 L94.77,456.35 L98.12,456.17 L101.47,456.00 L104.82,455.83 L108.17,455.65 L111.52,455.47 L114.87,455.29 L118.22,455.10 L121.57,454.90 L124.93,454.69 L128.28,454.47 L131.63,454.24 L134.98,454.00 L138.33,453.75 L141.68,453.48 L145.03,453.20 L148.38,452.90 L151.73,452.58 L155.09,452.25 L158.44,451.89 L161.79,451.52 L165.14,451.13 L168.49,450.71 L171.84,450.27 L175.19,449.80 L178.54,449.32 L181.89,448.80 L185.25,448.26 L188.60,447.69 L191.95,447.10 L195.30,446.47 L198.65,445.82 L202.00,445.14 L205.35,444.42 L208.70,443.68 L212.05,442.90 L215.40,442.09 L218.76,441.24 L222.11,440.36 L225.46,439.45 L228.81,438.50 L232.16,437.51 L235.51,436.49 L238.86,435.43 L242.21,434.34 L245.56,433.20 L248.92,432.03 L252.27,430.82 L255.62,429.57 L258.97,428.28 L262.32,426.94 L265.67,425.57 L269.02,424.16 L272.37,422.71 L275.72,421.21 L279.08,419.67 L282.43,418.09 L285.78,416.47 L289.13,414.81 L292.48,413.10 L295.83,411.35 L299.18,409.55 L302.53,407.72 L305.88,405.84 L309.24,403.91 L312.59,401.94" fill="none" stroke="#47009a" stroke-width="2.4" stroke-linecap="butt" stroke-linejoin="round"/>
<path d="M47.85,459.50 L51.16,458.92 L54.46,458.34 L57.77,457.78 L61.08,457.21 L64.39,456.66 L67.69,456.10 L71.00,455.56 L74.31,455.01 L77.62,454.46 L80.92,453.91 L84.23,453.36 L87.54,452.81 L90.85,452.26 L94.15,451.70 L97.46,451.14 L100.77,450.57 L104.08,450.00 L107.38,449.42 L110.69,448.83 L114.00,448.24 L117.30,447.63 L120.61,447.02 L123.92,446.39 L127.23,445.76 L130.53,445.11 L133.84,444.45 L137.15,443.78 L140.46,443.10 L143.76,442.40 L147.07,441.69 L150.38,440.96 L153.69,440.22 L156.99,439.46 L160.30,438.69 L163.61,437.91 L166.91,437.10 L170.22,436.29 L173.53,435.45 L176.84,434.60 L180.14,433.73 L183.45,432.84 L186.76,431.94 L190.07,431.02 L193.37,430.08 L196.68,429.13 L199.99,428.16 L203.30,427.17 L206.60,426.16 L209.91,425.14 L213.22,424.10 L216.53,423.04 L219.83,421.97 L223.14,420.87 L226.45,419.77 L229.75,418.64 L233.06,417.50 L236.37,416.35 L239.68,415.17 L242.98,413.99 L246.29,412.78 L249.60,411.57 L252.91,410.34 L256.21,409.09 L259.52,407.84 L262.83,406.57 L266.14,405.28 L269.44,403.99 L272.75,402.68 L276.06,401.37 L279.37,400.04 L282.67,398.70 L285.98,397.36 L289.29,396.01 L292.59,394.65 L295.90,393.28 L299.21,391.91 L302.52,390.53 L305.82,389.15 L309.13,387.76" fill="none" stroke="#0e8a98" stroke-width="2.4" stroke-linecap="butt" stroke-linejoin="round"/>
<path d="M47.85,459.50 L50.97,458.40 L54.09,457.29 L57.21,456.19 L60.33,455.08 L63.44,453.98 L66.56,452.87 L69.68,451.77 L72.80,450.66 L75.92,449.55 L79.04,448.44 L82.16,447.34 L85.28,446.23 L88.40,445.12 L91.52,444.01 L94.63,442.90 L97.75,441.79 L100.87,440.68 L103.99,439.57 L107.11,438.46 L110.23,437.34 L113.35,436.23 L116.47,435.12 L119.59,434.00 L122.70,432.89 L125.82,431.78 L128.94,430.66 L132.06,429.55 L135.18,428.43 L138.30,427.32 L141.42,426.20 L144.54,425.09 L147.66,423.97 L150.78,422.85 L153.89,421.74 L157.01,420.62 L160.13,419.50 L163.25,418.39 L166.37,417.27 L169.49,416.15 L172.61,415.03 L175.73,413.91 L178.85,412.80 L181.96,411.68 L185.08,410.56 L188.20,409.44 L191.32,408.32 L194.44,407.20 L197.56,406.08 L200.68,404.96 L203.80,403.84 L206.92,402.72 L210.04,401.60 L213.15,400.48 L216.27,399.36 L219.39,398.24 L222.51,397.12 L225.63,396.00 L228.75,394.88 L231.87,393.76 L234.99,392.63 L238.11,391.51 L241.22,390.39 L244.34,389.27 L247.46,388.15 L250.58,387.03 L253.70,385.91 L256.82,384.79 L259.94,383.66 L263.06,382.54 L266.18,381.42 L269.30,380.30 L272.41,379.18 L275.53,378.06 L278.65,376.94 L281.77,375.82 L284.89,374.69 L288.01,373.57 L291.13,372.45 L294.25,371.33" fill="none" stroke="#c8dc0a" stroke-width="2.4" stroke-linecap="butt" stroke-linejoin="round"/>
<rect x="34.80" y="322.50" width="283.30" height="141.70" fill="none" stroke="#505050" stroke-width="1.15"/>
<line x1="47.85" y1="464.20" x2="47.85" y2="466.80" stroke="#333" stroke-width="1.1"/>
<line x1="101.01" y1="464.20" x2="101.01" y2="466.80" stroke="#333" stroke-width="1.1"/>
<line x1="154.17" y1="464.20" x2="154.17" y2="466.80" stroke="#333" stroke-width="1.1"/>
<line x1="207.33" y1="464.20" x2="207.33" y2="466.80" stroke="#333" stroke-width="1.1"/>
<line x1="260.49" y1="464.20" x2="260.49" y2="466.80" stroke="#333" stroke-width="1.1"/>
<line x1="313.65" y1="464.20" x2="313.65" y2="466.80" stroke="#333" stroke-width="1.1"/>
<line x1="32.20" y1="459.50" x2="34.80" y2="459.50" stroke="#333" stroke-width="1.1"/>
<line x1="32.20" y1="436.65" x2="34.80" y2="436.65" stroke="#333" stroke-width="1.1"/>
<line x1="32.20" y1="413.80" x2="34.80" y2="413.80" stroke="#333" stroke-width="1.1"/>
<line x1="32.20" y1="390.95" x2="34.80" y2="390.95" stroke="#333" stroke-width="1.1"/>
<line x1="32.20" y1="368.10" x2="34.80" y2="368.10" stroke="#333" stroke-width="1.1"/>
<line x1="32.20" y1="345.25" x2="34.80" y2="345.25" stroke="#333" stroke-width="1.1"/>
<line x1="32.20" y1="322.40" x2="34.80" y2="322.40" stroke="#333" stroke-width="1.1"/>
<text x="30.30" y="463.60" text-anchor="end" font-size="11.4" fill="#1a1a1a" stroke="#1a1a1a" stroke-width="0.3">0.0</text>
<text x="30.30" y="440.75" text-anchor="end" font-size="11.4" fill="#1a1a1a" stroke="#1a1a1a" stroke-width="0.3">0.5</text>
<text x="30.30" y="417.90" text-anchor="end" font-size="11.4" fill="#1a1a1a" stroke="#1a1a1a" stroke-width="0.3">1.0</text>
<text x="30.30" y="395.05" text-anchor="end" font-size="11.4" fill="#1a1a1a" stroke="#1a1a1a" stroke-width="0.3">1.5</text>
<text x="30.30" y="372.20" text-anchor="end" font-size="11.4" fill="#1a1a1a" stroke="#1a1a1a" stroke-width="0.3">2.0</text>
<text x="30.30" y="349.35" text-anchor="end" font-size="11.4" fill="#1a1a1a" stroke="#1a1a1a" stroke-width="0.3">2.5</text>
<text x="30.30" y="326.50" text-anchor="end" font-size="11.4" fill="#1a1a1a" stroke="#1a1a1a" stroke-width="0.3">3.0</text>
<text x="48.05" y="476.30" text-anchor="middle" font-size="11.4" fill="#1a1a1a" stroke="#1a1a1a" stroke-width="0.3">0.0</text>
<text x="101.21" y="476.30" text-anchor="middle" font-size="11.4" fill="#1a1a1a" stroke="#1a1a1a" stroke-width="0.3">0.2</text>
<text x="154.37" y="476.30" text-anchor="middle" font-size="11.4" fill="#1a1a1a" stroke="#1a1a1a" stroke-width="0.3">0.4</text>
<text x="207.53" y="476.30" text-anchor="middle" font-size="11.4" fill="#1a1a1a" stroke="#1a1a1a" stroke-width="0.3">0.6</text>
<text x="260.69" y="476.30" text-anchor="middle" font-size="11.4" fill="#1a1a1a" stroke="#1a1a1a" stroke-width="0.3">0.8</text>
<text x="313.85" y="476.30" text-anchor="middle" font-size="11.4" fill="#1a1a1a" stroke="#1a1a1a" stroke-width="0.3">1.0</text>
<text x="176.45" y="488.70" text-anchor="middle" font-size="15" fill="#1a1a1a" stroke="#1a1a1a" stroke-width="0.25">x</text>
<line x1="352.55" y1="322.50" x2="352.55" y2="464.20" stroke="#cacaca" stroke-width="1.2" stroke-dasharray="2,1"/>
<line x1="405.71" y1="322.50" x2="405.71" y2="464.20" stroke="#cacaca" stroke-width="1.2" stroke-dasharray="2,1"/>
<line x1="458.87" y1="322.50" x2="458.87" y2="464.20" stroke="#cacaca" stroke-width="1.2" stroke-dasharray="2,1"/>
<line x1="512.03" y1="322.50" x2="512.03" y2="464.20" stroke="#cacaca" stroke-width="1.2" stroke-dasharray="2,1"/>
<line x1="565.19" y1="322.50" x2="565.19" y2="464.20" stroke="#cacaca" stroke-width="1.2" stroke-dasharray="2,1"/>
<line x1="618.35" y1="322.50" x2="618.35" y2="464.20" stroke="#cacaca" stroke-width="1.2" stroke-dasharray="2,1"/>
<line x1="339.50" y1="459.50" x2="622.80" y2="459.50" stroke="#cacaca" stroke-width="1.2" stroke-dasharray="2,1"/>
<line x1="339.50" y1="436.65" x2="622.80" y2="436.65" stroke="#cacaca" stroke-width="1.2" stroke-dasharray="2,1"/>
<line x1="339.50" y1="413.80" x2="622.80" y2="413.80" stroke="#cacaca" stroke-width="1.2" stroke-dasharray="2,1"/>
<line x1="339.50" y1="390.95" x2="622.80" y2="390.95" stroke="#cacaca" stroke-width="1.2" stroke-dasharray="2,1"/>
<line x1="339.50" y1="368.10" x2="622.80" y2="368.10" stroke="#cacaca" stroke-width="1.2" stroke-dasharray="2,1"/>
<line x1="339.50" y1="345.25" x2="622.80" y2="345.25" stroke="#cacaca" stroke-width="1.2" stroke-dasharray="2,1"/>
<circle cx="495.6" cy="394.3" r="2.15" fill="#168496" stroke="#151515" stroke-width="0.6"/>
<circle cx="518.8" cy="395.8" r="2.15" fill="#168496" stroke="#151515" stroke-width="0.6"/>
<circle cx="502.1" cy="411.8" r="2.15" fill="#285fa0" stroke="#151515" stroke-width="0.6"/>
<circle cx="505.9" cy="412.6" r="2.15" fill="#285fa0" stroke="#151515" stroke-width="0.6"/>
<circle cx="508.5" cy="409.2" r="2.15" fill="#285fa0" stroke="#151515" stroke-width="0.6"/>
<circle cx="511.9" cy="412.6" r="2.15" fill="#285fa0" stroke="#151515" stroke-width="0.6"/>
<circle cx="505.9" cy="418.1" r="2.15" fill="#4a2a8a" stroke="#151515" stroke-width="0.6"/>
<circle cx="516.6" cy="406.1" r="2.15" fill="#1ec15b" stroke="#151515" stroke-width="0.6"/>
<circle cx="517.9" cy="420.9" r="2.15" fill="#9dd918" stroke="#151515" stroke-width="0.6"/>
<circle cx="513.6" cy="426.0" r="2.15" fill="#285fa0" stroke="#151515" stroke-width="0.6"/>
<circle cx="509.3" cy="431.5" r="2.15" fill="#285fa0" stroke="#151515" stroke-width="0.6"/>
<circle cx="507.6" cy="433.6" r="2.15" fill="#285fa0" stroke="#151515" stroke-width="0.6"/>
<circle cx="495.6" cy="434.1" r="2.15" fill="#285fa0" stroke="#151515" stroke-width="0.6"/>
<circle cx="496.5" cy="435.8" r="2.15" fill="#285fa0" stroke="#151515" stroke-width="0.6"/>
<circle cx="501.6" cy="437.6" r="2.15" fill="#168496" stroke="#151515" stroke-width="0.6"/>
<circle cx="503.3" cy="440.5" r="2.15" fill="#285fa0" stroke="#151515" stroke-width="0.6"/>
<circle cx="518.8" cy="434.1" r="2.15" fill="#168496" stroke="#151515" stroke-width="0.6"/>
<circle cx="483.1" cy="441.0" r="2.15" fill="#4a2a8a" stroke="#151515" stroke-width="0.6"/>
<circle cx="452.3" cy="445.8" r="2.15" fill="#510c6d" stroke="#151515" stroke-width="0.6"/>
<circle cx="490.1" cy="447.0" r="2.15" fill="#510c6d" stroke="#151515" stroke-width="0.6"/>
<circle cx="495.6" cy="444.9" r="2.15" fill="#4a2a8a" stroke="#151515" stroke-width="0.6"/>
<circle cx="491.3" cy="450.1" r="2.15" fill="#510c6d" stroke="#151515" stroke-width="0.6"/>
<circle cx="496.5" cy="451.8" r="2.15" fill="#285fa0" stroke="#151515" stroke-width="0.6"/>
<circle cx="504.5" cy="450.4" r="2.15" fill="#168496" stroke="#151515" stroke-width="0.6"/>
<circle cx="508.5" cy="448.7" r="2.15" fill="#285fa0" stroke="#151515" stroke-width="0.6"/>
<circle cx="510.2" cy="448.4" r="2.15" fill="#285fa0" stroke="#151515" stroke-width="0.6"/>
<circle cx="505.1" cy="454.2" r="2.15" fill="#4a2a8a" stroke="#151515" stroke-width="0.6"/>
<circle cx="518.8" cy="444.9" r="2.15" fill="#285fa0" stroke="#151515" stroke-width="0.6"/>
<circle cx="519.7" cy="448.7" r="2.15" fill="#285fa0" stroke="#151515" stroke-width="0.6"/>
<circle cx="490.8" cy="455.3" r="2.15" fill="#510c6d" stroke="#151515" stroke-width="0.6"/>
<circle cx="451.8" cy="457.7" r="2.15" fill="#510c6d" stroke="#151515" stroke-width="0.6"/>
<circle cx="457.5" cy="457.7" r="2.15" fill="#510c6d" stroke="#151515" stroke-width="0.6"/>
<circle cx="464.3" cy="457.7" r="2.15" fill="#510c6d" stroke="#151515" stroke-width="0.6"/>
<circle cx="467.3" cy="454.7" r="2.15" fill="#510c6d" stroke="#151515" stroke-width="0.6"/>
<circle cx="468.6" cy="457.7" r="2.15" fill="#510c6d" stroke="#151515" stroke-width="0.6"/>
<circle cx="485.3" cy="457.7" r="2.15" fill="#510c6d" stroke="#151515" stroke-width="0.6"/>
<circle cx="516.6" cy="457.7" r="2.15" fill="#510c6d" stroke="#151515" stroke-width="0.6"/>
<circle cx="557.0" cy="347.2" r="2.15" fill="#f3e102" stroke="#151515" stroke-width="0.6"/>
<circle cx="516.7" cy="352.7" r="2.15" fill="#f3e102" stroke="#151515" stroke-width="0.6"/>
<circle cx="534.8" cy="353.6" r="2.15" fill="#f3e102" stroke="#151515" stroke-width="0.6"/>
<circle cx="554.0" cy="353.9" r="2.15" fill="#f3e102" stroke="#151515" stroke-width="0.6"/>
<circle cx="564.6" cy="353.1" r="2.15" fill="#1ec15b" stroke="#151515" stroke-width="0.6"/>
<circle cx="575.1" cy="354.7" r="2.15" fill="#168496" stroke="#151515" stroke-width="0.6"/>
<circle cx="579.2" cy="357.3" r="2.15" fill="#1ec15b" stroke="#151515" stroke-width="0.6"/>
<circle cx="578.0" cy="360.6" r="2.15" fill="#0ca085" stroke="#151515" stroke-width="0.6"/>
<circle cx="574.6" cy="363.1" r="2.15" fill="#f3e102" stroke="#151515" stroke-width="0.6"/>
<circle cx="557.5" cy="359.9" r="2.15" fill="#f3e102" stroke="#151515" stroke-width="0.6"/>
<circle cx="586.9" cy="360.3" r="2.15" fill="#168496" stroke="#151515" stroke-width="0.6"/>
<circle cx="567.1" cy="368.2" r="2.15" fill="#168496" stroke="#151515" stroke-width="0.6"/>
<circle cx="555.3" cy="372.0" r="2.15" fill="#1ec15b" stroke="#151515" stroke-width="0.6"/>
<circle cx="557.0" cy="377.4" r="2.15" fill="#0ca085" stroke="#151515" stroke-width="0.6"/>
<circle cx="561.2" cy="378.2" r="2.15" fill="#f3e102" stroke="#151515" stroke-width="0.6"/>
<circle cx="553.3" cy="381.6" r="2.15" fill="#0ca085" stroke="#151515" stroke-width="0.6"/>
<circle cx="529.8" cy="378.7" r="2.15" fill="#f3e102" stroke="#151515" stroke-width="0.6"/>
<circle cx="584.4" cy="375.1" r="2.15" fill="#285fa0" stroke="#151515" stroke-width="0.6"/>
<circle cx="581.9" cy="381.6" r="2.15" fill="#285fa0" stroke="#151515" stroke-width="0.6"/>
<circle cx="595.6" cy="379.4" r="2.15" fill="#285fa0" stroke="#151515" stroke-width="0.6"/>
<circle cx="584.7" cy="386.6" r="2.15" fill="#168496" stroke="#151515" stroke-width="0.6"/>
<circle cx="570.4" cy="385.3" r="2.15" fill="#168496" stroke="#151515" stroke-width="0.6"/>
<circle cx="562.4" cy="386.6" r="2.15" fill="#1ec15b" stroke="#151515" stroke-width="0.6"/>
<circle cx="529.8" cy="389.5" r="2.15" fill="#f3e102" stroke="#151515" stroke-width="0.6"/>
<circle cx="573.0" cy="390.3" r="2.15" fill="#1ec15b" stroke="#151515" stroke-width="0.6"/>
<circle cx="573.8" cy="394.2" r="2.15" fill="#285fa0" stroke="#151515" stroke-width="0.6"/>
<circle cx="564.1" cy="391.3" r="2.15" fill="#4a2a8a" stroke="#151515" stroke-width="0.6"/>
<circle cx="568.8" cy="395.9" r="2.15" fill="#285fa0" stroke="#151515" stroke-width="0.6"/>
<circle cx="570.4" cy="393.4" r="2.15" fill="#168496" stroke="#151515" stroke-width="0.6"/>
<circle cx="520.1" cy="395.5" r="2.15" fill="#168496" stroke="#151515" stroke-width="0.6"/>
<circle cx="526.8" cy="397.2" r="2.15" fill="#285fa0" stroke="#151515" stroke-width="0.6"/>
<circle cx="533.5" cy="396.4" r="2.15" fill="#168496" stroke="#151515" stroke-width="0.6"/>
<circle cx="548.3" cy="395.9" r="2.15" fill="#f3e102" stroke="#151515" stroke-width="0.6"/>
<circle cx="551.1" cy="396.4" r="2.15" fill="#f3e102" stroke="#151515" stroke-width="0.6"/>
<circle cx="553.3" cy="398.4" r="2.15" fill="#1ec15b" stroke="#151515" stroke-width="0.6"/>
<circle cx="584.7" cy="395.9" r="2.15" fill="#168496" stroke="#151515" stroke-width="0.6"/>
<circle cx="590.6" cy="396.7" r="2.15" fill="#4a2a8a" stroke="#151515" stroke-width="0.6"/>
<circle cx="597.3" cy="390.8" r="2.15" fill="#168496" stroke="#151515" stroke-width="0.6"/>
<circle cx="601.5" cy="394.7" r="2.15" fill="#4a2a8a" stroke="#151515" stroke-width="0.6"/>
<circle cx="525.9" cy="400.1" r="2.15" fill="#168496" stroke="#151515" stroke-width="0.6"/>
<circle cx="565.4" cy="400.1" r="2.15" fill="#285fa0" stroke="#151515" stroke-width="0.6"/>
<circle cx="520.1" cy="395.5" r="2.15" fill="#168496" stroke="#151515" stroke-width="0.6"/>
<circle cx="526.8" cy="397.6" r="2.15" fill="#285fa0" stroke="#151515" stroke-width="0.6"/>
<circle cx="526.5" cy="399.7" r="2.15" fill="#168496" stroke="#151515" stroke-width="0.6"/>
<circle cx="533.5" cy="396.7" r="2.15" fill="#168496" stroke="#151515" stroke-width="0.6"/>
<circle cx="536.0" cy="400.9" r="2.15" fill="#f3e102" stroke="#151515" stroke-width="0.6"/>
<circle cx="548.3" cy="395.9" r="2.15" fill="#f3e102" stroke="#151515" stroke-width="0.6"/>
<circle cx="550.3" cy="396.7" r="2.15" fill="#f3e102" stroke="#151515" stroke-width="0.6"/>
<circle cx="553.3" cy="398.1" r="2.15" fill="#1ec15b" stroke="#151515" stroke-width="0.6"/>
<circle cx="552.0" cy="402.6" r="2.15" fill="#f3e102" stroke="#151515" stroke-width="0.6"/>
<circle cx="555.7" cy="400.9" r="2.15" fill="#285fa0" stroke="#151515" stroke-width="0.6"/>
<circle cx="545.3" cy="403.4" r="2.15" fill="#168496" stroke="#151515" stroke-width="0.6"/>
<circle cx="563.7" cy="391.7" r="2.15" fill="#285fa0" stroke="#151515" stroke-width="0.6"/>
<circle cx="571.3" cy="392.5" r="2.15" fill="#1ec15b" stroke="#151515" stroke-width="0.6"/>
<circle cx="573.8" cy="390.8" r="2.15" fill="#1ec15b" stroke="#151515" stroke-width="0.6"/>
<circle cx="573.8" cy="394.2" r="2.15" fill="#285fa0" stroke="#151515" stroke-width="0.6"/>
<circle cx="568.8" cy="396.4" r="2.15" fill="#285fa0" stroke="#151515" stroke-width="0.6"/>
<circle cx="564.6" cy="400.9" r="2.15" fill="#168496" stroke="#151515" stroke-width="0.6"/>
<circle cx="567.9" cy="402.6" r="2.15" fill="#285fa0" stroke="#151515" stroke-width="0.6"/>
<circle cx="571.3" cy="400.9" r="2.15" fill="#168496" stroke="#151515" stroke-width="0.6"/>
<circle cx="583.9" cy="396.4" r="2.15" fill="#168496" stroke="#151515" stroke-width="0.6"/>
<circle cx="590.6" cy="397.1" r="2.15" fill="#285fa0" stroke="#151515" stroke-width="0.6"/>
<circle cx="597.3" cy="390.8" r="2.15" fill="#168496" stroke="#151515" stroke-width="0.6"/>
<circle cx="601.5" cy="394.7" r="2.15" fill="#285fa0" stroke="#151515" stroke-width="0.6"/>
<circle cx="600.3" cy="401.8" r="2.15" fill="#168496" stroke="#151515" stroke-width="0.6"/>
<circle cx="586.4" cy="400.1" r="2.15" fill="#4a2a8a" stroke="#151515" stroke-width="0.6"/>
<circle cx="516.7" cy="406.3" r="2.15" fill="#168496" stroke="#151515" stroke-width="0.6"/>
<circle cx="511.3" cy="412.7" r="2.15" fill="#4a2a8a" stroke="#151515" stroke-width="0.6"/>
<circle cx="530.1" cy="402.6" r="2.15" fill="#168496" stroke="#151515" stroke-width="0.6"/>
<circle cx="536.9" cy="408.1" r="2.15" fill="#1ec15b" stroke="#151515" stroke-width="0.6"/>
<circle cx="540.6" cy="409.3" r="2.15" fill="#285fa0" stroke="#151515" stroke-width="0.6"/>
<circle cx="546.1" cy="411.0" r="2.15" fill="#168496" stroke="#151515" stroke-width="0.6"/>
<circle cx="552.0" cy="409.3" r="2.15" fill="#285fa0" stroke="#151515" stroke-width="0.6"/>
<circle cx="556.2" cy="407.6" r="2.15" fill="#168496" stroke="#151515" stroke-width="0.6"/>
<circle cx="560.4" cy="409.3" r="2.15" fill="#285fa0" stroke="#151515" stroke-width="0.6"/>
<circle cx="565.4" cy="405.9" r="2.15" fill="#285fa0" stroke="#151515" stroke-width="0.6"/>
<circle cx="573.8" cy="409.3" r="2.15" fill="#168496" stroke="#151515" stroke-width="0.6"/>
<circle cx="578.8" cy="404.8" r="2.15" fill="#4a2a8a" stroke="#151515" stroke-width="0.6"/>
<circle cx="581.4" cy="408.8" r="2.15" fill="#285fa0" stroke="#151515" stroke-width="0.6"/>
<circle cx="588.9" cy="409.8" r="2.15" fill="#285fa0" stroke="#151515" stroke-width="0.6"/>
<circle cx="593.1" cy="408.8" r="2.15" fill="#4a2a8a" stroke="#151515" stroke-width="0.6"/>
<circle cx="598.1" cy="411.0" r="2.15" fill="#4a2a8a" stroke="#151515" stroke-width="0.6"/>
<circle cx="591.4" cy="413.5" r="2.15" fill="#4a2a8a" stroke="#151515" stroke-width="0.6"/>
<circle cx="530.1" cy="414.8" r="2.15" fill="#285fa0" stroke="#151515" stroke-width="0.6"/>
<circle cx="535.2" cy="416.9" r="2.15" fill="#285fa0" stroke="#151515" stroke-width="0.6"/>
<circle cx="541.1" cy="416.0" r="2.15" fill="#168496" stroke="#151515" stroke-width="0.6"/>
<circle cx="546.1" cy="415.2" r="2.15" fill="#285fa0" stroke="#151515" stroke-width="0.6"/>
<circle cx="552.8" cy="416.5" r="2.15" fill="#4a2a8a" stroke="#151515" stroke-width="0.6"/>
<circle cx="557.0" cy="414.8" r="2.15" fill="#4a2a8a" stroke="#151515" stroke-width="0.6"/>
<circle cx="565.4" cy="414.3" r="2.15" fill="#285fa0" stroke="#151515" stroke-width="0.6"/>
<circle cx="570.4" cy="413.5" r="2.15" fill="#285fa0" stroke="#151515" stroke-width="0.6"/>
<circle cx="569.6" cy="416.9" r="2.15" fill="#510c6d" stroke="#151515" stroke-width="0.6"/>
<circle cx="603.2" cy="416.0" r="2.15" fill="#4a2a8a" stroke="#151515" stroke-width="0.6"/>
<circle cx="610.7" cy="414.8" r="2.15" fill="#4a2a8a" stroke="#151515" stroke-width="0.6"/>
<circle cx="614.1" cy="413.2" r="2.15" fill="#510c6d" stroke="#151515" stroke-width="0.6"/>
<circle cx="518.4" cy="420.7" r="2.15" fill="#9dd918" stroke="#151515" stroke-width="0.6"/>
<circle cx="524.3" cy="419.4" r="2.15" fill="#1ec15b" stroke="#151515" stroke-width="0.6"/>
<circle cx="530.1" cy="419.4" r="2.15" fill="#285fa0" stroke="#151515" stroke-width="0.6"/>
<circle cx="536.0" cy="420.2" r="2.15" fill="#1ec15b" stroke="#151515" stroke-width="0.6"/>
<circle cx="537.7" cy="421.9" r="2.15" fill="#285fa0" stroke="#151515" stroke-width="0.6"/>
<circle cx="544.4" cy="420.6" r="2.15" fill="#4a2a8a" stroke="#151515" stroke-width="0.6"/>
<circle cx="558.7" cy="419.9" r="2.15" fill="#4a2a8a" stroke="#151515" stroke-width="0.6"/>
<circle cx="559.5" cy="424.1" r="2.15" fill="#168496" stroke="#151515" stroke-width="0.6"/>
<circle cx="567.1" cy="422.7" r="2.15" fill="#168496" stroke="#151515" stroke-width="0.6"/>
<circle cx="514.2" cy="425.6" r="2.15" fill="#285fa0" stroke="#151515" stroke-width="0.6"/>
<circle cx="523.1" cy="428.3" r="2.15" fill="#285fa0" stroke="#151515" stroke-width="0.6"/>
<circle cx="547.3" cy="426.1" r="2.15" fill="#285fa0" stroke="#151515" stroke-width="0.6"/>
<circle cx="534.3" cy="430.3" r="2.15" fill="#168496" stroke="#151515" stroke-width="0.6"/>
<circle cx="519.2" cy="434.0" r="2.15" fill="#168496" stroke="#151515" stroke-width="0.6"/>
<circle cx="525.1" cy="437.8" r="2.15" fill="#285fa0" stroke="#151515" stroke-width="0.6"/>
<circle cx="541.9" cy="435.3" r="2.15" fill="#285fa0" stroke="#151515" stroke-width="0.6"/>
<circle cx="583.4" cy="429.8" r="2.15" fill="#285fa0" stroke="#151515" stroke-width="0.6"/>
<circle cx="510.0" cy="431.1" r="2.15" fill="#285fa0" stroke="#151515" stroke-width="0.6"/>
<circle cx="524.8" cy="440.7" r="2.15" fill="#4a2a8a" stroke="#151515" stroke-width="0.6"/>
<circle cx="533.5" cy="441.7" r="2.15" fill="#4a2a8a" stroke="#151515" stroke-width="0.6"/>
<circle cx="540.6" cy="440.4" r="2.15" fill="#285fa0" stroke="#151515" stroke-width="0.6"/>
<circle cx="551.1" cy="439.9" r="2.15" fill="#168496" stroke="#151515" stroke-width="0.6"/>
<circle cx="555.7" cy="441.2" r="2.15" fill="#4a2a8a" stroke="#151515" stroke-width="0.6"/>
<circle cx="518.4" cy="444.6" r="2.15" fill="#285fa0" stroke="#151515" stroke-width="0.6"/>
<circle cx="520.9" cy="448.4" r="2.15" fill="#285fa0" stroke="#151515" stroke-width="0.6"/>
<circle cx="510.8" cy="447.9" r="2.15" fill="#4a2a8a" stroke="#151515" stroke-width="0.6"/>
<circle cx="573.8" cy="444.9" r="2.15" fill="#510c6d" stroke="#151515" stroke-width="0.6"/>
<circle cx="590.1" cy="445.1" r="2.15" fill="#4a2a8a" stroke="#151515" stroke-width="0.6"/>
<circle cx="516.7" cy="457.2" r="2.15" fill="#510c6d" stroke="#151515" stroke-width="0.6"/>
<circle cx="536.9" cy="458.8" r="2.15" fill="#510c6d" stroke="#151515" stroke-width="0.6"/>
<path d="M352.55,459.50 L355.89,459.22 L359.23,458.95 L362.57,458.69 L365.91,458.43 L369.26,458.19 L372.60,457.95 L375.94,457.72 L379.28,457.49 L382.62,457.26 L385.96,457.04 L389.30,456.82 L392.64,456.60 L395.98,456.38 L399.32,456.16 L402.67,455.94 L406.01,455.71 L409.35,455.48 L412.69,455.24 L416.03,455.00 L419.37,454.75 L422.71,454.50 L426.05,454.23 L429.39,453.96 L432.73,453.67 L436.08,453.37 L439.42,453.06 L442.76,452.74 L446.10,452.40 L449.44,452.05 L452.78,451.68 L456.12,451.30 L459.46,450.90 L462.80,450.48 L466.14,450.04 L469.49,449.58 L472.83,449.10 L476.17,448.59 L479.51,448.07 L482.85,447.52 L486.19,446.95 L489.53,446.35 L492.87,445.73 L496.21,445.08 L499.55,444.41 L502.90,443.71 L506.24,442.97 L509.58,442.21 L512.92,441.42 L516.26,440.60 L519.60,439.75 L522.94,438.86 L526.28,437.94 L529.62,436.99 L532.96,436.01 L536.31,434.98 L539.65,433.93 L542.99,432.84 L546.33,431.71 L549.67,430.54 L553.01,429.33 L556.35,428.09 L559.69,426.80 L563.03,425.48 L566.37,424.11 L569.72,422.71 L573.06,421.26 L576.40,419.77 L579.74,418.23 L583.08,416.66 L586.42,415.03 L589.76,413.37 L593.10,411.65 L596.44,409.90 L599.78,408.09 L603.13,406.24 L606.47,404.34 L609.81,402.39 L613.15,400.39 L616.49,398.35" fill="none" stroke="#47009a" stroke-width="2.4" stroke-linecap="butt" stroke-linejoin="round"/>
<path d="M352.55,459.50 L355.82,459.05 L359.10,458.60 L362.37,458.14 L365.64,457.69 L368.92,457.24 L372.19,456.78 L375.47,456.32 L378.74,455.86 L382.01,455.39 L385.29,454.92 L388.56,454.45 L391.83,453.97 L395.11,453.48 L398.38,452.99 L401.66,452.49 L404.93,451.98 L408.20,451.47 L411.48,450.94 L414.75,450.41 L418.02,449.87 L421.30,449.32 L424.57,448.75 L427.85,448.18 L431.12,447.59 L434.39,446.99 L437.67,446.38 L440.94,445.76 L444.21,445.12 L447.49,444.46 L450.76,443.79 L454.04,443.11 L457.31,442.40 L460.58,441.69 L463.86,440.95 L467.13,440.20 L470.40,439.42 L473.68,438.63 L476.95,437.82 L480.22,436.99 L483.50,436.14 L486.77,435.26 L490.05,434.37 L493.32,433.45 L496.59,432.51 L499.87,431.55 L503.14,430.56 L506.41,429.55 L509.69,428.51 L512.96,427.45 L516.24,426.36 L519.51,425.24 L522.78,424.10 L526.06,422.93 L529.33,421.73 L532.60,420.50 L535.88,419.24 L539.15,417.95 L542.43,416.63 L545.70,415.28 L548.97,413.90 L552.25,412.48 L555.52,411.04 L558.79,409.56 L562.07,408.04 L565.34,406.49 L568.62,404.91 L571.89,403.29 L575.16,401.63 L578.44,399.94 L581.71,398.21 L584.98,396.44 L588.26,394.64 L591.53,392.79 L594.80,390.91 L598.08,388.98 L601.35,387.02 L604.63,385.01 L607.90,382.97 L611.17,380.88" fill="none" stroke="#0e8a98" stroke-width="2.4" stroke-linecap="butt" stroke-linejoin="round"/>
<path d="M352.55,459.50 L355.49,459.03 L358.43,458.56 L361.38,458.09 L364.32,457.62 L367.26,457.15 L370.20,456.68 L373.15,456.20 L376.09,455.72 L379.03,455.23 L381.97,454.73 L384.92,454.23 L387.86,453.72 L390.80,453.20 L393.74,452.67 L396.68,452.13 L399.63,451.58 L402.57,451.02 L405.51,450.44 L408.45,449.84 L411.40,449.23 L414.34,448.61 L417.28,447.96 L420.22,447.30 L423.17,446.62 L426.11,445.91 L429.05,445.19 L431.99,444.45 L434.93,443.68 L437.88,442.88 L440.82,442.07 L443.76,441.22 L446.70,440.35 L449.65,439.45 L452.59,438.53 L455.53,437.57 L458.47,436.58 L461.42,435.56 L464.36,434.51 L467.30,433.43 L470.24,432.31 L473.18,431.16 L476.13,429.97 L479.07,428.74 L482.01,427.48 L484.95,426.17 L487.90,424.83 L490.84,423.45 L493.78,422.02 L496.72,420.55 L499.67,419.04 L502.61,417.48 L505.55,415.88 L508.49,414.23 L511.43,412.54 L514.38,410.80 L517.32,409.00 L520.26,407.16 L523.20,405.27 L526.15,403.33 L529.09,401.33 L532.03,399.28 L534.97,397.17 L537.92,395.01 L540.86,392.79 L543.80,390.52 L546.74,388.18 L549.68,385.79 L552.63,383.34 L555.57,380.82 L558.51,378.25 L561.45,375.61 L564.40,372.91 L567.34,370.14 L570.28,367.31 L573.22,364.41 L576.17,361.44 L579.11,358.40 L582.05,355.30 L584.99,352.12" fill="none" stroke="#c8dc0a" stroke-width="2.4" stroke-linecap="butt" stroke-linejoin="round"/>
<rect x="339.50" y="322.50" width="283.30" height="141.70" fill="none" stroke="#505050" stroke-width="1.15"/>
<line x1="352.55" y1="464.20" x2="352.55" y2="466.80" stroke="#333" stroke-width="1.1"/>
<line x1="405.71" y1="464.20" x2="405.71" y2="466.80" stroke="#333" stroke-width="1.1"/>
<line x1="458.87" y1="464.20" x2="458.87" y2="466.80" stroke="#333" stroke-width="1.1"/>
<line x1="512.03" y1="464.20" x2="512.03" y2="466.80" stroke="#333" stroke-width="1.1"/>
<line x1="565.19" y1="464.20" x2="565.19" y2="466.80" stroke="#333" stroke-width="1.1"/>
<line x1="618.35" y1="464.20" x2="618.35" y2="466.80" stroke="#333" stroke-width="1.1"/>
<line x1="336.90" y1="459.50" x2="339.50" y2="459.50" stroke="#333" stroke-width="1.1"/>
<line x1="336.90" y1="436.65" x2="339.50" y2="436.65" stroke="#333" stroke-width="1.1"/>
<line x1="336.90" y1="413.80" x2="339.50" y2="413.80" stroke="#333" stroke-width="1.1"/>
<line x1="336.90" y1="390.95" x2="339.50" y2="390.95" stroke="#333" stroke-width="1.1"/>
<line x1="336.90" y1="368.10" x2="339.50" y2="368.10" stroke="#333" stroke-width="1.1"/>
<line x1="336.90" y1="345.25" x2="339.50" y2="345.25" stroke="#333" stroke-width="1.1"/>
<line x1="336.90" y1="322.40" x2="339.50" y2="322.40" stroke="#333" stroke-width="1.1"/>
<text x="352.75" y="476.30" text-anchor="middle" font-size="11.4" fill="#1a1a1a" stroke="#1a1a1a" stroke-width="0.3">0.0</text>
<text x="405.91" y="476.30" text-anchor="middle" font-size="11.4" fill="#1a1a1a" stroke="#1a1a1a" stroke-width="0.3">0.2</text>
<text x="459.07" y="476.30" text-anchor="middle" font-size="11.4" fill="#1a1a1a" stroke="#1a1a1a" stroke-width="0.3">0.4</text>
<text x="512.23" y="476.30" text-anchor="middle" font-size="11.4" fill="#1a1a1a" stroke="#1a1a1a" stroke-width="0.3">0.6</text>
<text x="565.39" y="476.30" text-anchor="middle" font-size="11.4" fill="#1a1a1a" stroke="#1a1a1a" stroke-width="0.3">0.8</text>
<text x="618.55" y="476.30" text-anchor="middle" font-size="11.4" fill="#1a1a1a" stroke="#1a1a1a" stroke-width="0.3">1.0</text>
<text x="481.15" y="488.70" text-anchor="middle" font-size="15" fill="#1a1a1a" stroke="#1a1a1a" stroke-width="0.25">x</text>
<text transform="translate(9.8,72.23) rotate(-90) scale(0.8,1)" text-anchor="middle" font-size="13" fill="#1a1a1a" stroke="#1a1a1a" stroke-width="0.2">F<tspan font-size="9.8" dy="0.3" letter-spacing="1.2">rim</tspan></text>
<text transform="translate(9.8,231.35) rotate(-90) scale(0.8,1)" text-anchor="middle" font-size="13" fill="#1a1a1a" stroke="#1a1a1a" stroke-width="0.2">F<tspan font-size="9.8" dy="0.3" letter-spacing="1.2">rim</tspan></text>
<text transform="translate(9.8,390.35) rotate(-90) scale(0.8,1)" text-anchor="middle" font-size="13" fill="#1a1a1a" stroke="#1a1a1a" stroke-width="0.2">F<tspan font-size="9.8" dy="0.3" letter-spacing="1.2">rim</tspan></text>
<text x="41.6" y="23.0" font-size="14" fill="#1a1a1a" stroke="#1a1a1a" stroke-width="0.22" textLength="71.43" lengthAdjust="spacingAndGlyphs">(a) All data</text>
<text x="41.6" y="42.6" font-size="14" fill="#1a1a1a" stroke="#1a1a1a" stroke-width="0.22" textLength="154.9" lengthAdjust="spacingAndGlyphs">Ice/graupel, D&gt;100µm</text>
<text x="346.3" y="23.0" font-size="14" fill="#1a1a1a" stroke="#1a1a1a" stroke-width="0.22" textLength="73.73" lengthAdjust="spacingAndGlyphs">(b) All data</text>
<text x="346.3" y="42.6" font-size="14" fill="#1a1a1a" stroke="#1a1a1a" stroke-width="0.22" textLength="130.3" lengthAdjust="spacingAndGlyphs">Graupel, D&gt;300µm</text>
<text x="41.6" y="182.70000000000002" font-size="14" fill="#1a1a1a" stroke="#1a1a1a" stroke-width="0.22" textLength="84.79" lengthAdjust="spacingAndGlyphs">(c) T &lt; -15 <tspan font-size="8" dx="1.2" dy="-4.8">o</tspan><tspan dx="0.2" dy="4.8">C</tspan></text>
<text x="41.6" y="202.3" font-size="14" fill="#1a1a1a" stroke="#1a1a1a" stroke-width="0.22" textLength="154.9" lengthAdjust="spacingAndGlyphs">Ice/graupel, D&gt;100µm</text>
<text x="346.3" y="182.70000000000002" font-size="14" fill="#1a1a1a" stroke="#1a1a1a" stroke-width="0.22" textLength="87.83" lengthAdjust="spacingAndGlyphs">(d) T &lt; -15 <tspan font-size="8" dx="1.2" dy="-4.8">o</tspan><tspan dx="0.2" dy="4.8">C</tspan></text>
<text x="346.3" y="202.3" font-size="14" fill="#1a1a1a" stroke="#1a1a1a" stroke-width="0.22" textLength="130.3" lengthAdjust="spacingAndGlyphs">Graupel, D&gt;300µm</text>
<text x="41.6" y="341.7" font-size="14" fill="#1a1a1a" stroke="#1a1a1a" stroke-width="0.22" textLength="110.95" lengthAdjust="spacingAndGlyphs">(e) -15 &lt; T &lt; 0 <tspan font-size="8" dx="1.2" dy="-4.8">o</tspan><tspan dx="0.2" dy="4.8">C</tspan></text>
<text x="41.6" y="361.29999999999995" font-size="14" fill="#1a1a1a" stroke="#1a1a1a" stroke-width="0.22" textLength="154.9" lengthAdjust="spacingAndGlyphs">Ice/graupel, D&gt;100µm</text>
<text x="346.3" y="341.7" font-size="14" fill="#1a1a1a" stroke="#1a1a1a" stroke-width="0.22" textLength="109.29" lengthAdjust="spacingAndGlyphs">(f) -15 &lt; T &lt; 0 <tspan font-size="8" dx="1.2" dy="-4.8">o</tspan><tspan dx="0.2" dy="4.8">C</tspan></text>
<text x="346.3" y="361.29999999999995" font-size="14" fill="#1a1a1a" stroke="#1a1a1a" stroke-width="0.22" textLength="130.3" lengthAdjust="spacingAndGlyphs">Graupel, D&gt;300µm</text>
<text x="41.6" y="63.8" font-size="14" fill="#c8dc0a" stroke="#c8dc0a" stroke-width="0.22" textLength="93.63" lengthAdjust="spacingAndGlyphs">ΔR<tspan font-size="11.5" dy="0.6">rim,norm</tspan><tspan dy="-0.6"></tspan>&gt;20</text>
<text x="41.6" y="83.7" font-size="14" fill="#0e8a98" stroke="#0e8a98" stroke-width="0.22" textLength="117.76" lengthAdjust="spacingAndGlyphs">10&lt;ΔR<tspan font-size="11.5" dy="0.6">rim,norm</tspan><tspan dy="-0.6"></tspan>&lt;20</text>
<text x="41.6" y="103.2" font-size="14" fill="#4a0a7c" stroke="#4a0a7c" stroke-width="0.22" textLength="109.94" lengthAdjust="spacingAndGlyphs">0&lt;ΔR<tspan font-size="11.5" dy="0.6">rim,norm</tspan><tspan dy="-0.6"></tspan>&lt;10</text>
<defs><linearGradient id="cb" x1="0" y1="0" x2="0" y2="1"><stop offset="0.000" stop-color="#ffe200"/><stop offset="0.050" stop-color="#e1e005"/><stop offset="0.100" stop-color="#c3de0a"/><stop offset="0.150" stop-color="#84d621"/><stop offset="0.200" stop-color="#46cd37"/><stop offset="0.250" stop-color="#2dc64e"/><stop offset="0.300" stop-color="#14be64"/><stop offset="0.350" stop-color="#0fb273"/><stop offset="0.400" stop-color="#0aa582"/><stop offset="0.450" stop-color="#0e9a8a"/><stop offset="0.500" stop-color="#128e91"/><stop offset="0.550" stop-color="#168496"/><stop offset="0.600" stop-color="#197a9b"/><stop offset="0.650" stop-color="#216c9e"/><stop offset="0.700" stop-color="#285fa0"/><stop offset="0.750" stop-color="#364c9b"/><stop offset="0.800" stop-color="#443a96"/><stop offset="0.850" stop-color="#4a2989"/><stop offset="0.900" stop-color="#50197d"/><stop offset="0.950" stop-color="#510f71"/><stop offset="1.000" stop-color="#520666"/></linearGradient></defs>
<rect x="634.6" y="106.4" width="9.0" height="247.79999999999998" fill="url(#cb)" stroke="#555" stroke-width="0.8"/>
<line x1="643.6" y1="354.20" x2="646.20" y2="354.20" stroke="#505050" stroke-width="1"/>
<text x="648.9" y="360.40" font-size="15.6" fill="#1a1a1a" stroke="#1a1a1a" stroke-width="0.3" textLength="8.4" lengthAdjust="spacingAndGlyphs">0</text>
<line x1="643.6" y1="312.90" x2="646.20" y2="312.90" stroke="#505050" stroke-width="1"/>
<text x="648.9" y="319.10" font-size="15.6" fill="#1a1a1a" stroke="#1a1a1a" stroke-width="0.3" textLength="8.4" lengthAdjust="spacingAndGlyphs">5</text>
<line x1="643.6" y1="271.60" x2="646.20" y2="271.60" stroke="#505050" stroke-width="1"/>
<text x="648.9" y="277.80" font-size="15.6" fill="#1a1a1a" stroke="#1a1a1a" stroke-width="0.3" textLength="15.9" lengthAdjust="spacingAndGlyphs">10</text>
<line x1="643.6" y1="230.30" x2="646.20" y2="230.30" stroke="#505050" stroke-width="1"/>
<text x="648.9" y="236.50" font-size="15.6" fill="#1a1a1a" stroke="#1a1a1a" stroke-width="0.3" textLength="15.9" lengthAdjust="spacingAndGlyphs">15</text>
<line x1="643.6" y1="189.00" x2="646.20" y2="189.00" stroke="#505050" stroke-width="1"/>
<text x="648.9" y="195.20" font-size="15.6" fill="#1a1a1a" stroke="#1a1a1a" stroke-width="0.3" textLength="15.9" lengthAdjust="spacingAndGlyphs">20</text>
<line x1="643.6" y1="147.70" x2="646.20" y2="147.70" stroke="#505050" stroke-width="1"/>
<text x="648.9" y="153.90" font-size="15.6" fill="#1a1a1a" stroke="#1a1a1a" stroke-width="0.3" textLength="15.9" lengthAdjust="spacingAndGlyphs">25</text>
<line x1="643.6" y1="106.40" x2="646.20" y2="106.40" stroke="#505050" stroke-width="1"/>
<text x="648.9" y="113.90" font-size="15.6" fill="#1a1a1a" stroke="#1a1a1a" stroke-width="0.3" textLength="15.9" lengthAdjust="spacingAndGlyphs">30</text>
<text transform="translate(680.9,230.4) rotate(-90)" text-anchor="middle" font-size="15" fill="#1a1a1a" stroke="#1a1a1a" stroke-width="0.25">Range of normalized R<tspan font-size="12" dy="0.5">rim</tspan></text>
</svg></body></html>
